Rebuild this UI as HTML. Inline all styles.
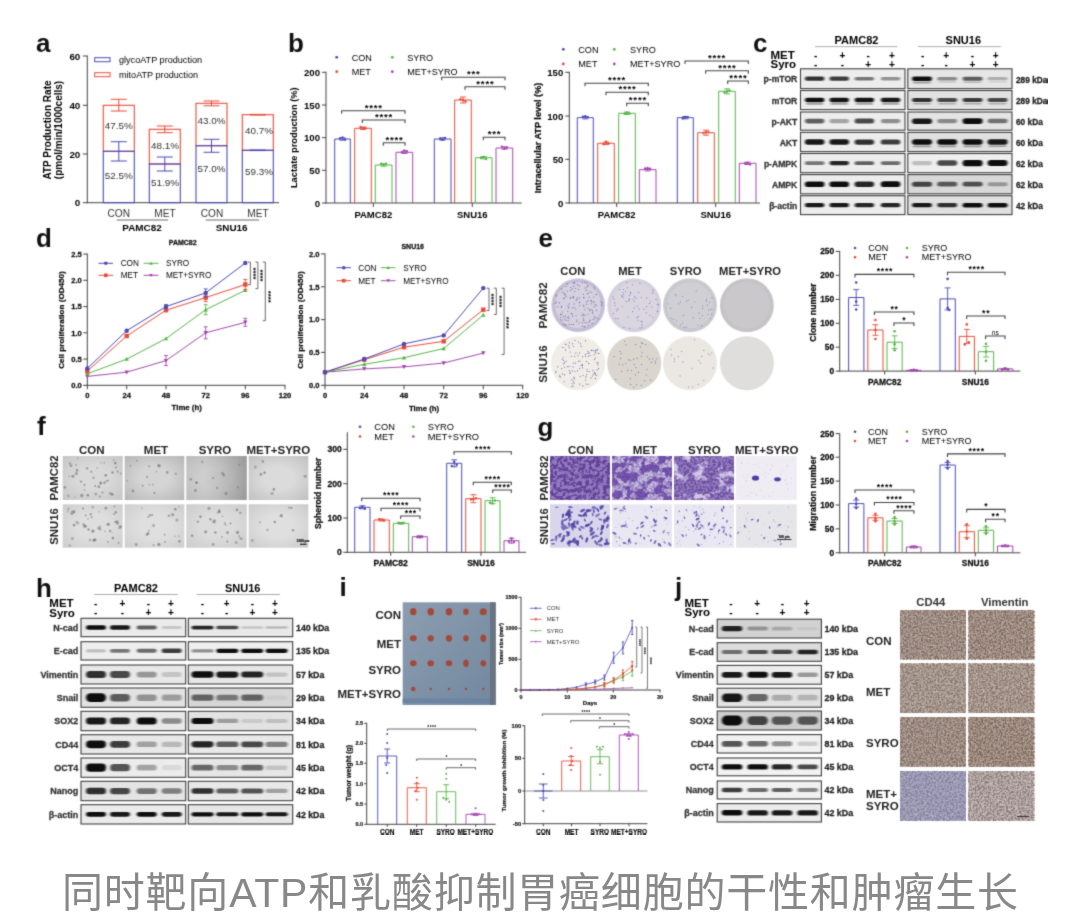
<!DOCTYPE html>
<html lang="zh"><head><meta charset="utf-8"><title>Figure</title>
<style>
html,body{margin:0;padding:0;background:#fff;}
body{width:1080px;height:923px;position:relative;overflow:hidden;font-family:"Liberation Sans","Noto Sans CJK SC",sans-serif;}
svg{position:absolute;left:0;top:0;display:block;font-family:"Liberation Sans","Noto Sans CJK SC",sans-serif;}
.cap{position:absolute;left:0;top:865px;width:1080px;text-align:center;font-size:41px;line-height:56px;color:#888;letter-spacing:0.8px;text-indent:0.8px;white-space:nowrap;}
</style></head><body>
<svg width="1080" height="923" viewBox="0 0 1080 923">
<defs>
<filter id="bl" x="-20%" y="-60%" width="140%" height="220%"><feGaussianBlur stdDeviation="1.1 0.7"/></filter>
<filter id="bl2" x="-20%" y="-60%" width="140%" height="220%"><feGaussianBlur stdDeviation="1.6 1.3"/></filter>
<filter id="soft"><feGaussianBlur stdDeviation="0.6"/></filter>
<filter id="nz" x="0" y="0" width="100%" height="100%" color-interpolation-filters="sRGB"><feTurbulence type="fractalNoise" baseFrequency="0.6" numOctaves="2" seed="4"/><feColorMatrix type="matrix" values="0 0 0 0 0.45  0 0 0 0 0.35  0 0 0 0 0.30  6 0 0 0 -2.6"/></filter>
<filter id="nzl" x="0" y="0" width="100%" height="100%" color-interpolation-filters="sRGB"><feTurbulence type="fractalNoise" baseFrequency="0.45" numOctaves="2" seed="17"/><feColorMatrix type="matrix" values="0 0 0 0 0.86  0 0 0 0 0.83  0 0 0 0 0.82  7 0 0 0 -3.9"/></filter>
<filter id="nzb" x="0" y="0" width="100%" height="100%" color-interpolation-filters="sRGB"><feTurbulence type="fractalNoise" baseFrequency="0.55" numOctaves="2" seed="9"/><feColorMatrix type="matrix" values="0 0 0 0 0.42  0 0 0 0 0.41  0 0 0 0 0.58  6 0 0 0 -2.7"/></filter>
<filter id="nzg" x="0" y="0" width="100%" height="100%"><feTurbulence type="fractalNoise" baseFrequency="0.35" numOctaves="2" seed="2"/><feColorMatrix type="matrix" values="0 0 0 0 0.3  0 0 0 0 0.3  0 0 0 0 0.3  0.9 0 0 0 -0.35"/></filter>
<filter id="gA" x="0" y="0" width="100%" height="100%" color-interpolation-filters="sRGB"><feTurbulence type="fractalNoise" baseFrequency="0.28" numOctaves="3" seed="5"/><feColorMatrix type="matrix" values="0 0 0 0 0.36  0 0 0 0 0.22  0 0 0 0 0.58  7 0 0 0 -3.0"/></filter>
<filter id="gB" x="0" y="0" width="100%" height="100%" color-interpolation-filters="sRGB"><feTurbulence type="fractalNoise" baseFrequency="0.11" numOctaves="4" seed="8"/><feColorMatrix type="matrix" values="0 0 0 0 0.45  0 0 0 0 0.32  0 0 0 0 0.68  8 0 0 0 -3.5"/></filter>
<filter id="gC" x="0" y="0" width="100%" height="100%" color-interpolation-filters="sRGB"><feTurbulence type="fractalNoise" baseFrequency="0.085" numOctaves="4" seed="14"/><feColorMatrix type="matrix" values="0 0 0 0 0.84  0 0 0 0 0.80  0 0 0 0 0.92  10 0 0 0 -5.5"/></filter>
<filter id="gD" x="0" y="0" width="100%" height="100%" color-interpolation-filters="sRGB"><feTurbulence type="fractalNoise" baseFrequency="0.38" numOctaves="2" seed="21"/><feColorMatrix type="matrix" values="0 0 0 0 0.33  0 0 0 0 0.20  0 0 0 0 0.56  7 0 0 0 -3.1"/></filter>
<radialGradient id="vg2" cx="50%" cy="50%" r="72%"><stop offset="0.35" stop-color="#777" stop-opacity="0"/><stop offset="1" stop-color="#666" stop-opacity="1"/></radialGradient>
<linearGradient id="vgr" x1="0" y1="0" x2="1" y2="0"><stop offset="0.3" stop-color="#777" stop-opacity="0"/><stop offset="1" stop-color="#666" stop-opacity="1"/></linearGradient>
<radialGradient id="vg" cx="50%" cy="50%" r="75%"><stop offset="0.4" stop-color="#888" stop-opacity="0"/><stop offset="1" stop-color="#555" stop-opacity="1"/></radialGradient>
<filter id="gsoft" x="0" y="0" width="100%" height="100%" color-interpolation-filters="sRGB"><feConvolveMatrix order="3" kernelMatrix="0.0225 0.105 0.0225 0.105 0.49 0.105 0.0225 0.105 0.0225" divisor="1" edgeMode="duplicate"/></filter>
</defs>

<g id="fig" filter="url(#gsoft)">
<text x="36.0" y="52.0" font-size="26" font-weight="bold" fill="#111">a</text>
<line x1="87.3" y1="55.5" x2="87.3" y2="203.2" stroke="#444" stroke-width="1"/>
<line x1="82.8" y1="56.0" x2="87.3" y2="56.0" stroke="#444" stroke-width="1"/>
<text x="80.3" y="59.5" font-size="9.8" font-weight="bold" text-anchor="end">60</text>
<line x1="82.8" y1="105.3" x2="87.3" y2="105.3" stroke="#444" stroke-width="1"/>
<text x="80.3" y="108.8" font-size="9.8" font-weight="bold" text-anchor="end">40</text>
<line x1="82.8" y1="154.0" x2="87.3" y2="154.0" stroke="#444" stroke-width="1"/>
<text x="80.3" y="157.5" font-size="9.8" font-weight="bold" text-anchor="end">20</text>
<line x1="82.8" y1="202.7" x2="87.3" y2="202.7" stroke="#444" stroke-width="1"/>
<text x="80.3" y="206.2" font-size="9.8" font-weight="bold" text-anchor="end">0</text>
<line x1="86.8" y1="202.7" x2="279.0" y2="202.7" stroke="#444" stroke-width="1"/>
<text x="50.8" y="130.0" font-size="10" font-weight="bold" text-anchor="middle" transform="rotate(-90 50.8 130.0)">ATP Production Rate</text>
<text x="62.0" y="130.0" font-size="10" font-weight="bold" text-anchor="middle" transform="rotate(-90 62.0 130.0)">(pmol/min/1000cells)</text>
<rect x="94.7" y="57.7" width="15.3" height="4.0" fill="none" stroke="#4a4ab8" stroke-width="1"/>
<text x="119.0" y="63.2" font-size="9.1">glycoATP production</text>
<rect x="94.7" y="72.7" width="15.3" height="4.0" fill="none" stroke="#ea4a35" stroke-width="1"/>
<text x="119.0" y="78.2" font-size="9.1">mitoATP production</text>
<rect x="103.3" y="105.3" width="31.0" height="46.0" fill="none" stroke="#ea4a35" stroke-width="1.1"/>
<rect x="103.3" y="151.3" width="31.0" height="51.4" fill="none" stroke="#4a4ab8" stroke-width="1.1"/>
<line x1="118.8" y1="99.3" x2="118.8" y2="111.0" stroke="#ea4a35" stroke-width="1"/>
<line x1="110.8" y1="99.3" x2="126.8" y2="99.3" stroke="#ea4a35" stroke-width="1"/>
<line x1="110.8" y1="111.0" x2="126.8" y2="111.0" stroke="#ea4a35" stroke-width="1"/>
<line x1="118.8" y1="141.7" x2="118.8" y2="161.0" stroke="#4a4ab8" stroke-width="1"/>
<line x1="110.8" y1="141.7" x2="126.8" y2="141.7" stroke="#4a4ab8" stroke-width="1"/>
<line x1="110.8" y1="161.0" x2="126.8" y2="161.0" stroke="#4a4ab8" stroke-width="1"/>
<rect x="149.3" y="129.3" width="31.0" height="34.7" fill="none" stroke="#ea4a35" stroke-width="1.1"/>
<rect x="149.3" y="164.0" width="31.0" height="38.7" fill="none" stroke="#4a4ab8" stroke-width="1.1"/>
<line x1="164.8" y1="126.0" x2="164.8" y2="132.7" stroke="#ea4a35" stroke-width="1"/>
<line x1="156.8" y1="126.0" x2="172.8" y2="126.0" stroke="#ea4a35" stroke-width="1"/>
<line x1="156.8" y1="132.7" x2="172.8" y2="132.7" stroke="#ea4a35" stroke-width="1"/>
<line x1="164.8" y1="157.0" x2="164.8" y2="171.0" stroke="#4a4ab8" stroke-width="1"/>
<line x1="156.8" y1="157.0" x2="172.8" y2="157.0" stroke="#4a4ab8" stroke-width="1"/>
<line x1="156.8" y1="171.0" x2="172.8" y2="171.0" stroke="#4a4ab8" stroke-width="1"/>
<rect x="196.0" y="103.3" width="31.0" height="42.4" fill="none" stroke="#ea4a35" stroke-width="1.1"/>
<rect x="196.0" y="145.7" width="31.0" height="57.0" fill="none" stroke="#4a4ab8" stroke-width="1.1"/>
<line x1="211.5" y1="101.0" x2="211.5" y2="105.8" stroke="#ea4a35" stroke-width="1"/>
<line x1="203.5" y1="101.0" x2="219.5" y2="101.0" stroke="#ea4a35" stroke-width="1"/>
<line x1="203.5" y1="105.8" x2="219.5" y2="105.8" stroke="#ea4a35" stroke-width="1"/>
<line x1="211.5" y1="139.3" x2="211.5" y2="152.3" stroke="#4a4ab8" stroke-width="1"/>
<line x1="203.5" y1="139.3" x2="219.5" y2="139.3" stroke="#4a4ab8" stroke-width="1"/>
<line x1="203.5" y1="152.3" x2="219.5" y2="152.3" stroke="#4a4ab8" stroke-width="1"/>
<rect x="242.3" y="114.7" width="31.0" height="35.6" fill="none" stroke="#ea4a35" stroke-width="1.1"/>
<rect x="242.3" y="150.3" width="31.0" height="52.4" fill="none" stroke="#4a4ab8" stroke-width="1.1"/>
<line x1="257.8" y1="114.4" x2="257.8" y2="115.0" stroke="#ea4a35" stroke-width="1"/>
<line x1="249.8" y1="114.4" x2="265.8" y2="114.4" stroke="#ea4a35" stroke-width="1"/>
<line x1="249.8" y1="115.0" x2="265.8" y2="115.0" stroke="#ea4a35" stroke-width="1"/>
<line x1="257.8" y1="150.0" x2="257.8" y2="150.6" stroke="#4a4ab8" stroke-width="1"/>
<line x1="249.8" y1="150.0" x2="265.8" y2="150.0" stroke="#4a4ab8" stroke-width="1"/>
<line x1="249.8" y1="150.6" x2="265.8" y2="150.6" stroke="#4a4ab8" stroke-width="1"/>
<text x="118.8" y="129.0" font-size="9.9" text-anchor="middle" fill="#333">47.5%</text>
<text x="118.8" y="179.0" font-size="9.9" text-anchor="middle" fill="#333">52.5%</text>
<text x="165.0" y="149.0" font-size="9.9" text-anchor="middle" fill="#333">48.1%</text>
<text x="165.0" y="185.5" font-size="9.9" text-anchor="middle" fill="#333">51.9%</text>
<text x="211.5" y="124.0" font-size="9.9" text-anchor="middle" fill="#333">43.0%</text>
<text x="211.5" y="172.3" font-size="9.9" text-anchor="middle" fill="#333">57.0%</text>
<text x="259.0" y="134.0" font-size="9.9" text-anchor="middle" fill="#333">40.7%</text>
<text x="259.0" y="175.0" font-size="9.9" text-anchor="middle" fill="#333">59.3%</text>
<text x="118.8" y="216.8" font-size="10.1" text-anchor="middle" fill="#333">CON</text>
<text x="165.0" y="216.8" font-size="10.1" text-anchor="middle" fill="#333">MET</text>
<text x="212.0" y="216.8" font-size="10.1" text-anchor="middle" fill="#333">CON</text>
<text x="258.0" y="216.8" font-size="10.1" text-anchor="middle" fill="#333">MET</text>
<line x1="116.7" y1="220.0" x2="168.0" y2="220.0" stroke="#444" stroke-width="0.8"/>
<line x1="205.7" y1="220.0" x2="259.0" y2="220.0" stroke="#444" stroke-width="0.8"/>
<text x="142.0" y="230.8" font-size="9.9" font-weight="bold" text-anchor="middle">PAMC82</text>
<text x="231.7" y="230.8" font-size="9.9" font-weight="bold" text-anchor="middle">SNU16</text>
<text x="288.0" y="52.0" font-size="26" font-weight="bold" fill="#111">b</text>
<circle cx="336.7" cy="57.3" r="1.4" fill="#4a4ab8"/>
<text x="351.7" y="60.6" font-size="9.1">CON</text>
<circle cx="336.7" cy="71.7" r="1.4" fill="#ea4a35"/>
<text x="351.7" y="75.0" font-size="9.1">MET</text>
<circle cx="392.3" cy="57.3" r="1.4" fill="#55b546"/>
<text x="407.3" y="60.6" font-size="9.1">SYRO</text>
<circle cx="392.3" cy="71.7" r="1.4" fill="#a247ad"/>
<text x="407.3" y="75.0" font-size="9.1">MET+SYRO</text>
<line x1="326.0" y1="71.8" x2="326.0" y2="203.5" stroke="#444" stroke-width="1"/>
<line x1="322.0" y1="72.3" x2="326.0" y2="72.3" stroke="#444" stroke-width="1"/>
<text x="320.0" y="75.8" font-size="9.6" font-weight="bold" text-anchor="end">200</text>
<line x1="322.0" y1="105.0" x2="326.0" y2="105.0" stroke="#444" stroke-width="1"/>
<text x="320.0" y="108.5" font-size="9.6" font-weight="bold" text-anchor="end">150</text>
<line x1="322.0" y1="137.7" x2="326.0" y2="137.7" stroke="#444" stroke-width="1"/>
<text x="320.0" y="141.2" font-size="9.6" font-weight="bold" text-anchor="end">100</text>
<line x1="322.0" y1="170.3" x2="326.0" y2="170.3" stroke="#444" stroke-width="1"/>
<text x="320.0" y="173.8" font-size="9.6" font-weight="bold" text-anchor="end">50</text>
<line x1="322.0" y1="203.0" x2="326.0" y2="203.0" stroke="#444" stroke-width="1"/>
<text x="320.0" y="206.5" font-size="9.6" font-weight="bold" text-anchor="end">0</text>
<line x1="325.5" y1="203.0" x2="521.7" y2="203.0" stroke="#444" stroke-width="1"/>
<line x1="373.3" y1="203.0" x2="373.3" y2="207.0" stroke="#444" stroke-width="1"/>
<line x1="472.3" y1="203.0" x2="472.3" y2="207.0" stroke="#444" stroke-width="1"/>
<text x="297.5" y="137.7" font-size="9.3" font-weight="bold" text-anchor="middle" transform="rotate(-90 297.5 137.7)">Lactate production (%)</text>
<path d="M334.7 203.0V139.0H350.3V203.0" stroke="#4a4ab8" stroke-width="1.0" fill="none"/>
<line x1="342.5" y1="137.8" x2="342.5" y2="140.2" stroke="#4a4ab8" stroke-width="0.9"/>
<line x1="339.5" y1="137.8" x2="345.5" y2="137.8" stroke="#4a4ab8" stroke-width="0.9"/>
<line x1="339.5" y1="140.2" x2="345.5" y2="140.2" stroke="#4a4ab8" stroke-width="0.9"/>
<circle cx="340.0" cy="138.5" r="1.2" fill="#4a4ab8"/>
<circle cx="342.5" cy="137.5" r="1.2" fill="#4a4ab8"/>
<circle cx="345.0" cy="139.5" r="1.2" fill="#4a4ab8"/>
<path d="M354.7 203.0V128.3H371.3V203.0" stroke="#ea4a35" stroke-width="1.0" fill="none"/>
<line x1="363.0" y1="127.1" x2="363.0" y2="129.5" stroke="#ea4a35" stroke-width="0.9"/>
<line x1="360.0" y1="127.1" x2="366.0" y2="127.1" stroke="#ea4a35" stroke-width="0.9"/>
<line x1="360.0" y1="129.5" x2="366.0" y2="129.5" stroke="#ea4a35" stroke-width="0.9"/>
<circle cx="360.5" cy="127.0" r="1.2" fill="#ea4a35"/>
<circle cx="363.0" cy="127.9" r="1.2" fill="#ea4a35"/>
<circle cx="365.5" cy="127.9" r="1.2" fill="#ea4a35"/>
<path d="M375.3 203.0V165.0H392.0V203.0" stroke="#55b546" stroke-width="1.0" fill="none"/>
<line x1="383.6" y1="163.8" x2="383.6" y2="166.2" stroke="#55b546" stroke-width="0.9"/>
<line x1="380.6" y1="163.8" x2="386.6" y2="163.8" stroke="#55b546" stroke-width="0.9"/>
<line x1="380.6" y1="166.2" x2="386.6" y2="166.2" stroke="#55b546" stroke-width="0.9"/>
<circle cx="381.1" cy="163.7" r="1.2" fill="#55b546"/>
<circle cx="383.6" cy="164.5" r="1.2" fill="#55b546"/>
<circle cx="386.1" cy="163.6" r="1.2" fill="#55b546"/>
<path d="M396.0 203.0V152.3H412.7V203.0" stroke="#a247ad" stroke-width="1.0" fill="none"/>
<line x1="404.4" y1="151.1" x2="404.4" y2="153.5" stroke="#a247ad" stroke-width="0.9"/>
<line x1="401.4" y1="151.1" x2="407.4" y2="151.1" stroke="#a247ad" stroke-width="0.9"/>
<line x1="401.4" y1="153.5" x2="407.4" y2="153.5" stroke="#a247ad" stroke-width="0.9"/>
<circle cx="401.9" cy="152.1" r="1.2" fill="#a247ad"/>
<circle cx="404.4" cy="150.5" r="1.2" fill="#a247ad"/>
<circle cx="406.9" cy="151.1" r="1.2" fill="#a247ad"/>
<path d="M434.3 203.0V139.0H451.0V203.0" stroke="#4a4ab8" stroke-width="1.0" fill="none"/>
<line x1="442.6" y1="137.8" x2="442.6" y2="140.2" stroke="#4a4ab8" stroke-width="0.9"/>
<line x1="439.6" y1="137.8" x2="445.6" y2="137.8" stroke="#4a4ab8" stroke-width="0.9"/>
<line x1="439.6" y1="140.2" x2="445.6" y2="140.2" stroke="#4a4ab8" stroke-width="0.9"/>
<circle cx="440.1" cy="138.8" r="1.2" fill="#4a4ab8"/>
<circle cx="442.6" cy="139.5" r="1.2" fill="#4a4ab8"/>
<circle cx="445.1" cy="137.9" r="1.2" fill="#4a4ab8"/>
<path d="M454.7 203.0V100.0H471.3V203.0" stroke="#ea4a35" stroke-width="1.0" fill="none"/>
<line x1="463.0" y1="97.0" x2="463.0" y2="103.0" stroke="#ea4a35" stroke-width="0.9"/>
<line x1="460.0" y1="97.0" x2="466.0" y2="97.0" stroke="#ea4a35" stroke-width="0.9"/>
<line x1="460.0" y1="103.0" x2="466.0" y2="103.0" stroke="#ea4a35" stroke-width="0.9"/>
<circle cx="460.5" cy="99.2" r="1.2" fill="#ea4a35"/>
<circle cx="463.0" cy="99.9" r="1.2" fill="#ea4a35"/>
<circle cx="465.5" cy="101.3" r="1.2" fill="#ea4a35"/>
<path d="M475.3 203.0V157.7H492.0V203.0" stroke="#55b546" stroke-width="1.0" fill="none"/>
<line x1="483.6" y1="156.5" x2="483.6" y2="158.9" stroke="#55b546" stroke-width="0.9"/>
<line x1="480.6" y1="156.5" x2="486.6" y2="156.5" stroke="#55b546" stroke-width="0.9"/>
<line x1="480.6" y1="158.9" x2="486.6" y2="158.9" stroke="#55b546" stroke-width="0.9"/>
<circle cx="481.1" cy="157.9" r="1.2" fill="#55b546"/>
<circle cx="483.6" cy="156.9" r="1.2" fill="#55b546"/>
<circle cx="486.1" cy="159.1" r="1.2" fill="#55b546"/>
<path d="M496.0 203.0V148.0H512.7V203.0" stroke="#a247ad" stroke-width="1.0" fill="none"/>
<line x1="504.4" y1="146.8" x2="504.4" y2="149.2" stroke="#a247ad" stroke-width="0.9"/>
<line x1="501.4" y1="146.8" x2="507.4" y2="146.8" stroke="#a247ad" stroke-width="0.9"/>
<line x1="501.4" y1="149.2" x2="507.4" y2="149.2" stroke="#a247ad" stroke-width="0.9"/>
<circle cx="501.9" cy="146.6" r="1.2" fill="#a247ad"/>
<circle cx="504.4" cy="148.6" r="1.2" fill="#a247ad"/>
<circle cx="506.9" cy="147.4" r="1.2" fill="#a247ad"/>
<path d="M341.7 113.7V110.7H405.0V113.7" stroke="#444" stroke-width="1.1" fill="none"/>
<text x="373.8" y="110.5" font-size="9.6" font-weight="bold" text-anchor="middle" letter-spacing="0.80">****</text>
<path d="M362.3 123.0V120.0H405.0V123.0" stroke="#444" stroke-width="1.1" fill="none"/>
<text x="384.0" y="119.8" font-size="9.6" font-weight="bold" text-anchor="middle" letter-spacing="0.80">****</text>
<path d="M383.3 145.7V142.7H405.0V145.7" stroke="#444" stroke-width="1.1" fill="none"/>
<text x="394.5" y="142.5" font-size="9.6" font-weight="bold" text-anchor="middle" letter-spacing="0.80">****</text>
<path d="M441.7 80.3V77.3H505.0V80.3" stroke="#444" stroke-width="1.1" fill="none"/>
<text x="473.8" y="77.1" font-size="9.6" font-weight="bold" text-anchor="middle" letter-spacing="0.80">***</text>
<path d="M465.0 89.7V86.7H505.0V89.7" stroke="#444" stroke-width="1.1" fill="none"/>
<text x="485.4" y="86.5" font-size="9.6" font-weight="bold" text-anchor="middle" letter-spacing="0.80">****</text>
<path d="M483.3 140.3V137.3H505.0V140.3" stroke="#444" stroke-width="1.1" fill="none"/>
<text x="494.5" y="137.1" font-size="9.6" font-weight="bold" text-anchor="middle" letter-spacing="0.80">***</text>
<text x="373.3" y="217.5" font-size="9.5" font-weight="bold" text-anchor="middle">PAMC82</text>
<text x="472.3" y="217.5" font-size="9.5" font-weight="bold" text-anchor="middle">SNU16</text>
<circle cx="563.3" cy="49.3" r="1.4" fill="#4a4ab8"/>
<text x="578.3" y="52.6" font-size="9.1">CON</text>
<circle cx="563.3" cy="64.0" r="1.4" fill="#ea4a35"/>
<text x="578.3" y="67.3" font-size="9.1">MET</text>
<circle cx="614.3" cy="49.3" r="1.4" fill="#55b546"/>
<text x="630.0" y="52.6" font-size="9.1">SYRO</text>
<circle cx="614.3" cy="64.0" r="1.4" fill="#a247ad"/>
<text x="630.0" y="67.3" font-size="9.1">MET+SYRO</text>
<line x1="569.3" y1="71.8" x2="569.3" y2="203.5" stroke="#444" stroke-width="1"/>
<line x1="565.3" y1="72.3" x2="569.3" y2="72.3" stroke="#444" stroke-width="1"/>
<text x="563.3" y="75.8" font-size="9.6" font-weight="bold" text-anchor="end">150</text>
<line x1="565.3" y1="116.0" x2="569.3" y2="116.0" stroke="#444" stroke-width="1"/>
<text x="563.3" y="119.5" font-size="9.6" font-weight="bold" text-anchor="end">100</text>
<line x1="565.3" y1="159.3" x2="569.3" y2="159.3" stroke="#444" stroke-width="1"/>
<text x="563.3" y="162.8" font-size="9.6" font-weight="bold" text-anchor="end">50</text>
<line x1="565.3" y1="203.0" x2="569.3" y2="203.0" stroke="#444" stroke-width="1"/>
<text x="563.3" y="206.5" font-size="9.6" font-weight="bold" text-anchor="end">0</text>
<line x1="568.8" y1="203.0" x2="760.0" y2="203.0" stroke="#444" stroke-width="1"/>
<line x1="616.7" y1="203.0" x2="616.7" y2="207.0" stroke="#444" stroke-width="1"/>
<line x1="715.7" y1="203.0" x2="715.7" y2="207.0" stroke="#444" stroke-width="1"/>
<text x="541.0" y="138.0" font-size="9.1" font-weight="bold" text-anchor="middle" stroke="#2a2a2a" stroke-width="0.28" transform="rotate(-90 541.0 138.0)">Intracellular ATP level (%)</text>
<path d="M577.3 203.0V117.7H593.3V203.0" stroke="#4a4ab8" stroke-width="1.0" fill="none"/>
<line x1="585.3" y1="116.5" x2="585.3" y2="118.9" stroke="#4a4ab8" stroke-width="0.9"/>
<line x1="582.3" y1="116.5" x2="588.3" y2="116.5" stroke="#4a4ab8" stroke-width="0.9"/>
<line x1="582.3" y1="118.9" x2="588.3" y2="118.9" stroke="#4a4ab8" stroke-width="0.9"/>
<circle cx="582.8" cy="116.6" r="1.2" fill="#4a4ab8"/>
<circle cx="585.3" cy="116.1" r="1.2" fill="#4a4ab8"/>
<circle cx="587.8" cy="117.1" r="1.2" fill="#4a4ab8"/>
<path d="M597.7 203.0V143.3H614.3V203.0" stroke="#ea4a35" stroke-width="1.0" fill="none"/>
<line x1="606.0" y1="142.1" x2="606.0" y2="144.5" stroke="#ea4a35" stroke-width="0.9"/>
<line x1="603.0" y1="142.1" x2="609.0" y2="142.1" stroke="#ea4a35" stroke-width="0.9"/>
<line x1="603.0" y1="144.5" x2="609.0" y2="144.5" stroke="#ea4a35" stroke-width="0.9"/>
<circle cx="603.5" cy="144.2" r="1.2" fill="#ea4a35"/>
<circle cx="606.0" cy="141.8" r="1.2" fill="#ea4a35"/>
<circle cx="608.5" cy="143.5" r="1.2" fill="#ea4a35"/>
<path d="M618.7 203.0V113.3H635.3V203.0" stroke="#55b546" stroke-width="1.0" fill="none"/>
<line x1="627.0" y1="112.1" x2="627.0" y2="114.5" stroke="#55b546" stroke-width="0.9"/>
<line x1="624.0" y1="112.1" x2="630.0" y2="112.1" stroke="#55b546" stroke-width="0.9"/>
<line x1="624.0" y1="114.5" x2="630.0" y2="114.5" stroke="#55b546" stroke-width="0.9"/>
<circle cx="624.5" cy="113.7" r="1.2" fill="#55b546"/>
<circle cx="627.0" cy="112.4" r="1.2" fill="#55b546"/>
<circle cx="629.5" cy="113.4" r="1.2" fill="#55b546"/>
<path d="M639.3 203.0V169.7H656.0V203.0" stroke="#a247ad" stroke-width="1.0" fill="none"/>
<line x1="647.6" y1="168.5" x2="647.6" y2="170.9" stroke="#a247ad" stroke-width="0.9"/>
<line x1="644.6" y1="168.5" x2="650.6" y2="168.5" stroke="#a247ad" stroke-width="0.9"/>
<line x1="644.6" y1="170.9" x2="650.6" y2="170.9" stroke="#a247ad" stroke-width="0.9"/>
<circle cx="645.1" cy="168.4" r="1.2" fill="#a247ad"/>
<circle cx="647.6" cy="167.9" r="1.2" fill="#a247ad"/>
<circle cx="650.1" cy="168.8" r="1.2" fill="#a247ad"/>
<path d="M677.3 203.0V117.7H693.3V203.0" stroke="#4a4ab8" stroke-width="1.0" fill="none"/>
<line x1="685.3" y1="116.5" x2="685.3" y2="118.9" stroke="#4a4ab8" stroke-width="0.9"/>
<line x1="682.3" y1="116.5" x2="688.3" y2="116.5" stroke="#4a4ab8" stroke-width="0.9"/>
<line x1="682.3" y1="118.9" x2="688.3" y2="118.9" stroke="#4a4ab8" stroke-width="0.9"/>
<circle cx="682.8" cy="118.2" r="1.2" fill="#4a4ab8"/>
<circle cx="685.3" cy="117.0" r="1.2" fill="#4a4ab8"/>
<circle cx="687.8" cy="117.1" r="1.2" fill="#4a4ab8"/>
<path d="M697.7 203.0V132.7H714.3V203.0" stroke="#ea4a35" stroke-width="1.0" fill="none"/>
<line x1="706.0" y1="130.2" x2="706.0" y2="135.2" stroke="#ea4a35" stroke-width="0.9"/>
<line x1="703.0" y1="130.2" x2="709.0" y2="130.2" stroke="#ea4a35" stroke-width="0.9"/>
<line x1="703.0" y1="135.2" x2="709.0" y2="135.2" stroke="#ea4a35" stroke-width="0.9"/>
<circle cx="703.5" cy="133.0" r="1.2" fill="#ea4a35"/>
<circle cx="706.0" cy="132.1" r="1.2" fill="#ea4a35"/>
<circle cx="708.5" cy="132.1" r="1.2" fill="#ea4a35"/>
<path d="M718.7 203.0V91.3H735.3V203.0" stroke="#55b546" stroke-width="1.0" fill="none"/>
<line x1="727.0" y1="88.8" x2="727.0" y2="93.8" stroke="#55b546" stroke-width="0.9"/>
<line x1="724.0" y1="88.8" x2="730.0" y2="88.8" stroke="#55b546" stroke-width="0.9"/>
<line x1="724.0" y1="93.8" x2="730.0" y2="93.8" stroke="#55b546" stroke-width="0.9"/>
<circle cx="724.5" cy="92.2" r="1.2" fill="#55b546"/>
<circle cx="727.0" cy="91.4" r="1.2" fill="#55b546"/>
<circle cx="729.5" cy="90.5" r="1.2" fill="#55b546"/>
<path d="M739.3 203.0V163.3H756.0V203.0" stroke="#a247ad" stroke-width="1.0" fill="none"/>
<line x1="747.6" y1="162.1" x2="747.6" y2="164.5" stroke="#a247ad" stroke-width="0.9"/>
<line x1="744.6" y1="162.1" x2="750.6" y2="162.1" stroke="#a247ad" stroke-width="0.9"/>
<line x1="744.6" y1="164.5" x2="750.6" y2="164.5" stroke="#a247ad" stroke-width="0.9"/>
<circle cx="745.1" cy="163.5" r="1.2" fill="#a247ad"/>
<circle cx="747.6" cy="162.9" r="1.2" fill="#a247ad"/>
<circle cx="750.1" cy="164.4" r="1.2" fill="#a247ad"/>
<path d="M585.0 86.3V83.3H648.3V86.3" stroke="#444" stroke-width="1.1" fill="none"/>
<text x="617.0" y="83.1" font-size="9.6" font-weight="bold" text-anchor="middle" letter-spacing="0.80">****</text>
<path d="M606.0 95.3V92.3H648.3V95.3" stroke="#444" stroke-width="1.1" fill="none"/>
<text x="627.5" y="92.1" font-size="9.6" font-weight="bold" text-anchor="middle" letter-spacing="0.80">****</text>
<path d="M626.7 106.3V103.3H648.3V106.3" stroke="#444" stroke-width="1.1" fill="none"/>
<text x="637.9" y="103.1" font-size="9.6" font-weight="bold" text-anchor="middle" letter-spacing="0.80">****</text>
<path d="M685.0 64.0V61.0H748.3V64.0" stroke="#444" stroke-width="1.1" fill="none"/>
<text x="717.0" y="60.8" font-size="9.6" font-weight="bold" text-anchor="middle" letter-spacing="0.80">****</text>
<path d="M705.7 73.7V70.7H748.3V73.7" stroke="#444" stroke-width="1.1" fill="none"/>
<text x="727.4" y="70.5" font-size="9.6" font-weight="bold" text-anchor="middle" letter-spacing="0.80">****</text>
<path d="M727.7 84.0V81.0H748.3V84.0" stroke="#444" stroke-width="1.1" fill="none"/>
<text x="738.4" y="80.8" font-size="9.6" font-weight="bold" text-anchor="middle" letter-spacing="0.80">****</text>
<text x="616.7" y="217.5" font-size="9.5" font-weight="bold" text-anchor="middle">PAMC82</text>
<text x="715.7" y="217.5" font-size="9.5" font-weight="bold" text-anchor="middle">SNU16</text>
<text x="753.0" y="51.5" font-size="26" font-weight="bold" fill="#111">c</text>
<text x="856.5" y="44.3" font-size="11" font-weight="bold" text-anchor="middle">PAMC82</text>
<line x1="815.0" y1="46.6" x2="897.4" y2="46.6" stroke="#888" stroke-width="0.7"/>
<text x="963.3" y="44.3" font-size="11" font-weight="bold" text-anchor="middle">SNU16</text>
<line x1="918.0" y1="46.6" x2="1000.7" y2="46.6" stroke="#888" stroke-width="0.7"/>
<text x="770.5" y="58.6" font-size="11.5" font-weight="bold">MET</text>
<text x="770.5" y="68.2" font-size="11.5" font-weight="bold">Syro</text>
<text x="815.6" y="58.6" font-size="10" font-weight="bold" text-anchor="middle">-</text>
<text x="842.3" y="58.6" font-size="10" font-weight="bold" text-anchor="middle">+</text>
<text x="868.2" y="58.6" font-size="10" font-weight="bold" text-anchor="middle">-</text>
<text x="891.8" y="58.6" font-size="10" font-weight="bold" text-anchor="middle">+</text>
<text x="922.6" y="58.6" font-size="10" font-weight="bold" text-anchor="middle">-</text>
<text x="946.2" y="58.6" font-size="10" font-weight="bold" text-anchor="middle">+</text>
<text x="972.4" y="58.6" font-size="10" font-weight="bold" text-anchor="middle">-</text>
<text x="995.7" y="58.6" font-size="10" font-weight="bold" text-anchor="middle">+</text>
<text x="815.6" y="67.7" font-size="10" font-weight="bold" text-anchor="middle">-</text>
<text x="842.3" y="67.7" font-size="10" font-weight="bold" text-anchor="middle">-</text>
<text x="868.2" y="67.7" font-size="10" font-weight="bold" text-anchor="middle">+</text>
<text x="891.8" y="67.7" font-size="10" font-weight="bold" text-anchor="middle">+</text>
<text x="922.6" y="67.7" font-size="10" font-weight="bold" text-anchor="middle">-</text>
<text x="946.2" y="67.7" font-size="10" font-weight="bold" text-anchor="middle">-</text>
<text x="972.4" y="67.7" font-size="10" font-weight="bold" text-anchor="middle">+</text>
<text x="995.7" y="67.7" font-size="10" font-weight="bold" text-anchor="middle">+</text>
<rect x="800.5" y="68.8" width="104.5" height="19.8" fill="#ededed" stroke="#404040" stroke-width="1.1"/>
<rect x="804.9" y="76.6" width="19.5" height="4.2" rx="2.1" fill="#111" opacity="0.84" filter="url(#bl)"/>
<rect x="829.5" y="76.6" width="19.5" height="4.1" rx="2.1" fill="#111" opacity="0.79" filter="url(#bl)"/>
<rect x="854.6" y="76.9" width="19.5" height="3.7" rx="1.8" fill="#111" opacity="0.53" filter="url(#bl)"/>
<rect x="880.8" y="77.0" width="19.5" height="3.4" rx="1.7" fill="#111" opacity="0.40" filter="url(#bl)"/>
<rect x="907.8" y="68.8" width="104.2" height="19.8" fill="#e6e6e6" stroke="#404040" stroke-width="1.1"/>
<rect x="912.0" y="76.4" width="20.0" height="4.5" rx="2.3" fill="#111" opacity="1.00" filter="url(#bl)"/>
<rect x="913.0" y="81.8" width="18.0" height="1.6" rx="0.8" fill="#111" opacity="0.35" filter="url(#bl)"/>
<rect x="937.2" y="77.0" width="20.0" height="3.5" rx="1.7" fill="#111" opacity="0.42" filter="url(#bl)"/>
<rect x="938.2" y="81.2" width="18.0" height="1.6" rx="0.8" fill="#111" opacity="0.15" filter="url(#bl)"/>
<rect x="962.6" y="76.8" width="20.0" height="3.9" rx="1.9" fill="#111" opacity="0.63" filter="url(#bl)"/>
<rect x="963.6" y="81.4" width="18.0" height="1.6" rx="0.8" fill="#111" opacity="0.22" filter="url(#bl)"/>
<rect x="987.6" y="77.1" width="20.0" height="3.2" rx="1.6" fill="#111" opacity="0.26" filter="url(#bl)"/>
<rect x="988.6" y="81.1" width="18.0" height="1.6" rx="0.8" fill="#111" opacity="0.09" filter="url(#bl)"/>
<text x="797.3" y="82.3" font-size="8.6" font-weight="bold" text-anchor="end" fill="#333" stroke="#333" stroke-width="0.28">p-mTOR</text>
<text x="1016.0" y="82.7" font-size="8.3" font-weight="bold" fill="#222" stroke="#222" stroke-width="0.28">289 kDa</text>
<rect x="800.5" y="90.5" width="104.5" height="19.1" fill="#ededed" stroke="#404040" stroke-width="1.1"/>
<rect x="804.9" y="97.8" width="19.5" height="4.5" rx="2.3" fill="#111" opacity="1.00" filter="url(#bl)"/>
<rect x="805.9" y="103.1" width="17.5" height="1.6" rx="0.8" fill="#111" opacity="0.35" filter="url(#bl)"/>
<rect x="829.5" y="97.8" width="19.5" height="4.5" rx="2.2" fill="#111" opacity="0.97" filter="url(#bl)"/>
<rect x="830.5" y="103.1" width="17.5" height="1.6" rx="0.8" fill="#111" opacity="0.34" filter="url(#bl)"/>
<rect x="854.6" y="97.8" width="19.5" height="4.5" rx="2.2" fill="#111" opacity="0.97" filter="url(#bl)"/>
<rect x="855.6" y="103.1" width="17.5" height="1.6" rx="0.8" fill="#111" opacity="0.34" filter="url(#bl)"/>
<rect x="880.8" y="97.8" width="19.5" height="4.4" rx="2.2" fill="#111" opacity="0.95" filter="url(#bl)"/>
<rect x="881.8" y="103.1" width="17.5" height="1.6" rx="0.8" fill="#111" opacity="0.33" filter="url(#bl)"/>
<rect x="907.8" y="90.5" width="104.2" height="19.1" fill="#e2e2e2" stroke="#404040" stroke-width="1.1"/>
<rect x="912.0" y="97.9" width="20.0" height="4.2" rx="2.1" fill="#111" opacity="0.84" filter="url(#bl)"/>
<rect x="913.0" y="103.0" width="18.0" height="1.6" rx="0.8" fill="#111" opacity="0.29" filter="url(#bl)"/>
<rect x="937.2" y="98.0" width="20.0" height="4.1" rx="2.0" fill="#111" opacity="0.73" filter="url(#bl)"/>
<rect x="938.2" y="102.9" width="18.0" height="1.6" rx="0.8" fill="#111" opacity="0.26" filter="url(#bl)"/>
<rect x="962.6" y="98.0" width="20.0" height="4.1" rx="2.1" fill="#111" opacity="0.79" filter="url(#bl)"/>
<rect x="963.6" y="102.9" width="18.0" height="1.6" rx="0.8" fill="#111" opacity="0.28" filter="url(#bl)"/>
<rect x="987.6" y="98.0" width="20.0" height="4.1" rx="2.0" fill="#111" opacity="0.73" filter="url(#bl)"/>
<rect x="988.6" y="102.9" width="18.0" height="1.6" rx="0.8" fill="#111" opacity="0.26" filter="url(#bl)"/>
<text x="797.3" y="103.6" font-size="8.6" font-weight="bold" text-anchor="end" fill="#333" stroke="#333" stroke-width="0.28">mTOR</text>
<text x="1016.0" y="104.0" font-size="8.3" font-weight="bold" fill="#222" stroke="#222" stroke-width="0.28">289 kDa</text>
<rect x="800.5" y="112.0" width="104.5" height="18.2" fill="#ededed" stroke="#404040" stroke-width="1.1"/>
<rect x="804.9" y="118.7" width="19.5" height="4.8" rx="2.4" fill="#111" opacity="0.63" filter="url(#bl)"/>
<rect x="829.5" y="119.1" width="19.5" height="4.1" rx="2.0" fill="#111" opacity="0.32" filter="url(#bl)"/>
<rect x="854.6" y="118.6" width="19.5" height="5.0" rx="2.5" fill="#111" opacity="0.73" filter="url(#bl)"/>
<rect x="880.8" y="118.9" width="19.5" height="4.3" rx="2.2" fill="#111" opacity="0.42" filter="url(#bl)"/>
<rect x="907.8" y="112.0" width="104.2" height="18.2" fill="#e4e4e4" stroke="#404040" stroke-width="1.1"/>
<rect x="912.0" y="118.4" width="20.0" height="5.5" rx="2.7" fill="#111" opacity="0.95" filter="url(#bl)"/>
<rect x="937.2" y="118.9" width="20.0" height="4.3" rx="2.2" fill="#111" opacity="0.42" filter="url(#bl)"/>
<rect x="962.6" y="118.2" width="20.0" height="5.7" rx="2.9" fill="#111" opacity="1.00" filter="url(#bl)"/>
<rect x="987.6" y="118.8" width="20.0" height="4.5" rx="2.3" fill="#111" opacity="0.53" filter="url(#bl)"/>
<text x="797.3" y="124.7" font-size="8.6" font-weight="bold" text-anchor="end" fill="#333" stroke="#333" stroke-width="0.28">p-AKT</text>
<text x="1016.0" y="125.1" font-size="8.3" font-weight="bold" fill="#222" stroke="#222" stroke-width="0.28">60 kDa</text>
<rect x="800.5" y="132.4" width="104.5" height="19.2" fill="#ededed" stroke="#404040" stroke-width="1.1"/>
<rect x="804.9" y="139.3" width="19.5" height="5.5" rx="2.7" fill="#111" opacity="0.95" filter="url(#bl)"/>
<rect x="829.5" y="139.3" width="19.5" height="5.5" rx="2.7" fill="#111" opacity="0.95" filter="url(#bl)"/>
<rect x="854.6" y="139.4" width="19.5" height="5.3" rx="2.6" fill="#111" opacity="0.84" filter="url(#bl)"/>
<rect x="880.8" y="139.4" width="19.5" height="5.1" rx="2.6" fill="#111" opacity="0.79" filter="url(#bl)"/>
<rect x="907.8" y="132.4" width="104.2" height="19.2" fill="#e0e0e0" stroke="#404040" stroke-width="1.1"/>
<rect x="912.0" y="139.2" width="20.0" height="5.6" rx="2.8" fill="#111" opacity="1.00" filter="url(#bl)"/>
<rect x="913.0" y="145.6" width="18.0" height="1.6" rx="0.8" fill="#111" opacity="0.35" filter="url(#bl)"/>
<rect x="937.2" y="139.2" width="20.0" height="5.6" rx="2.8" fill="#111" opacity="1.00" filter="url(#bl)"/>
<rect x="938.2" y="145.6" width="18.0" height="1.6" rx="0.8" fill="#111" opacity="0.35" filter="url(#bl)"/>
<rect x="962.6" y="139.2" width="20.0" height="5.6" rx="2.8" fill="#111" opacity="1.00" filter="url(#bl)"/>
<rect x="963.6" y="145.6" width="18.0" height="1.6" rx="0.8" fill="#111" opacity="0.35" filter="url(#bl)"/>
<rect x="987.6" y="139.3" width="20.0" height="5.5" rx="2.7" fill="#111" opacity="0.95" filter="url(#bl)"/>
<rect x="988.6" y="145.5" width="18.0" height="1.6" rx="0.8" fill="#111" opacity="0.33" filter="url(#bl)"/>
<text x="797.3" y="145.6" font-size="8.6" font-weight="bold" text-anchor="end" fill="#333" stroke="#333" stroke-width="0.28">AKT</text>
<text x="1016.0" y="146.0" font-size="8.3" font-weight="bold" fill="#222" stroke="#222" stroke-width="0.28">60 kDa</text>
<rect x="800.5" y="153.5" width="104.5" height="19.2" fill="#ededed" stroke="#404040" stroke-width="1.1"/>
<rect x="804.9" y="161.3" width="19.5" height="3.7" rx="1.8" fill="#111" opacity="0.53" filter="url(#bl)"/>
<rect x="829.5" y="160.9" width="19.5" height="4.3" rx="2.2" fill="#111" opacity="0.89" filter="url(#bl)"/>
<rect x="854.6" y="161.2" width="19.5" height="3.9" rx="1.9" fill="#111" opacity="0.63" filter="url(#bl)"/>
<rect x="880.8" y="161.2" width="19.5" height="3.8" rx="1.9" fill="#111" opacity="0.58" filter="url(#bl)"/>
<rect x="907.8" y="153.5" width="104.2" height="19.2" fill="#efefef" stroke="#404040" stroke-width="1.1"/>
<rect x="912.0" y="161.0" width="20.0" height="4.2" rx="2.1" fill="#111" opacity="0.21" filter="url(#bl)"/>
<rect x="937.2" y="160.3" width="20.0" height="5.5" rx="2.8" fill="#111" opacity="0.73" filter="url(#bl)"/>
<rect x="962.6" y="160.0" width="20.0" height="6.3" rx="3.1" fill="#111" opacity="1.00" filter="url(#bl)"/>
<rect x="987.6" y="160.0" width="20.0" height="6.1" rx="3.1" fill="#111" opacity="1.00" filter="url(#bl)"/>
<text x="797.3" y="166.7" font-size="8.6" font-weight="bold" text-anchor="end" fill="#333" stroke="#333" stroke-width="0.28">p-AMPK</text>
<text x="1016.0" y="167.1" font-size="8.3" font-weight="bold" fill="#222" stroke="#222" stroke-width="0.28">62 kDa</text>
<rect x="800.5" y="174.6" width="104.5" height="19.2" fill="#ededed" stroke="#404040" stroke-width="1.1"/>
<rect x="804.9" y="181.4" width="19.5" height="5.6" rx="2.8" fill="#111" opacity="1.00" filter="url(#bl)"/>
<rect x="829.5" y="181.4" width="19.5" height="5.6" rx="2.8" fill="#111" opacity="1.00" filter="url(#bl)"/>
<rect x="854.6" y="181.5" width="19.5" height="5.4" rx="2.7" fill="#111" opacity="0.89" filter="url(#bl)"/>
<rect x="880.8" y="181.3" width="19.5" height="5.7" rx="2.9" fill="#111" opacity="1.00" filter="url(#bl)"/>
<rect x="907.8" y="174.6" width="104.2" height="19.2" fill="#d8d8d8" stroke="#404040" stroke-width="1.1"/>
<rect x="912.0" y="181.7" width="20.0" height="5.0" rx="2.5" fill="#111" opacity="0.73" filter="url(#bl)"/>
<rect x="937.2" y="181.8" width="20.0" height="4.8" rx="2.4" fill="#111" opacity="0.63" filter="url(#bl)"/>
<rect x="962.6" y="181.7" width="20.0" height="4.9" rx="2.5" fill="#111" opacity="0.68" filter="url(#bl)"/>
<rect x="987.6" y="182.2" width="20.0" height="4.1" rx="2.0" fill="#111" opacity="0.32" filter="url(#bl)"/>
<text x="797.3" y="187.8" font-size="8.6" font-weight="bold" text-anchor="end" fill="#333" stroke="#333" stroke-width="0.28">AMPK</text>
<text x="1016.0" y="188.2" font-size="8.3" font-weight="bold" fill="#222" stroke="#222" stroke-width="0.28">62 kDa</text>
<rect x="800.5" y="195.7" width="104.5" height="18.9" fill="#ededed" stroke="#404040" stroke-width="1.1"/>
<rect x="804.9" y="202.9" width="19.5" height="4.4" rx="2.2" fill="#111" opacity="0.95" filter="url(#bl)"/>
<rect x="829.5" y="202.9" width="19.5" height="4.4" rx="2.2" fill="#111" opacity="0.95" filter="url(#bl)"/>
<rect x="854.6" y="203.0" width="19.5" height="4.3" rx="2.2" fill="#111" opacity="0.89" filter="url(#bl)"/>
<rect x="880.8" y="203.0" width="19.5" height="4.3" rx="2.2" fill="#111" opacity="0.89" filter="url(#bl)"/>
<rect x="907.8" y="195.7" width="104.2" height="18.9" fill="#e0e0e0" stroke="#404040" stroke-width="1.1"/>
<rect x="912.0" y="202.9" width="20.0" height="4.4" rx="2.2" fill="#111" opacity="0.95" filter="url(#bl)"/>
<rect x="937.2" y="203.0" width="20.0" height="4.2" rx="2.1" fill="#111" opacity="0.84" filter="url(#bl)"/>
<rect x="962.6" y="202.9" width="20.0" height="4.5" rx="2.3" fill="#111" opacity="1.00" filter="url(#bl)"/>
<rect x="987.6" y="202.9" width="20.0" height="4.5" rx="2.3" fill="#111" opacity="1.00" filter="url(#bl)"/>
<text x="797.3" y="208.7" font-size="8.6" font-weight="bold" text-anchor="end" fill="#333" stroke="#333" stroke-width="0.28">β-actin</text>
<text x="1016.0" y="209.1" font-size="8.3" font-weight="bold" fill="#222" stroke="#222" stroke-width="0.28">42 kDa</text>
<text x="36.0" y="247.0" font-size="26" font-weight="bold" fill="#111">d</text>
<text x="182.7" y="245.0" font-size="7" font-weight="bold" text-anchor="middle" stroke="#2a2a2a" stroke-width="0.28">PAMC82</text>
<line x1="87.3" y1="253.5" x2="87.3" y2="385.8" stroke="#444" stroke-width="1"/>
<line x1="83.3" y1="254.1" x2="87.3" y2="254.1" stroke="#444" stroke-width="1"/>
<text x="81.8" y="256.8" font-size="7.6" font-weight="bold" text-anchor="end" stroke="#2a2a2a" stroke-width="0.28">2.5</text>
<line x1="83.3" y1="280.3" x2="87.3" y2="280.3" stroke="#444" stroke-width="1"/>
<text x="81.8" y="283.0" font-size="7.6" font-weight="bold" text-anchor="end" stroke="#2a2a2a" stroke-width="0.28">2.0</text>
<line x1="83.3" y1="306.6" x2="87.3" y2="306.6" stroke="#444" stroke-width="1"/>
<text x="81.8" y="309.3" font-size="7.6" font-weight="bold" text-anchor="end" stroke="#2a2a2a" stroke-width="0.28">1.5</text>
<line x1="83.3" y1="332.8" x2="87.3" y2="332.8" stroke="#444" stroke-width="1"/>
<text x="81.8" y="335.5" font-size="7.6" font-weight="bold" text-anchor="end" stroke="#2a2a2a" stroke-width="0.28">1.0</text>
<line x1="83.3" y1="359.1" x2="87.3" y2="359.1" stroke="#444" stroke-width="1"/>
<text x="81.8" y="361.8" font-size="7.6" font-weight="bold" text-anchor="end" stroke="#2a2a2a" stroke-width="0.28">0.5</text>
<line x1="83.3" y1="385.3" x2="87.3" y2="385.3" stroke="#444" stroke-width="1"/>
<text x="81.8" y="388.0" font-size="7.6" font-weight="bold" text-anchor="end" stroke="#2a2a2a" stroke-width="0.28">0.0</text>
<line x1="86.8" y1="385.3" x2="285.5" y2="385.3" stroke="#444" stroke-width="1"/>
<line x1="87.3" y1="385.3" x2="87.3" y2="389.3" stroke="#444" stroke-width="1"/>
<text x="87.3" y="397.8" font-size="7.6" font-weight="bold" text-anchor="middle" stroke="#2a2a2a" stroke-width="0.28">0</text>
<line x1="126.7" y1="385.3" x2="126.7" y2="389.3" stroke="#444" stroke-width="1"/>
<text x="126.7" y="397.8" font-size="7.6" font-weight="bold" text-anchor="middle" stroke="#2a2a2a" stroke-width="0.28">24</text>
<line x1="166.0" y1="385.3" x2="166.0" y2="389.3" stroke="#444" stroke-width="1"/>
<text x="166.0" y="397.8" font-size="7.6" font-weight="bold" text-anchor="middle" stroke="#2a2a2a" stroke-width="0.28">48</text>
<line x1="205.7" y1="385.3" x2="205.7" y2="389.3" stroke="#444" stroke-width="1"/>
<text x="205.7" y="397.8" font-size="7.6" font-weight="bold" text-anchor="middle" stroke="#2a2a2a" stroke-width="0.28">72</text>
<line x1="245.3" y1="385.3" x2="245.3" y2="389.3" stroke="#444" stroke-width="1"/>
<text x="245.3" y="397.8" font-size="7.6" font-weight="bold" text-anchor="middle" stroke="#2a2a2a" stroke-width="0.28">96</text>
<line x1="285.0" y1="385.3" x2="285.0" y2="389.3" stroke="#444" stroke-width="1"/>
<text x="285.0" y="397.8" font-size="7.6" font-weight="bold" text-anchor="middle" stroke="#2a2a2a" stroke-width="0.28">120</text>
<text x="186.7" y="410.3" font-size="7.8" font-weight="bold" text-anchor="middle" stroke="#2a2a2a" stroke-width="0.28">Time (h)</text>
<text x="64.0" y="320.0" font-size="8.1" font-weight="bold" text-anchor="middle" stroke="#2a2a2a" stroke-width="0.28" transform="rotate(-90 64.0 320.0)">Cell proliferation (OD450)</text>
<path d="M87.3 376.4L126.7 372.2L166.0 360.6L205.7 332.8L245.3 322.3" stroke="#a247ad" stroke-width="1.0" fill="none"/>
<path d="M87.3 378.6L89.5 374.6H85.1Z" fill="#a247ad"/>
<path d="M126.7 374.4L128.9 370.4H124.5Z" fill="#a247ad"/>
<line x1="166.0" y1="355.6" x2="166.0" y2="365.6" stroke="#a247ad" stroke-width="0.9"/>
<line x1="164.0" y1="355.6" x2="168.0" y2="355.6" stroke="#a247ad" stroke-width="0.9"/>
<line x1="164.0" y1="365.6" x2="168.0" y2="365.6" stroke="#a247ad" stroke-width="0.9"/>
<path d="M166.0 362.8L168.2 358.9H163.8Z" fill="#a247ad"/>
<line x1="205.7" y1="326.8" x2="205.7" y2="338.8" stroke="#a247ad" stroke-width="0.9"/>
<line x1="203.7" y1="326.8" x2="207.7" y2="326.8" stroke="#a247ad" stroke-width="0.9"/>
<line x1="203.7" y1="338.8" x2="207.7" y2="338.8" stroke="#a247ad" stroke-width="0.9"/>
<path d="M205.7 335.0L207.9 331.0H203.5Z" fill="#a247ad"/>
<line x1="245.3" y1="318.3" x2="245.3" y2="326.3" stroke="#a247ad" stroke-width="0.9"/>
<line x1="243.3" y1="318.3" x2="247.3" y2="318.3" stroke="#a247ad" stroke-width="0.9"/>
<line x1="243.3" y1="326.3" x2="247.3" y2="326.3" stroke="#a247ad" stroke-width="0.9"/>
<path d="M245.3 324.5L247.5 320.5H243.1Z" fill="#a247ad"/>
<path d="M87.3 373.8L126.7 359.1L166.0 338.6L205.7 309.7L245.3 290.3" stroke="#55b546" stroke-width="1.0" fill="none"/>
<path d="M87.3 371.6L89.5 375.5H85.1Z" fill="#55b546"/>
<path d="M126.7 356.9L128.9 360.8H124.5Z" fill="#55b546"/>
<path d="M166.0 336.4L168.2 340.3H163.8Z" fill="#55b546"/>
<line x1="205.7" y1="304.7" x2="205.7" y2="314.7" stroke="#55b546" stroke-width="0.9"/>
<line x1="203.7" y1="304.7" x2="207.7" y2="304.7" stroke="#55b546" stroke-width="0.9"/>
<line x1="203.7" y1="314.7" x2="207.7" y2="314.7" stroke="#55b546" stroke-width="0.9"/>
<path d="M205.7 307.5L207.9 311.5H203.5Z" fill="#55b546"/>
<path d="M245.3 288.1L247.5 292.0H243.1Z" fill="#55b546"/>
<path d="M87.3 371.1L126.7 336.0L166.0 310.2L205.7 297.6L245.3 284.5" stroke="#ea4a35" stroke-width="1.0" fill="none"/>
<rect x="85.1" y="368.9" width="4.4" height="4.4" fill="#ea4a35"/>
<rect x="124.5" y="333.8" width="4.4" height="4.4" fill="#ea4a35"/>
<rect x="163.8" y="308.0" width="4.4" height="4.4" fill="#ea4a35"/>
<line x1="205.7" y1="293.6" x2="205.7" y2="301.6" stroke="#ea4a35" stroke-width="0.9"/>
<line x1="203.7" y1="293.6" x2="207.7" y2="293.6" stroke="#ea4a35" stroke-width="0.9"/>
<line x1="203.7" y1="301.6" x2="207.7" y2="301.6" stroke="#ea4a35" stroke-width="0.9"/>
<rect x="203.5" y="295.4" width="4.4" height="4.4" fill="#ea4a35"/>
<line x1="245.3" y1="279.5" x2="245.3" y2="289.5" stroke="#ea4a35" stroke-width="0.9"/>
<line x1="243.3" y1="279.5" x2="247.3" y2="279.5" stroke="#ea4a35" stroke-width="0.9"/>
<line x1="243.3" y1="289.5" x2="247.3" y2="289.5" stroke="#ea4a35" stroke-width="0.9"/>
<rect x="243.1" y="282.3" width="4.4" height="4.4" fill="#ea4a35"/>
<path d="M87.3 368.5L126.7 330.7L166.0 306.6L205.7 292.9L245.3 263.0" stroke="#4a4ab8" stroke-width="1.0" fill="none"/>
<circle cx="87.3" cy="368.5" r="2.2" fill="#4a4ab8"/>
<circle cx="126.7" cy="330.7" r="2.2" fill="#4a4ab8"/>
<line x1="166.0" y1="304.6" x2="166.0" y2="308.6" stroke="#4a4ab8" stroke-width="0.9"/>
<line x1="164.0" y1="304.6" x2="168.0" y2="304.6" stroke="#4a4ab8" stroke-width="0.9"/>
<line x1="164.0" y1="308.6" x2="168.0" y2="308.6" stroke="#4a4ab8" stroke-width="0.9"/>
<circle cx="166.0" cy="306.6" r="2.2" fill="#4a4ab8"/>
<line x1="205.7" y1="288.9" x2="205.7" y2="296.9" stroke="#4a4ab8" stroke-width="0.9"/>
<line x1="203.7" y1="288.9" x2="207.7" y2="288.9" stroke="#4a4ab8" stroke-width="0.9"/>
<line x1="203.7" y1="296.9" x2="207.7" y2="296.9" stroke="#4a4ab8" stroke-width="0.9"/>
<circle cx="205.7" cy="292.9" r="2.2" fill="#4a4ab8"/>
<circle cx="245.3" cy="263.0" r="2.2" fill="#4a4ab8"/>
<line x1="98.5" y1="263.3" x2="113.0" y2="263.3" stroke="#4a4ab8" stroke-width="1"/>
<circle cx="105.8" cy="263.3" r="1.8" fill="#4a4ab8"/>
<text x="120.7" y="266.3" font-size="8.2">CON</text>
<line x1="143.6" y1="263.3" x2="158.4" y2="263.3" stroke="#55b546" stroke-width="1"/>
<path d="M151.0 261.5L152.8 264.7H149.2Z" fill="#55b546"/>
<text x="166.0" y="266.3" font-size="8.2">SYRO</text>
<line x1="98.5" y1="275.3" x2="113.0" y2="275.3" stroke="#ea4a35" stroke-width="1"/>
<rect x="104.0" y="273.5" width="3.6" height="3.6" fill="#ea4a35"/>
<text x="120.7" y="278.3" font-size="8.2">MET</text>
<line x1="143.6" y1="275.3" x2="158.4" y2="275.3" stroke="#a247ad" stroke-width="1"/>
<path d="M151.0 277.1L152.8 273.9H149.2Z" fill="#a247ad"/>
<text x="166.0" y="278.3" font-size="8.2">MET+SYRO</text>
<path d="M247.9 262.1H250.4V284.7H247.9" stroke="#444" stroke-width="0.8" fill="none"/>
<text x="250.6" y="273.4" font-size="7.7" font-weight="bold" text-anchor="middle" transform="rotate(90 250.6 273.4)">****</text>
<path d="M255.4 262.1H257.9V288.6H255.4" stroke="#444" stroke-width="0.8" fill="none"/>
<text x="258.1" y="275.4" font-size="7.7" font-weight="bold" text-anchor="middle" transform="rotate(90 258.1 275.4)">****</text>
<path d="M262.8 262.1H265.3V320.7H262.8" stroke="#444" stroke-width="0.8" fill="none"/>
<text x="265.5" y="296.8" font-size="7.7" font-weight="bold" text-anchor="middle" transform="rotate(90 265.5 296.8)">****</text>
<text x="412.7" y="249.0" font-size="7" font-weight="bold" text-anchor="middle" stroke="#2a2a2a" stroke-width="0.28">SNU16</text>
<line x1="325.0" y1="253.5" x2="325.0" y2="385.8" stroke="#444" stroke-width="1"/>
<line x1="321.0" y1="253.9" x2="325.0" y2="253.9" stroke="#444" stroke-width="1"/>
<text x="319.5" y="256.6" font-size="7.6" font-weight="bold" text-anchor="end" stroke="#2a2a2a" stroke-width="0.28">2.0</text>
<line x1="321.0" y1="286.8" x2="325.0" y2="286.8" stroke="#444" stroke-width="1"/>
<text x="319.5" y="289.5" font-size="7.6" font-weight="bold" text-anchor="end" stroke="#2a2a2a" stroke-width="0.28">1.5</text>
<line x1="321.0" y1="319.6" x2="325.0" y2="319.6" stroke="#444" stroke-width="1"/>
<text x="319.5" y="322.3" font-size="7.6" font-weight="bold" text-anchor="end" stroke="#2a2a2a" stroke-width="0.28">1.0</text>
<line x1="321.0" y1="352.4" x2="325.0" y2="352.4" stroke="#444" stroke-width="1"/>
<text x="319.5" y="355.2" font-size="7.6" font-weight="bold" text-anchor="end" stroke="#2a2a2a" stroke-width="0.28">0.5</text>
<line x1="321.0" y1="385.3" x2="325.0" y2="385.3" stroke="#444" stroke-width="1"/>
<text x="319.5" y="388.0" font-size="7.6" font-weight="bold" text-anchor="end" stroke="#2a2a2a" stroke-width="0.28">0.0</text>
<line x1="324.5" y1="385.3" x2="523.2" y2="385.3" stroke="#444" stroke-width="1"/>
<line x1="325.0" y1="385.3" x2="325.0" y2="389.3" stroke="#444" stroke-width="1"/>
<text x="325.0" y="397.8" font-size="7.6" font-weight="bold" text-anchor="middle" stroke="#2a2a2a" stroke-width="0.28">0</text>
<line x1="364.3" y1="385.3" x2="364.3" y2="389.3" stroke="#444" stroke-width="1"/>
<text x="364.3" y="397.8" font-size="7.6" font-weight="bold" text-anchor="middle" stroke="#2a2a2a" stroke-width="0.28">24</text>
<line x1="404.0" y1="385.3" x2="404.0" y2="389.3" stroke="#444" stroke-width="1"/>
<text x="404.0" y="397.8" font-size="7.6" font-weight="bold" text-anchor="middle" stroke="#2a2a2a" stroke-width="0.28">48</text>
<line x1="443.7" y1="385.3" x2="443.7" y2="389.3" stroke="#444" stroke-width="1"/>
<text x="443.7" y="397.8" font-size="7.6" font-weight="bold" text-anchor="middle" stroke="#2a2a2a" stroke-width="0.28">72</text>
<line x1="483.3" y1="385.3" x2="483.3" y2="389.3" stroke="#444" stroke-width="1"/>
<text x="483.3" y="397.8" font-size="7.6" font-weight="bold" text-anchor="middle" stroke="#2a2a2a" stroke-width="0.28">96</text>
<line x1="522.7" y1="385.3" x2="522.7" y2="389.3" stroke="#444" stroke-width="1"/>
<text x="522.7" y="397.8" font-size="7.6" font-weight="bold" text-anchor="middle" stroke="#2a2a2a" stroke-width="0.28">120</text>
<text x="424.0" y="411.0" font-size="7.8" font-weight="bold" text-anchor="middle" stroke="#2a2a2a" stroke-width="0.28">Time (h)</text>
<text x="303.0" y="320.0" font-size="8.1" font-weight="bold" text-anchor="middle" stroke="#2a2a2a" stroke-width="0.28" transform="rotate(-90 303.0 320.0)">Cell proliferation (OD450)</text>
<path d="M325.0 372.2L364.3 368.9L404.0 366.9L443.7 363.0L483.3 353.1" stroke="#a247ad" stroke-width="1.0" fill="none"/>
<path d="M325.0 374.4L327.2 370.4H322.8Z" fill="#a247ad"/>
<path d="M364.3 371.1L366.5 367.1H362.1Z" fill="#a247ad"/>
<path d="M404.0 369.1L406.2 365.1H401.8Z" fill="#a247ad"/>
<path d="M443.7 365.2L445.9 361.2H441.5Z" fill="#a247ad"/>
<path d="M483.3 355.3L485.5 351.3H481.1Z" fill="#a247ad"/>
<path d="M325.0 372.2L364.3 364.3L404.0 357.7L443.7 348.5L483.3 315.0" stroke="#55b546" stroke-width="1.0" fill="none"/>
<path d="M325.0 370.0L327.2 373.9H322.8Z" fill="#55b546"/>
<path d="M364.3 362.1L366.5 366.0H362.1Z" fill="#55b546"/>
<path d="M404.0 355.5L406.2 359.5H401.8Z" fill="#55b546"/>
<path d="M443.7 346.3L445.9 350.3H441.5Z" fill="#55b546"/>
<path d="M483.3 312.8L485.5 316.8H481.1Z" fill="#55b546"/>
<path d="M325.0 372.2L364.3 359.7L404.0 347.2L443.7 341.3L483.3 309.7" stroke="#ea4a35" stroke-width="1.0" fill="none"/>
<rect x="322.8" y="370.0" width="4.4" height="4.4" fill="#ea4a35"/>
<rect x="362.1" y="357.5" width="4.4" height="4.4" fill="#ea4a35"/>
<rect x="401.8" y="345.0" width="4.4" height="4.4" fill="#ea4a35"/>
<rect x="441.5" y="339.1" width="4.4" height="4.4" fill="#ea4a35"/>
<rect x="481.1" y="307.5" width="4.4" height="4.4" fill="#ea4a35"/>
<path d="M325.0 372.2L364.3 359.0L404.0 343.9L443.7 335.4L483.3 288.1" stroke="#4a4ab8" stroke-width="1.0" fill="none"/>
<circle cx="325.0" cy="372.2" r="2.2" fill="#4a4ab8"/>
<circle cx="364.3" cy="359.0" r="2.2" fill="#4a4ab8"/>
<circle cx="404.0" cy="343.9" r="2.2" fill="#4a4ab8"/>
<circle cx="443.7" cy="335.4" r="2.2" fill="#4a4ab8"/>
<circle cx="483.3" cy="288.1" r="2.2" fill="#4a4ab8"/>
<line x1="336.5" y1="267.7" x2="351.0" y2="267.7" stroke="#4a4ab8" stroke-width="1"/>
<circle cx="343.8" cy="267.7" r="1.8" fill="#4a4ab8"/>
<text x="358.3" y="270.7" font-size="8.2">CON</text>
<line x1="381.0" y1="267.7" x2="395.5" y2="267.7" stroke="#55b546" stroke-width="1"/>
<path d="M388.2 265.9L390.1 269.1H386.4Z" fill="#55b546"/>
<text x="403.3" y="270.7" font-size="8.2">SYRO</text>
<line x1="336.5" y1="280.7" x2="351.0" y2="280.7" stroke="#ea4a35" stroke-width="1"/>
<rect x="341.9" y="278.9" width="3.6" height="3.6" fill="#ea4a35"/>
<text x="358.3" y="283.7" font-size="8.2">MET</text>
<line x1="381.0" y1="280.7" x2="395.5" y2="280.7" stroke="#a247ad" stroke-width="1"/>
<path d="M388.2 282.5L390.1 279.3H386.4Z" fill="#a247ad"/>
<text x="403.3" y="283.7" font-size="8.2">MET+SYRO</text>
<path d="M486.5 288.2H489.0V310.6H486.5" stroke="#444" stroke-width="0.8" fill="none"/>
<text x="489.2" y="299.4" font-size="7.7" font-weight="bold" text-anchor="middle" transform="rotate(90 489.2 299.4)">****</text>
<path d="M493.8 288.2H496.3V314.5H493.8" stroke="#444" stroke-width="0.8" fill="none"/>
<text x="496.5" y="301.4" font-size="7.7" font-weight="bold" text-anchor="middle" transform="rotate(90 496.5 301.4)">****</text>
<path d="M501.6 288.2H504.1V354.5H501.6" stroke="#444" stroke-width="0.8" fill="none"/>
<text x="504.3" y="322.8" font-size="7.7" font-weight="bold" text-anchor="middle" transform="rotate(90 504.3 322.8)">****</text>
<text x="538.5" y="246.5" font-size="26" font-weight="bold" fill="#111">e</text>
<text x="572.8" y="274.5" font-size="11.2" font-weight="bold" text-anchor="middle" fill="#222">CON</text>
<text x="630.0" y="274.5" font-size="11.2" font-weight="bold" text-anchor="middle" fill="#222">MET</text>
<text x="685.7" y="274.5" font-size="11.2" font-weight="bold" text-anchor="middle" fill="#222">SYRO</text>
<text x="750.0" y="274.5" font-size="11.2" font-weight="bold" text-anchor="middle" fill="#222">MET+SYRO</text>
<text x="546.5" y="305.5" font-size="11.6" font-weight="bold" text-anchor="middle" fill="#222" transform="rotate(-90 546.5 305.5)">PAMC82</text>
<text x="546.5" y="364.0" font-size="11.6" font-weight="bold" text-anchor="middle" fill="#222" transform="rotate(-90 546.5 364.0)">SNU16</text>
<g filter="url(#soft)">
<circle cx="578.2" cy="305.3" r="27.0" fill="#d5d1dd"/>
<circle cx="578.2" cy="305.3" r="24.5" fill="none" stroke="#b3a9cd" stroke-width="3" opacity="0.5" filter="url(#soft)"/>
<path d="M563.7 298.3h0M584.2 326.6h0M572.6 297.2h0M572.4 316.1h0M583.4 305.2h0M566.1 296.2h0M570.7 290.5h0M573.5 297.7h0M602.2 302.6h0M579.7 305.7h0M590.8 300.4h0M589.2 297.1h0M572.5 307.7h0M583.6 297.3h0M574.2 307.8h0M586.4 287.2h0M584.0 297.8h0M564.8 318.8h0M579.4 297.8h0M586.6 283.0h0M567.8 311.5h0M570.5 298.3h0M568.6 308.0h0M587.5 285.8h0M568.9 318.5h0M574.9 291.6h0M592.6 313.2h0M560.5 319.8h0M579.2 323.0h0M559.3 302.9h0M561.6 306.4h0M561.8 314.3h0M568.2 305.9h0M593.7 302.2h0M596.1 305.6h0M584.9 309.7h0M595.2 304.5h0M562.2 312.0h0M574.7 282.3h0M560.7 314.5h0M585.0 315.1h0M570.6 287.2h0M586.3 290.4h0M593.9 301.5h0M573.6 282.7h0M596.5 294.2h0M591.2 303.8h0M590.1 320.0h0M583.4 318.8h0M582.0 315.8h0M601.3 305.3h0M577.4 284.9h0M560.5 314.5h0M576.7 320.0h0M570.4 297.3h0M594.4 289.1h0M592.6 312.1h0M589.8 309.5h0M579.3 285.9h0M572.3 288.9h0M576.8 321.5h0M575.7 288.5h0M561.4 307.7h0M574.1 283.8h0M584.7 282.1h0M577.1 299.1h0M579.8 302.6h0M569.0 324.3h0M576.1 315.7h0M596.2 317.6h0M582.2 326.1h0M584.8 322.6h0M600.8 301.7h0M585.0 326.8h0M556.4 302.1h0M591.6 301.4h0M576.3 300.2h0M588.0 293.4h0M582.8 313.9h0M594.3 286.9h0M593.6 297.0h0M563.3 316.5h0M592.1 323.4h0M562.1 292.0h0M588.3 325.1h0M568.1 320.6h0M583.7 320.4h0M587.9 300.9h0M556.3 295.0h0M568.6 316.9h0M591.1 309.7h0M588.0 308.5h0M571.4 313.4h0M596.5 310.3h0M572.1 314.2h0M560.6 317.2h0M582.1 282.7h0M591.8 292.5h0M555.2 303.4h0M598.1 318.7h0M594.5 318.2h0M573.3 324.4h0M565.0 324.6h0M564.3 294.1h0M589.2 322.2h0M594.2 316.5h0M564.5 298.1h0M563.4 324.3h0M589.8 291.7h0M579.4 302.3h0M565.8 325.2h0M566.0 320.3h0M583.5 315.1h0M583.4 294.3h0M564.1 292.9h0M574.1 303.9h0M583.9 306.3h0M586.8 304.2h0M594.3 306.8h0M561.7 288.9h0M592.4 310.2h0M575.9 309.2h0M557.6 306.7h0M589.6 310.7h0M568.9 307.6h0M569.1 303.9h0M593.2 319.4h0M585.0 288.0h0M578.6 289.3h0M573.7 286.3h0M567.3 291.0h0M571.2 324.4h0M587.6 293.7h0M588.2 314.2h0M586.9 322.6h0M565.5 294.9h0M588.0 286.1h0M573.5 296.9h0M565.3 316.1h0M582.4 322.5h0M556.1 296.1h0M589.8 321.1h0M586.4 302.0h0M567.1 283.9h0M562.5 320.1h0M596.0 294.6h0M601.8 304.0h0M566.1 286.5h0M577.0 298.0h0M567.2 317.6h0" stroke="#5a46a6" stroke-width="1.15" stroke-linecap="round" fill="none" opacity="0.75"/>
<circle cx="578.2" cy="363.2" r="27.0" fill="#f0ede6"/>
<path d="M595.0 351.9h0M588.5 356.2h0M597.1 350.3h0M585.8 376.9h0M589.2 371.6h0M567.6 366.7h0M590.1 355.5h0M562.9 347.4h0M594.4 372.3h0M587.1 369.2h0M574.0 383.1h0M581.0 365.7h0M585.5 354.3h0M597.8 364.8h0M591.1 378.1h0M569.1 366.3h0M563.1 357.7h0M598.7 353.4h0M596.9 362.7h0M592.4 376.0h0M555.7 372.7h0M595.5 378.4h0M570.2 352.0h0M595.3 358.0h0M597.1 369.9h0M564.6 367.1h0M578.1 355.7h0M595.3 373.4h0M582.1 364.3h0M575.5 363.1h0M569.3 347.8h0M574.9 371.2h0M569.5 370.6h0M580.2 376.5h0M593.1 350.3h0M588.8 363.4h0M559.5 375.9h0M573.9 377.4h0M574.8 356.3h0M589.0 352.9h0M560.4 376.8h0M593.3 374.1h0M596.0 353.1h0M594.2 354.7h0M575.9 353.1h0M582.6 356.8h0M598.7 368.6h0M562.4 373.8h0M569.9 373.3h0M565.3 344.2h0M587.9 351.2h0M585.6 340.8h0M587.8 353.2h0M571.7 386.7h0M579.7 368.6h0M596.8 375.2h0M587.0 371.3h0M578.5 361.2h0M572.7 370.8h0M566.2 361.2h0M564.5 374.8h0M573.4 381.7h0M572.0 383.7h0M563.7 363.8h0M566.0 344.2h0M564.1 381.7h0M565.5 349.9h0M572.3 343.8h0M578.5 342.0h0M563.5 360.5h0M564.6 362.5h0M588.2 384.3h0M591.6 350.5h0M585.7 356.3h0M598.1 362.8h0M577.5 370.8h0M582.5 365.4h0M557.8 366.8h0M568.7 345.8h0M573.3 346.5h0M594.3 359.2h0M581.1 346.4h0M583.1 375.5h0M573.0 366.9h0M580.5 343.8h0M582.9 385.9h0M575.0 340.6h0M574.3 378.9h0M570.2 372.3h0M585.7 380.1h0M586.5 374.7h0M573.1 386.1h0M582.6 367.8h0M573.5 363.1h0M591.3 350.3h0M586.2 384.1h0M555.9 371.3h0M569.2 342.8h0M595.2 374.8h0M571.4 356.2h0M586.4 361.5h0M562.3 359.5h0M579.8 384.1h0M561.6 368.5h0M595.4 350.4h0M571.9 379.9h0M597.3 349.4h0M580.1 361.0h0M579.6 353.0h0M592.9 370.3h0" stroke="#5240a6" stroke-width="1.15" stroke-linecap="round" fill="none" opacity="0.85"/>
<circle cx="634.2" cy="305.3" r="27.0" fill="#dad6e0"/>
<circle cx="634.2" cy="305.3" r="24.5" fill="none" stroke="#cfc8dc" stroke-width="3" opacity="0.5" filter="url(#soft)"/>
<path d="M616.7 310.7h0M617.1 309.0h0M641.2 321.4h0M636.2 298.1h0M652.8 317.2h0M657.6 311.6h0M623.3 289.5h0M651.9 307.0h0M638.6 316.5h0M618.4 309.0h0M614.7 302.9h0M625.5 291.2h0M658.6 304.9h0M630.6 292.0h0M632.6 311.6h0M615.9 318.5h0M656.0 299.4h0M640.1 327.9h0M649.5 303.4h0M619.3 289.6h0M646.3 312.7h0M634.6 296.9h0M639.0 308.9h0M642.2 321.8h0M641.8 324.8h0M629.0 298.7h0M637.1 317.7h0M638.6 292.5h0M638.0 320.2h0M629.3 299.3h0M637.1 317.4h0M627.9 317.0h0M650.0 315.3h0M622.2 296.4h0M650.7 301.0h0M641.2 297.5h0M652.8 293.2h0M642.0 324.9h0M642.1 327.8h0M621.5 295.7h0M657.5 311.1h0M630.7 293.4h0M623.3 297.7h0M633.0 299.0h0M613.1 297.1h0M629.8 328.3h0M646.8 306.6h0M643.8 309.1h0M626.2 301.4h0M653.0 289.9h0M627.4 287.8h0M637.4 306.0h0M626.9 282.4h0M623.0 292.5h0M623.9 327.5h0M614.0 299.3h0M632.5 284.8h0M646.7 297.9h0M652.8 292.0h0M639.9 283.3h0M623.5 294.6h0M628.8 300.9h0M657.2 304.3h0M618.1 318.8h0M613.3 313.5h0M634.2 301.1h0M622.5 306.7h0M615.0 305.6h0M634.1 307.9h0M629.4 295.4h0" stroke="#5a46a6" stroke-width="1.15" stroke-linecap="round" fill="none" opacity="0.65"/>
<circle cx="634.2" cy="363.2" r="27.0" fill="#dad6cd"/>
<path d="M644.6 380.7h0M622.9 364.7h0M640.4 346.8h0M634.3 364.6h0M628.7 359.9h0M635.5 374.9h0M655.3 362.9h0M630.8 360.2h0M625.9 363.3h0M627.7 370.3h0M650.9 379.9h0M620.6 358.6h0M636.0 367.6h0M636.3 384.7h0M656.9 358.7h0M635.7 344.6h0M646.3 375.0h0M641.3 385.6h0M621.7 371.2h0M615.8 379.3h0M641.6 364.5h0M651.4 362.4h0M614.1 356.6h0M620.0 351.6h0M638.5 372.4h0M647.1 356.8h0M631.5 370.6h0M642.6 343.3h0M626.0 344.8h0M649.3 359.1h0M652.5 358.7h0M619.2 364.1h0M641.2 356.3h0M641.5 342.9h0M637.1 358.4h0M630.3 378.6h0M647.1 369.2h0M655.2 361.0h0M633.9 387.2h0M633.6 359.1h0M645.7 344.6h0M621.3 353.7h0M642.1 352.2h0M630.7 384.4h0M624.7 341.2h0" stroke="#5240a6" stroke-width="1.15" stroke-linecap="round" fill="none" opacity="0.7"/>
<circle cx="690.0" cy="305.3" r="27.0" fill="#d0d0d4"/>
<circle cx="690.0" cy="305.3" r="24.5" fill="none" stroke="#c0c0ca" stroke-width="3" opacity="0.5" filter="url(#soft)"/>
<path d="M670.4 308.5h0M691.6 307.3h0M686.7 327.1h0M675.3 294.4h0M699.9 318.2h0M694.9 302.0h0M708.1 314.5h0M671.4 318.0h0M711.7 314.0h0M710.5 318.5h0M702.1 315.7h0M682.6 323.1h0M688.2 300.1h0M696.2 291.1h0M676.1 295.7h0M710.5 309.3h0M709.7 302.3h0M676.7 320.7h0M699.0 313.1h0M668.0 303.7h0M711.9 309.2h0M678.5 303.9h0M673.6 319.2h0M680.2 302.1h0M702.5 308.3h0M686.4 301.1h0M693.3 317.9h0M706.4 300.9h0M701.7 325.8h0M697.9 325.0h0M702.7 305.8h0M683.4 315.4h0M708.7 310.1h0M707.4 305.1h0M680.4 324.8h0M682.5 296.3h0M670.8 308.0h0M711.9 297.7h0M684.1 327.4h0M706.5 299.2h0" stroke="#5a46a6" stroke-width="1.15" stroke-linecap="round" fill="none" opacity="0.6"/>
<circle cx="690.0" cy="363.2" r="27.0" fill="#ebe7e2"/>
<path d="M698.9 360.8h0M700.5 363.1h0M681.6 351.5h0M692.7 387.0h0M671.0 349.2h0M708.3 353.7h0M703.8 350.4h0M698.3 384.2h0M709.9 355.0h0M671.3 354.9h0M688.7 387.1h0M694.6 339.7h0M703.9 380.5h0M692.2 368.2h0M713.1 367.9h0M674.4 361.5h0M701.8 356.4h0M678.4 356.6h0M674.5 358.9h0M682.8 361.9h0M680.1 375.9h0M711.6 353.0h0" stroke="#5240a6" stroke-width="1.15" stroke-linecap="round" fill="none" opacity="0.6"/>
<circle cx="746.9" cy="305.3" r="27.0" fill="#cac8cb"/>
<circle cx="746.9" cy="305.3" r="24.5" fill="none" stroke="#c2c0c5" stroke-width="3" opacity="0.5" filter="url(#soft)"/>
<circle cx="746.9" cy="363.2" r="27.0" fill="#e0dedc"/>
</g>
<line x1="839.7" y1="250.9" x2="839.7" y2="371.6" stroke="#444" stroke-width="1"/>
<line x1="835.7" y1="251.4" x2="839.7" y2="251.4" stroke="#444" stroke-width="1"/>
<text x="834.2" y="254.4" font-size="8.4" font-weight="bold" text-anchor="end" stroke="#2a2a2a" stroke-width="0.28">250</text>
<line x1="835.7" y1="275.3" x2="839.7" y2="275.3" stroke="#444" stroke-width="1"/>
<text x="834.2" y="278.3" font-size="8.4" font-weight="bold" text-anchor="end" stroke="#2a2a2a" stroke-width="0.28">200</text>
<line x1="835.7" y1="299.4" x2="839.7" y2="299.4" stroke="#444" stroke-width="1"/>
<text x="834.2" y="302.4" font-size="8.4" font-weight="bold" text-anchor="end" stroke="#2a2a2a" stroke-width="0.28">150</text>
<line x1="835.7" y1="323.3" x2="839.7" y2="323.3" stroke="#444" stroke-width="1"/>
<text x="834.2" y="326.3" font-size="8.4" font-weight="bold" text-anchor="end" stroke="#2a2a2a" stroke-width="0.28">100</text>
<line x1="835.7" y1="347.2" x2="839.7" y2="347.2" stroke="#444" stroke-width="1"/>
<text x="834.2" y="350.2" font-size="8.4" font-weight="bold" text-anchor="end" stroke="#2a2a2a" stroke-width="0.28">50</text>
<line x1="835.7" y1="371.1" x2="839.7" y2="371.1" stroke="#444" stroke-width="1"/>
<text x="834.2" y="374.1" font-size="8.4" font-weight="bold" text-anchor="end" stroke="#2a2a2a" stroke-width="0.28">0</text>
<line x1="839.2" y1="371.1" x2="1020.3" y2="371.1" stroke="#444" stroke-width="1"/>
<line x1="884.7" y1="371.1" x2="884.7" y2="374.6" stroke="#444" stroke-width="1"/>
<line x1="975.3" y1="371.1" x2="975.3" y2="374.6" stroke="#444" stroke-width="1"/>
<text x="816.3" y="312.5" font-size="8.7" font-weight="bold" text-anchor="middle" stroke="#2a2a2a" stroke-width="0.28" transform="rotate(-90 816.3 312.5)">Clone number</text>
<circle cx="855.0" cy="248.0" r="1.3" fill="#4a4ab8"/>
<text x="868.3" y="251.1" font-size="9.0">CON</text>
<circle cx="855.0" cy="257.2" r="1.3" fill="#ea4a35"/>
<text x="868.3" y="260.3" font-size="9.0">MET</text>
<circle cx="907.0" cy="248.0" r="1.3" fill="#55b546"/>
<text x="921.7" y="251.1" font-size="9.0">SYRO</text>
<circle cx="907.0" cy="257.2" r="1.3" fill="#a247ad"/>
<text x="921.7" y="260.3" font-size="9.0">MET+SYRO</text>
<path d="M848.6 371.1V297.5H863.9V371.1" stroke="#4a4ab8" stroke-width="1.0" fill="none"/>
<line x1="856.2" y1="289.6" x2="856.2" y2="305.4" stroke="#4a4ab8" stroke-width="0.9"/>
<line x1="853.2" y1="289.6" x2="859.2" y2="289.6" stroke="#4a4ab8" stroke-width="0.9"/>
<line x1="853.2" y1="305.4" x2="859.2" y2="305.4" stroke="#4a4ab8" stroke-width="0.9"/>
<circle cx="856.2" cy="282.5" r="1.3" fill="#4a4ab8"/>
<circle cx="856.2" cy="301.5" r="1.3" fill="#4a4ab8"/>
<circle cx="856.2" cy="309.5" r="1.3" fill="#4a4ab8"/>
<path d="M867.8 371.1V330.0H883.0V371.1" stroke="#ea4a35" stroke-width="1.0" fill="none"/>
<line x1="875.4" y1="324.7" x2="875.4" y2="335.3" stroke="#ea4a35" stroke-width="0.9"/>
<line x1="872.4" y1="324.7" x2="878.4" y2="324.7" stroke="#ea4a35" stroke-width="0.9"/>
<line x1="872.4" y1="335.3" x2="878.4" y2="335.3" stroke="#ea4a35" stroke-width="0.9"/>
<circle cx="875.4" cy="320.0" r="1.3" fill="#ea4a35"/>
<circle cx="875.4" cy="330.0" r="1.3" fill="#ea4a35"/>
<circle cx="875.4" cy="339.0" r="1.3" fill="#ea4a35"/>
<path d="M887.0 371.1V342.2H902.2V371.1" stroke="#55b546" stroke-width="1.0" fill="none"/>
<line x1="894.6" y1="335.8" x2="894.6" y2="348.6" stroke="#55b546" stroke-width="0.9"/>
<line x1="891.6" y1="335.8" x2="897.6" y2="335.8" stroke="#55b546" stroke-width="0.9"/>
<line x1="891.6" y1="348.6" x2="897.6" y2="348.6" stroke="#55b546" stroke-width="0.9"/>
<circle cx="894.6" cy="331.2" r="1.3" fill="#55b546"/>
<circle cx="894.6" cy="344.2" r="1.3" fill="#55b546"/>
<circle cx="894.6" cy="350.2" r="1.3" fill="#55b546"/>
<path d="M906.4 371.1V370.3H921.0V371.1" stroke="#a247ad" stroke-width="1.0" fill="none"/>
<line x1="913.7" y1="369.7" x2="913.7" y2="370.9" stroke="#a247ad" stroke-width="0.9"/>
<line x1="910.7" y1="369.7" x2="916.7" y2="369.7" stroke="#a247ad" stroke-width="0.9"/>
<line x1="910.7" y1="370.9" x2="916.7" y2="370.9" stroke="#a247ad" stroke-width="0.9"/>
<circle cx="910.7" cy="370.3" r="1.3" fill="#a247ad"/>
<circle cx="913.7" cy="369.8" r="1.3" fill="#a247ad"/>
<circle cx="916.7" cy="370.3" r="1.3" fill="#a247ad"/>
<path d="M940.0 371.1V298.9H955.3V371.1" stroke="#4a4ab8" stroke-width="1.0" fill="none"/>
<line x1="947.6" y1="287.9" x2="947.6" y2="309.9" stroke="#4a4ab8" stroke-width="0.9"/>
<line x1="944.6" y1="287.9" x2="950.6" y2="287.9" stroke="#4a4ab8" stroke-width="0.9"/>
<line x1="944.6" y1="309.9" x2="950.6" y2="309.9" stroke="#4a4ab8" stroke-width="0.9"/>
<circle cx="947.6" cy="278.9" r="1.3" fill="#4a4ab8"/>
<circle cx="947.6" cy="307.9" r="1.3" fill="#4a4ab8"/>
<circle cx="949.1" cy="309.9" r="1.3" fill="#4a4ab8"/>
<path d="M959.2 371.1V336.4H974.4V371.1" stroke="#ea4a35" stroke-width="1.0" fill="none"/>
<line x1="966.8" y1="329.4" x2="966.8" y2="343.4" stroke="#ea4a35" stroke-width="0.9"/>
<line x1="963.8" y1="329.4" x2="969.8" y2="329.4" stroke="#ea4a35" stroke-width="0.9"/>
<line x1="963.8" y1="343.4" x2="969.8" y2="343.4" stroke="#ea4a35" stroke-width="0.9"/>
<circle cx="966.8" cy="324.4" r="1.3" fill="#ea4a35"/>
<circle cx="964.8" cy="344.4" r="1.3" fill="#ea4a35"/>
<circle cx="968.8" cy="342.4" r="1.3" fill="#ea4a35"/>
<path d="M978.3 371.1V351.7H993.6V371.1" stroke="#55b546" stroke-width="1.0" fill="none"/>
<line x1="986.0" y1="346.4" x2="986.0" y2="357.0" stroke="#55b546" stroke-width="0.9"/>
<line x1="983.0" y1="346.4" x2="989.0" y2="346.4" stroke="#55b546" stroke-width="0.9"/>
<line x1="983.0" y1="357.0" x2="989.0" y2="357.0" stroke="#55b546" stroke-width="0.9"/>
<circle cx="986.0" cy="343.7" r="1.3" fill="#55b546"/>
<circle cx="986.0" cy="351.7" r="1.3" fill="#55b546"/>
<circle cx="986.0" cy="360.7" r="1.3" fill="#55b546"/>
<path d="M997.5 371.1V368.9H1012.8V371.1" stroke="#a247ad" stroke-width="1.0" fill="none"/>
<line x1="1005.1" y1="368.3" x2="1005.1" y2="369.5" stroke="#a247ad" stroke-width="0.9"/>
<line x1="1002.1" y1="368.3" x2="1008.1" y2="368.3" stroke="#a247ad" stroke-width="0.9"/>
<line x1="1002.1" y1="369.5" x2="1008.1" y2="369.5" stroke="#a247ad" stroke-width="0.9"/>
<circle cx="1002.1" cy="369.4" r="1.3" fill="#a247ad"/>
<circle cx="1005.1" cy="368.4" r="1.3" fill="#a247ad"/>
<circle cx="1008.1" cy="369.4" r="1.3" fill="#a247ad"/>
<path d="M855.0 277.4V274.4H913.9V277.4" stroke="#444" stroke-width="1.1" fill="none"/>
<text x="884.9" y="274.2" font-size="8.64" font-weight="bold" text-anchor="middle" letter-spacing="0.72">****</text>
<path d="M874.4 315.0V312.0H913.9V315.0" stroke="#444" stroke-width="1.1" fill="none"/>
<text x="894.5" y="311.8" font-size="8.64" font-weight="bold" text-anchor="middle" letter-spacing="0.72">**</text>
<path d="M893.9 326.0V323.0H913.9V326.0" stroke="#444" stroke-width="1.1" fill="none"/>
<text x="904.3" y="322.8" font-size="8.64" font-weight="bold" text-anchor="middle" letter-spacing="0.72">*</text>
<path d="M947.5 275.2V272.2H1005.0V275.2" stroke="#444" stroke-width="1.1" fill="none"/>
<text x="976.6" y="272.0" font-size="8.64" font-weight="bold" text-anchor="middle" letter-spacing="0.72">****</text>
<path d="M966.7 319.0V316.0H1005.0V319.0" stroke="#444" stroke-width="1.1" fill="none"/>
<text x="986.2" y="315.8" font-size="8.64" font-weight="bold" text-anchor="middle" letter-spacing="0.72">**</text>
<path d="M985.6 339.0V336.0H1005.0V339.0" stroke="#444" stroke-width="1.1" fill="none"/>
<text x="995.3" y="334.5" font-size="6.5" text-anchor="middle">ns</text>
<text x="884.7" y="385.2" font-size="8.4" font-weight="bold" text-anchor="middle" stroke="#2a2a2a" stroke-width="0.28">PAMC82</text>
<text x="975.3" y="385.2" font-size="8.4" font-weight="bold" text-anchor="middle" stroke="#2a2a2a" stroke-width="0.28">SNU16</text>
<text x="37.0" y="435.0" font-size="26" font-weight="bold" fill="#111">f</text>
<text x="91.7" y="454.3" font-size="11.5" font-weight="bold" text-anchor="middle" fill="#222">CON</text>
<text x="156.0" y="454.3" font-size="11.5" font-weight="bold" text-anchor="middle" fill="#222">MET</text>
<text x="215.0" y="454.3" font-size="11.5" font-weight="bold" text-anchor="middle" fill="#222">SYRO</text>
<text x="278.3" y="454.3" font-size="11.5" font-weight="bold" text-anchor="middle" fill="#222">MET+SYRO</text>
<text x="57.5" y="478.0" font-size="11.3" font-weight="bold" text-anchor="middle" fill="#222" transform="rotate(-90 57.5 478.0)">PAMC82</text>
<text x="57.5" y="526.5" font-size="11.3" font-weight="bold" text-anchor="middle" fill="#222" transform="rotate(-90 57.5 526.5)">SNU16</text>
<g filter="url(#soft)">
<rect x="62.7" y="456.0" width="60.0" height="44.0" fill="#d9d9d9"/>
<circle cx="72.9" cy="476.2" r="1.5" fill="#555" opacity="0.49"/>
<circle cx="105.7" cy="475.3" r="1.5" fill="#555" opacity="0.45"/>
<circle cx="69.2" cy="476.2" r="0.7" fill="#555" opacity="0.54"/>
<circle cx="117.7" cy="471.4" r="1.0" fill="#555" opacity="0.50"/>
<circle cx="76.1" cy="465.1" r="0.9" fill="#555" opacity="0.41"/>
<circle cx="99.8" cy="496.5" r="0.9" fill="#555" opacity="0.54"/>
<circle cx="95.8" cy="494.0" r="1.5" fill="#555" opacity="0.37"/>
<circle cx="101.0" cy="463.0" r="0.7" fill="#555" opacity="0.42"/>
<circle cx="108.0" cy="480.6" r="0.9" fill="#555" opacity="0.52"/>
<circle cx="115.9" cy="467.5" r="1.1" fill="#555" opacity="0.47"/>
<circle cx="115.2" cy="463.1" r="1.3" fill="#555" opacity="0.54"/>
<circle cx="98.8" cy="486.7" r="1.5" fill="#555" opacity="0.44"/>
<circle cx="80.9" cy="481.6" r="1.2" fill="#555" opacity="0.41"/>
<circle cx="112.5" cy="472.5" r="1.2" fill="#555" opacity="0.50"/>
<circle cx="110.3" cy="493.6" r="1.4" fill="#555" opacity="0.39"/>
<circle cx="112.2" cy="494.4" r="1.4" fill="#555" opacity="0.50"/>
<circle cx="93.5" cy="477.7" r="1.3" fill="#555" opacity="0.36"/>
<circle cx="102.6" cy="492.5" r="0.9" fill="#555" opacity="0.50"/>
<circle cx="104.2" cy="462.8" r="0.8" fill="#555" opacity="0.46"/>
<circle cx="77.0" cy="470.4" r="1.3" fill="#555" opacity="0.47"/>
<circle cx="106.6" cy="480.7" r="1.0" fill="#555" opacity="0.33"/>
<circle cx="71.1" cy="465.7" r="1.2" fill="#555" opacity="0.49"/>
<circle cx="76.4" cy="473.6" r="1.6" fill="#555" opacity="0.42"/>
<circle cx="104.6" cy="482.7" r="1.4" fill="#555" opacity="0.43"/>
<circle cx="95.2" cy="486.0" r="0.9" fill="#555" opacity="0.51"/>
<circle cx="113.6" cy="459.9" r="0.9" fill="#555" opacity="0.38"/>
<circle cx="70.0" cy="463.6" r="1.3" fill="#555" opacity="0.36"/>
<circle cx="68.4" cy="495.8" r="1.1" fill="#555" opacity="0.45"/>
<circle cx="91.3" cy="471.7" r="1.2" fill="#555" opacity="0.37"/>
<circle cx="97.2" cy="468.0" r="0.8" fill="#555" opacity="0.38"/>
<circle cx="87.8" cy="495.2" r="1.3" fill="#555" opacity="0.55"/>
<circle cx="87.1" cy="468.4" r="1.4" fill="#555" opacity="0.37"/>
<circle cx="120.6" cy="473.6" r="1.0" fill="#555" opacity="0.39"/>
<circle cx="81.8" cy="495.5" r="1.7" fill="#555" opacity="0.45"/>
<circle cx="77.7" cy="458.4" r="0.8" fill="#555" opacity="0.40"/>
<circle cx="100.7" cy="483.1" r="1.6" fill="#555" opacity="0.51"/>
<circle cx="84.4" cy="485.0" r="1.1" fill="#555" opacity="0.49"/>
<circle cx="75.0" cy="497.1" r="0.7" fill="#555" opacity="0.47"/>
<circle cx="84.4" cy="490.0" r="0.8" fill="#555" opacity="0.53"/>
<circle cx="64.9" cy="487.4" r="1.4" fill="#555" opacity="0.44"/>
<rect x="124.7" y="456.0" width="59.6" height="44.0" fill="#d4d4d4"/>
<circle cx="159.0" cy="465.8" r="1.7" fill="#555" opacity="0.53"/>
<circle cx="152.7" cy="484.5" r="0.9" fill="#555" opacity="0.38"/>
<circle cx="142.7" cy="485.7" r="0.9" fill="#555" opacity="0.54"/>
<circle cx="130.6" cy="465.7" r="0.8" fill="#555" opacity="0.50"/>
<circle cx="147.1" cy="476.9" r="1.0" fill="#555" opacity="0.47"/>
<circle cx="149.2" cy="466.3" r="1.1" fill="#555" opacity="0.40"/>
<circle cx="132.9" cy="490.9" r="1.4" fill="#555" opacity="0.48"/>
<circle cx="175.8" cy="473.8" r="1.1" fill="#555" opacity="0.42"/>
<circle cx="149.2" cy="484.8" r="0.7" fill="#555" opacity="0.43"/>
<circle cx="156.5" cy="471.8" r="0.7" fill="#555" opacity="0.49"/>
<circle cx="127.2" cy="480.6" r="0.9" fill="#555" opacity="0.34"/>
<circle cx="136.8" cy="460.6" r="0.9" fill="#555" opacity="0.48"/>
<circle cx="167.2" cy="472.5" r="1.4" fill="#555" opacity="0.43"/>
<circle cx="154.4" cy="493.0" r="1.0" fill="#555" opacity="0.52"/>
<rect x="186.3" y="456.0" width="60.4" height="44.0" fill="#cecece"/>
<circle cx="196.7" cy="482.6" r="0.9" fill="#555" opacity="0.49"/>
<circle cx="222.6" cy="473.4" r="1.3" fill="#555" opacity="0.45"/>
<circle cx="190.7" cy="479.2" r="1.3" fill="#555" opacity="0.44"/>
<circle cx="237.9" cy="487.4" r="1.1" fill="#555" opacity="0.38"/>
<circle cx="195.5" cy="490.4" r="1.4" fill="#555" opacity="0.46"/>
<circle cx="213.2" cy="478.0" r="0.9" fill="#555" opacity="0.45"/>
<circle cx="196.5" cy="482.8" r="1.3" fill="#555" opacity="0.48"/>
<circle cx="202.2" cy="461.7" r="1.0" fill="#555" opacity="0.48"/>
<circle cx="217.1" cy="487.9" r="1.1" fill="#555" opacity="0.42"/>
<circle cx="239.5" cy="464.7" r="0.9" fill="#555" opacity="0.46"/>
<circle cx="223.9" cy="475.3" r="1.3" fill="#555" opacity="0.43"/>
<circle cx="226.0" cy="493.6" r="1.5" fill="#555" opacity="0.47"/>
<rect x="248.7" y="456.0" width="59.6" height="44.0" fill="#dbdbdb"/>
<circle cx="305.1" cy="476.3" r="1.4" fill="#555" opacity="0.49"/>
<circle cx="262.6" cy="461.1" r="1.3" fill="#555" opacity="0.36"/>
<circle cx="272.0" cy="493.6" r="1.6" fill="#555" opacity="0.36"/>
<circle cx="255.3" cy="466.9" r="1.5" fill="#555" opacity="0.34"/>
<circle cx="263.2" cy="462.3" r="0.8" fill="#555" opacity="0.45"/>
<circle cx="260.9" cy="474.4" r="1.4" fill="#555" opacity="0.49"/>
<circle cx="273.8" cy="489.4" r="1.3" fill="#555" opacity="0.51"/>
<circle cx="264.5" cy="472.8" r="1.3" fill="#555" opacity="0.54"/>
<rect x="62.7" y="504.3" width="60.0" height="43.4" fill="#dedede"/>
<circle cx="117.0" cy="521.6" r="1.5" fill="#555" opacity="0.38"/>
<circle cx="91.7" cy="517.1" r="1.2" fill="#555" opacity="0.35"/>
<circle cx="88.0" cy="518.8" r="0.7" fill="#555" opacity="0.51"/>
<circle cx="115.8" cy="512.2" r="1.3" fill="#555" opacity="0.45"/>
<circle cx="88.5" cy="529.5" r="1.4" fill="#555" opacity="0.39"/>
<circle cx="85.0" cy="526.3" r="1.7" fill="#555" opacity="0.53"/>
<circle cx="108.2" cy="524.3" r="1.6" fill="#555" opacity="0.55"/>
<circle cx="114.2" cy="514.0" r="1.1" fill="#555" opacity="0.38"/>
<circle cx="90.0" cy="540.0" r="1.2" fill="#555" opacity="0.40"/>
<circle cx="73.9" cy="511.8" r="1.5" fill="#555" opacity="0.54"/>
<circle cx="114.5" cy="506.5" r="1.0" fill="#555" opacity="0.36"/>
<circle cx="90.7" cy="514.2" r="1.2" fill="#555" opacity="0.43"/>
<circle cx="100.1" cy="526.6" r="1.2" fill="#555" opacity="0.34"/>
<circle cx="117.5" cy="523.1" r="1.6" fill="#555" opacity="0.40"/>
<circle cx="69.8" cy="545.4" r="1.2" fill="#555" opacity="0.37"/>
<circle cx="118.6" cy="542.9" r="0.8" fill="#555" opacity="0.54"/>
<circle cx="72.0" cy="511.4" r="0.8" fill="#555" opacity="0.52"/>
<circle cx="98.6" cy="528.2" r="1.4" fill="#555" opacity="0.39"/>
<circle cx="68.1" cy="509.4" r="0.9" fill="#555" opacity="0.46"/>
<circle cx="68.8" cy="508.1" r="0.9" fill="#555" opacity="0.33"/>
<circle cx="67.9" cy="511.7" r="0.8" fill="#555" opacity="0.40"/>
<circle cx="112.3" cy="532.6" r="0.7" fill="#555" opacity="0.35"/>
<circle cx="83.6" cy="524.4" r="1.2" fill="#555" opacity="0.45"/>
<circle cx="105.1" cy="531.3" r="0.9" fill="#555" opacity="0.39"/>
<circle cx="120.3" cy="526.9" r="1.6" fill="#555" opacity="0.53"/>
<circle cx="110.1" cy="531.0" r="1.4" fill="#555" opacity="0.39"/>
<circle cx="76.2" cy="521.7" r="0.9" fill="#555" opacity="0.37"/>
<circle cx="70.9" cy="513.2" r="0.7" fill="#555" opacity="0.36"/>
<circle cx="105.9" cy="508.2" r="1.4" fill="#555" opacity="0.49"/>
<circle cx="74.1" cy="525.1" r="1.3" fill="#555" opacity="0.54"/>
<circle cx="98.9" cy="511.7" r="0.8" fill="#555" opacity="0.37"/>
<circle cx="72.4" cy="538.4" r="1.5" fill="#555" opacity="0.35"/>
<circle cx="107.9" cy="541.9" r="0.9" fill="#555" opacity="0.44"/>
<circle cx="77.8" cy="523.0" r="1.5" fill="#555" opacity="0.37"/>
<circle cx="92.9" cy="531.1" r="1.6" fill="#555" opacity="0.54"/>
<circle cx="115.3" cy="522.1" r="1.0" fill="#555" opacity="0.53"/>
<circle cx="112.9" cy="538.1" r="1.3" fill="#555" opacity="0.54"/>
<circle cx="72.1" cy="513.6" r="1.5" fill="#555" opacity="0.39"/>
<circle cx="100.1" cy="529.2" r="1.3" fill="#555" opacity="0.39"/>
<circle cx="118.7" cy="528.5" r="0.7" fill="#555" opacity="0.40"/>
<circle cx="93.8" cy="540.4" r="1.3" fill="#555" opacity="0.54"/>
<circle cx="83.1" cy="508.5" r="1.1" fill="#555" opacity="0.53"/>
<circle cx="95.0" cy="539.8" r="1.5" fill="#555" opacity="0.53"/>
<circle cx="92.7" cy="507.2" r="1.3" fill="#555" opacity="0.35"/>
<circle cx="85.8" cy="515.5" r="1.1" fill="#555" opacity="0.43"/>
<rect x="124.7" y="504.3" width="59.6" height="43.4" fill="#dfdfdf"/>
<circle cx="172.7" cy="514.7" r="1.6" fill="#555" opacity="0.44"/>
<circle cx="148.8" cy="530.6" r="0.9" fill="#555" opacity="0.37"/>
<circle cx="150.1" cy="515.4" r="1.4" fill="#555" opacity="0.42"/>
<circle cx="148.0" cy="517.2" r="0.9" fill="#555" opacity="0.49"/>
<circle cx="176.9" cy="520.1" r="1.5" fill="#555" opacity="0.40"/>
<circle cx="169.0" cy="515.7" r="1.3" fill="#555" opacity="0.42"/>
<circle cx="175.1" cy="536.3" r="0.8" fill="#555" opacity="0.35"/>
<circle cx="152.3" cy="514.8" r="0.9" fill="#555" opacity="0.54"/>
<circle cx="179.0" cy="507.0" r="0.7" fill="#555" opacity="0.47"/>
<circle cx="179.4" cy="541.3" r="1.4" fill="#555" opacity="0.49"/>
<circle cx="153.5" cy="525.6" r="1.6" fill="#555" opacity="0.35"/>
<circle cx="164.6" cy="534.6" r="0.9" fill="#555" opacity="0.50"/>
<circle cx="136.1" cy="544.4" r="1.5" fill="#555" opacity="0.43"/>
<circle cx="159.2" cy="544.7" r="1.1" fill="#555" opacity="0.37"/>
<circle cx="165.0" cy="541.9" r="0.9" fill="#555" opacity="0.50"/>
<circle cx="148.3" cy="533.4" r="1.2" fill="#555" opacity="0.54"/>
<circle cx="158.7" cy="544.4" r="1.7" fill="#555" opacity="0.36"/>
<circle cx="178.9" cy="536.2" r="0.8" fill="#555" opacity="0.46"/>
<circle cx="141.8" cy="508.2" r="0.8" fill="#555" opacity="0.41"/>
<circle cx="175.3" cy="509.2" r="1.3" fill="#555" opacity="0.52"/>
<circle cx="146.9" cy="534.6" r="1.3" fill="#555" opacity="0.50"/>
<circle cx="153.5" cy="545.0" r="1.1" fill="#555" opacity="0.38"/>
<rect x="186.3" y="504.3" width="60.4" height="43.4" fill="#dcdcdc"/>
<circle cx="215.4" cy="532.5" r="1.3" fill="#555" opacity="0.48"/>
<circle cx="239.2" cy="535.9" r="0.9" fill="#555" opacity="0.38"/>
<circle cx="214.0" cy="521.7" r="1.7" fill="#555" opacity="0.49"/>
<circle cx="214.7" cy="520.2" r="0.9" fill="#555" opacity="0.46"/>
<circle cx="240.4" cy="512.9" r="1.2" fill="#555" opacity="0.41"/>
<circle cx="222.7" cy="516.3" r="0.8" fill="#555" opacity="0.48"/>
<circle cx="205.6" cy="531.8" r="1.6" fill="#555" opacity="0.46"/>
<circle cx="239.8" cy="537.9" r="0.8" fill="#555" opacity="0.38"/>
<circle cx="225.7" cy="525.1" r="0.7" fill="#555" opacity="0.51"/>
<circle cx="225.0" cy="523.4" r="1.2" fill="#555" opacity="0.37"/>
<circle cx="219.3" cy="511.9" r="1.4" fill="#555" opacity="0.54"/>
<circle cx="200.5" cy="516.8" r="1.3" fill="#555" opacity="0.52"/>
<circle cx="197.8" cy="521.7" r="1.3" fill="#555" opacity="0.37"/>
<circle cx="192.2" cy="535.8" r="1.3" fill="#555" opacity="0.46"/>
<circle cx="219.1" cy="510.4" r="1.2" fill="#555" opacity="0.44"/>
<circle cx="217.3" cy="512.7" r="0.8" fill="#555" opacity="0.44"/>
<circle cx="227.5" cy="532.6" r="1.6" fill="#555" opacity="0.41"/>
<circle cx="210.4" cy="519.3" r="1.2" fill="#555" opacity="0.48"/>
<circle cx="237.0" cy="509.9" r="1.3" fill="#555" opacity="0.50"/>
<circle cx="230.6" cy="523.3" r="0.8" fill="#555" opacity="0.40"/>
<circle cx="221.9" cy="537.0" r="0.9" fill="#555" opacity="0.40"/>
<circle cx="209.0" cy="508.4" r="1.7" fill="#555" opacity="0.41"/>
<circle cx="213.2" cy="544.5" r="1.5" fill="#555" opacity="0.39"/>
<circle cx="241.4" cy="538.8" r="1.3" fill="#555" opacity="0.43"/>
<circle cx="236.2" cy="542.6" r="1.4" fill="#555" opacity="0.40"/>
<circle cx="237.5" cy="532.3" r="1.6" fill="#555" opacity="0.51"/>
<circle cx="227.3" cy="541.6" r="1.1" fill="#555" opacity="0.46"/>
<circle cx="230.5" cy="523.6" r="0.8" fill="#555" opacity="0.51"/>
<rect x="248.7" y="504.3" width="59.6" height="43.4" fill="#dfdfdf"/>
<circle cx="252.4" cy="540.5" r="1.4" fill="#555" opacity="0.33"/>
<circle cx="281.3" cy="515.7" r="1.6" fill="#555" opacity="0.52"/>
<circle cx="267.5" cy="529.9" r="1.2" fill="#555" opacity="0.39"/>
<circle cx="274.8" cy="521.9" r="1.2" fill="#555" opacity="0.54"/>
<circle cx="291.3" cy="507.8" r="1.1" fill="#555" opacity="0.54"/>
<circle cx="293.0" cy="530.2" r="1.3" fill="#555" opacity="0.48"/>
<circle cx="259.8" cy="522.3" r="1.0" fill="#555" opacity="0.37"/>
<circle cx="289.0" cy="507.7" r="0.9" fill="#555" opacity="0.49"/>
</g>
<rect x="62.7" y="456.0" width="60.0" height="44.0" fill="url(#vg2)" opacity="0.18"/>
<rect x="124.7" y="456.0" width="59.6" height="44.0" fill="url(#vg2)" opacity="0.3"/>
<rect x="186.3" y="456.0" width="60.4" height="44.0" fill="url(#vg2)" opacity="0.2"/>
<rect x="248.7" y="456.0" width="59.6" height="44.0" fill="url(#vg2)" opacity="0.25"/>
<rect x="62.7" y="504.3" width="60.0" height="43.4" fill="url(#vg2)" opacity="0.15"/>
<rect x="124.7" y="504.3" width="59.6" height="43.4" fill="url(#vg2)" opacity="0.15"/>
<rect x="186.3" y="504.3" width="60.4" height="43.4" fill="url(#vg2)" opacity="0.15"/>
<rect x="248.7" y="504.3" width="59.6" height="43.4" fill="url(#vg2)" opacity="0.18"/>
<rect x="186.3" y="456" width="60.4" height="44" fill="url(#vgr)" opacity="0.4"/>
<line x1="300.0" y1="544.3" x2="306.5" y2="544.3" stroke="#222" stroke-width="1.2"/>
<text x="303.0" y="542.0" font-size="3.2" font-weight="bold" text-anchor="middle" stroke="#2a2a2a" stroke-width="0.2">1000 μm</text>
<line x1="347.3" y1="432.2" x2="347.3" y2="552.8" stroke="#444" stroke-width="1"/>
<line x1="343.3" y1="449.3" x2="347.3" y2="449.3" stroke="#444" stroke-width="1"/>
<text x="341.8" y="452.4" font-size="8.6" font-weight="bold" text-anchor="end" stroke="#2a2a2a" stroke-width="0.28">300</text>
<line x1="343.3" y1="483.7" x2="347.3" y2="483.7" stroke="#444" stroke-width="1"/>
<text x="341.8" y="486.8" font-size="8.6" font-weight="bold" text-anchor="end" stroke="#2a2a2a" stroke-width="0.28">200</text>
<line x1="343.3" y1="518.0" x2="347.3" y2="518.0" stroke="#444" stroke-width="1"/>
<text x="341.8" y="521.1" font-size="8.6" font-weight="bold" text-anchor="end" stroke="#2a2a2a" stroke-width="0.28">100</text>
<line x1="343.3" y1="552.3" x2="347.3" y2="552.3" stroke="#444" stroke-width="1"/>
<text x="341.8" y="555.4" font-size="8.6" font-weight="bold" text-anchor="end" stroke="#2a2a2a" stroke-width="0.28">0</text>
<line x1="346.8" y1="552.3" x2="526.0" y2="552.3" stroke="#444" stroke-width="1"/>
<line x1="390.7" y1="552.3" x2="390.7" y2="555.8" stroke="#444" stroke-width="1"/>
<line x1="481.0" y1="552.3" x2="481.0" y2="555.8" stroke="#444" stroke-width="1"/>
<text x="321.5" y="493.3" font-size="8.6" font-weight="bold" text-anchor="middle" stroke="#2a2a2a" stroke-width="0.28" transform="rotate(-90 321.5 493.3)">Spheroid number</text>
<circle cx="360.0" cy="426.7" r="1.3" fill="#4a4ab8"/>
<text x="374.3" y="430.0" font-size="9.3">CON</text>
<circle cx="360.0" cy="436.5" r="1.3" fill="#ea4a35"/>
<text x="374.3" y="439.8" font-size="9.3">MET</text>
<circle cx="413.3" cy="426.7" r="1.3" fill="#55b546"/>
<text x="427.7" y="430.0" font-size="9.3">SYRO</text>
<circle cx="413.3" cy="436.5" r="1.3" fill="#a247ad"/>
<text x="427.7" y="439.8" font-size="9.3">MET+SYRO</text>
<path d="M354.7 552.3V507.3H370.0V552.3" stroke="#4a4ab8" stroke-width="1.0" fill="none"/>
<line x1="362.4" y1="505.8" x2="362.4" y2="508.8" stroke="#4a4ab8" stroke-width="0.9"/>
<line x1="359.4" y1="505.8" x2="365.4" y2="505.8" stroke="#4a4ab8" stroke-width="0.9"/>
<line x1="359.4" y1="508.8" x2="365.4" y2="508.8" stroke="#4a4ab8" stroke-width="0.9"/>
<circle cx="359.9" cy="508.0" r="1.2" fill="#4a4ab8"/>
<circle cx="362.4" cy="506.7" r="1.2" fill="#4a4ab8"/>
<circle cx="364.9" cy="508.7" r="1.2" fill="#4a4ab8"/>
<path d="M374.0 552.3V520.0H389.3V552.3" stroke="#ea4a35" stroke-width="1.0" fill="none"/>
<line x1="381.6" y1="519.0" x2="381.6" y2="521.0" stroke="#ea4a35" stroke-width="0.9"/>
<line x1="378.6" y1="519.0" x2="384.6" y2="519.0" stroke="#ea4a35" stroke-width="0.9"/>
<line x1="378.6" y1="521.0" x2="384.6" y2="521.0" stroke="#ea4a35" stroke-width="0.9"/>
<circle cx="379.1" cy="519.2" r="1.2" fill="#ea4a35"/>
<circle cx="381.6" cy="519.8" r="1.2" fill="#ea4a35"/>
<circle cx="384.1" cy="520.5" r="1.2" fill="#ea4a35"/>
<path d="M393.3 552.3V523.3H408.7V552.3" stroke="#55b546" stroke-width="1.0" fill="none"/>
<line x1="401.0" y1="522.5" x2="401.0" y2="524.1" stroke="#55b546" stroke-width="0.9"/>
<line x1="398.0" y1="522.5" x2="404.0" y2="522.5" stroke="#55b546" stroke-width="0.9"/>
<line x1="398.0" y1="524.1" x2="404.0" y2="524.1" stroke="#55b546" stroke-width="0.9"/>
<circle cx="398.5" cy="522.7" r="1.2" fill="#55b546"/>
<circle cx="401.0" cy="523.3" r="1.2" fill="#55b546"/>
<circle cx="403.5" cy="522.6" r="1.2" fill="#55b546"/>
<path d="M412.3 552.3V536.7H427.3V552.3" stroke="#a247ad" stroke-width="1.0" fill="none"/>
<line x1="419.8" y1="535.7" x2="419.8" y2="537.7" stroke="#a247ad" stroke-width="0.9"/>
<line x1="416.8" y1="535.7" x2="422.8" y2="535.7" stroke="#a247ad" stroke-width="0.9"/>
<line x1="416.8" y1="537.7" x2="422.8" y2="537.7" stroke="#a247ad" stroke-width="0.9"/>
<circle cx="417.3" cy="537.0" r="1.2" fill="#a247ad"/>
<circle cx="419.8" cy="537.2" r="1.2" fill="#a247ad"/>
<circle cx="422.3" cy="536.8" r="1.2" fill="#a247ad"/>
<path d="M446.7 552.3V463.3H461.7V552.3" stroke="#4a4ab8" stroke-width="1.0" fill="none"/>
<line x1="454.2" y1="459.8" x2="454.2" y2="466.8" stroke="#4a4ab8" stroke-width="0.9"/>
<line x1="451.2" y1="459.8" x2="457.2" y2="459.8" stroke="#4a4ab8" stroke-width="0.9"/>
<line x1="451.2" y1="466.8" x2="457.2" y2="466.8" stroke="#4a4ab8" stroke-width="0.9"/>
<circle cx="451.7" cy="465.9" r="1.2" fill="#4a4ab8"/>
<circle cx="454.2" cy="462.0" r="1.2" fill="#4a4ab8"/>
<circle cx="456.7" cy="464.7" r="1.2" fill="#4a4ab8"/>
<path d="M465.7 552.3V498.7H481.0V552.3" stroke="#ea4a35" stroke-width="1.0" fill="none"/>
<line x1="473.4" y1="494.7" x2="473.4" y2="502.7" stroke="#ea4a35" stroke-width="0.9"/>
<line x1="470.4" y1="494.7" x2="476.4" y2="494.7" stroke="#ea4a35" stroke-width="0.9"/>
<line x1="470.4" y1="502.7" x2="476.4" y2="502.7" stroke="#ea4a35" stroke-width="0.9"/>
<circle cx="470.9" cy="499.5" r="1.2" fill="#ea4a35"/>
<circle cx="473.4" cy="499.3" r="1.2" fill="#ea4a35"/>
<circle cx="475.9" cy="498.3" r="1.2" fill="#ea4a35"/>
<path d="M485.0 552.3V500.7H500.0V552.3" stroke="#55b546" stroke-width="1.0" fill="none"/>
<line x1="492.5" y1="497.7" x2="492.5" y2="503.7" stroke="#55b546" stroke-width="0.9"/>
<line x1="489.5" y1="497.7" x2="495.5" y2="497.7" stroke="#55b546" stroke-width="0.9"/>
<line x1="489.5" y1="503.7" x2="495.5" y2="503.7" stroke="#55b546" stroke-width="0.9"/>
<circle cx="490.0" cy="502.7" r="1.2" fill="#55b546"/>
<circle cx="492.5" cy="503.4" r="1.2" fill="#55b546"/>
<circle cx="495.0" cy="500.5" r="1.2" fill="#55b546"/>
<path d="M504.0 552.3V540.7H519.0V552.3" stroke="#a247ad" stroke-width="1.0" fill="none"/>
<line x1="511.5" y1="538.2" x2="511.5" y2="543.2" stroke="#a247ad" stroke-width="0.9"/>
<line x1="508.5" y1="538.2" x2="514.5" y2="538.2" stroke="#a247ad" stroke-width="0.9"/>
<line x1="508.5" y1="543.2" x2="514.5" y2="543.2" stroke="#a247ad" stroke-width="0.9"/>
<circle cx="509.0" cy="541.5" r="1.2" fill="#a247ad"/>
<circle cx="511.5" cy="538.5" r="1.2" fill="#a247ad"/>
<circle cx="514.0" cy="541.7" r="1.2" fill="#a247ad"/>
<path d="M361.7 501.3V498.3H420.0V501.3" stroke="#444" stroke-width="1.1" fill="none"/>
<text x="391.2" y="498.1" font-size="8.64" font-weight="bold" text-anchor="middle" letter-spacing="0.72">****</text>
<path d="M381.0 511.3V508.3H420.0V511.3" stroke="#444" stroke-width="1.1" fill="none"/>
<text x="400.9" y="508.1" font-size="8.64" font-weight="bold" text-anchor="middle" letter-spacing="0.72">****</text>
<path d="M400.7 519.0V516.0H420.0V519.0" stroke="#444" stroke-width="1.1" fill="none"/>
<text x="410.8" y="515.8" font-size="8.64" font-weight="bold" text-anchor="middle" letter-spacing="0.72">***</text>
<path d="M454.0 454.7V451.7H511.3V454.7" stroke="#444" stroke-width="1.1" fill="none"/>
<text x="483.0" y="451.5" font-size="8.64" font-weight="bold" text-anchor="middle" letter-spacing="0.72">****</text>
<path d="M473.3 485.3V482.3H511.3V485.3" stroke="#444" stroke-width="1.1" fill="none"/>
<text x="492.7" y="482.1" font-size="8.64" font-weight="bold" text-anchor="middle" letter-spacing="0.72">****</text>
<path d="M492.7 493.0V490.0H511.3V493.0" stroke="#444" stroke-width="1.1" fill="none"/>
<text x="502.4" y="489.8" font-size="8.64" font-weight="bold" text-anchor="middle" letter-spacing="0.72">****</text>
<text x="390.7" y="565.8" font-size="8.6" font-weight="bold" text-anchor="middle" stroke="#2a2a2a" stroke-width="0.28">PAMC82</text>
<text x="481.0" y="565.8" font-size="8.6" font-weight="bold" text-anchor="middle" stroke="#2a2a2a" stroke-width="0.28">SNU16</text>
<text x="537.5" y="436.2" font-size="26" font-weight="bold" fill="#111">g</text>
<text x="580.7" y="454.3" font-size="11.5" font-weight="bold" text-anchor="middle" fill="#222">CON</text>
<text x="645.0" y="454.3" font-size="11.5" font-weight="bold" text-anchor="middle" fill="#222">MET</text>
<text x="704.3" y="454.3" font-size="11.5" font-weight="bold" text-anchor="middle" fill="#222">SYRO</text>
<text x="766.7" y="454.3" font-size="11.5" font-weight="bold" text-anchor="middle" fill="#222">MET+SYRO</text>
<text x="547.5" y="478.0" font-size="11.3" font-weight="bold" text-anchor="middle" fill="#222" transform="rotate(-90 547.5 478.0)">PAMC82</text>
<text x="547.5" y="526.5" font-size="11.3" font-weight="bold" text-anchor="middle" fill="#222" transform="rotate(-90 547.5 526.5)">SNU16</text>
<rect x="550.0" y="456.0" width="60.0" height="44.0" fill="#927bbe"/>
<rect x="550.0" y="456" width="60.0" height="44" filter="url(#gA)" opacity="0.85"/>
<rect x="612.0" y="456.0" width="60.0" height="44.0" fill="#c6bbde"/>
<rect x="612.0" y="456" width="60.0" height="44" filter="url(#gB)" opacity="0.95"/>
<rect x="612.0" y="456" width="60.0" height="44" filter="url(#gD)" opacity="0.35"/>
<rect x="674.0" y="456.0" width="60.0" height="44.0" fill="#917abd"/>
<rect x="674.0" y="456" width="60.0" height="44" filter="url(#gD)" opacity="0.6"/>
<rect x="674.0" y="456" width="60.0" height="44" filter="url(#gC)" opacity="0.95"/>
<rect x="736.0" y="456.0" width="60.7" height="44.0" fill="#efedf3"/>
<circle cx="760.6" cy="490.0" r="0.4" fill="#6a6aa0" opacity="0.47"/>
<circle cx="751.4" cy="484.7" r="0.3" fill="#6a6aa0" opacity="0.59"/>
<circle cx="751.8" cy="496.5" r="0.3" fill="#6a6aa0" opacity="0.47"/>
<circle cx="769.3" cy="496.0" r="0.5" fill="#6a6aa0" opacity="0.43"/>
<circle cx="773.9" cy="492.3" r="0.3" fill="#6a6aa0" opacity="0.56"/>
<circle cx="784.1" cy="496.6" r="0.3" fill="#6a6aa0" opacity="0.54"/>
<circle cx="763.9" cy="496.2" r="0.4" fill="#6a6aa0" opacity="0.36"/>
<circle cx="791.4" cy="491.0" r="0.3" fill="#6a6aa0" opacity="0.59"/>
<circle cx="747.2" cy="495.6" r="0.4" fill="#6a6aa0" opacity="0.37"/>
<circle cx="784.0" cy="470.7" r="0.3" fill="#6a6aa0" opacity="0.40"/>
<circle cx="742.9" cy="476.1" r="0.3" fill="#6a6aa0" opacity="0.58"/>
<circle cx="759.8" cy="462.3" r="0.3" fill="#6a6aa0" opacity="0.53"/>
<circle cx="744.1" cy="496.3" r="0.4" fill="#6a6aa0" opacity="0.50"/>
<circle cx="770.5" cy="469.2" r="0.5" fill="#6a6aa0" opacity="0.43"/>
<circle cx="746.2" cy="481.1" r="0.5" fill="#6a6aa0" opacity="0.59"/>
<circle cx="759.5" cy="467.6" r="0.4" fill="#6a6aa0" opacity="0.39"/>
<circle cx="772.0" cy="466.8" r="0.3" fill="#6a6aa0" opacity="0.55"/>
<circle cx="791.5" cy="482.8" r="0.3" fill="#6a6aa0" opacity="0.59"/>
<circle cx="771.8" cy="480.1" r="0.4" fill="#6a6aa0" opacity="0.56"/>
<circle cx="756.3" cy="464.4" r="0.3" fill="#6a6aa0" opacity="0.44"/>
<circle cx="747.3" cy="463.1" r="0.4" fill="#6a6aa0" opacity="0.42"/>
<circle cx="787.0" cy="484.0" r="0.5" fill="#6a6aa0" opacity="0.52"/>
<circle cx="741.3" cy="490.2" r="0.3" fill="#6a6aa0" opacity="0.46"/>
<circle cx="785.5" cy="480.0" r="0.5" fill="#6a6aa0" opacity="0.48"/>
<circle cx="781.8" cy="473.9" r="0.3" fill="#6a6aa0" opacity="0.51"/>
<circle cx="765.2" cy="472.1" r="0.4" fill="#6a6aa0" opacity="0.45"/>
<circle cx="791.4" cy="478.6" r="0.4" fill="#6a6aa0" opacity="0.59"/>
<circle cx="768.3" cy="473.5" r="0.4" fill="#6a6aa0" opacity="0.48"/>
<circle cx="740.1" cy="467.4" r="0.3" fill="#6a6aa0" opacity="0.51"/>
<circle cx="764.0" cy="474.6" r="0.3" fill="#6a6aa0" opacity="0.55"/>
<circle cx="758.2" cy="465.5" r="0.3" fill="#6a6aa0" opacity="0.55"/>
<circle cx="755.9" cy="471.4" r="0.3" fill="#6a6aa0" opacity="0.37"/>
<circle cx="792.3" cy="459.1" r="0.3" fill="#6a6aa0" opacity="0.42"/>
<circle cx="753.2" cy="492.4" r="0.3" fill="#6a6aa0" opacity="0.59"/>
<circle cx="765.2" cy="477.1" r="0.4" fill="#6a6aa0" opacity="0.57"/>
<circle cx="747.3" cy="477.1" r="0.3" fill="#6a6aa0" opacity="0.53"/>
<circle cx="750.8" cy="492.8" r="0.4" fill="#6a6aa0" opacity="0.60"/>
<circle cx="790.1" cy="484.3" r="0.3" fill="#6a6aa0" opacity="0.45"/>
<circle cx="776.2" cy="479.5" r="0.4" fill="#6a6aa0" opacity="0.39"/>
<circle cx="744.3" cy="477.4" r="0.4" fill="#6a6aa0" opacity="0.37"/>
<circle cx="782.7" cy="470.2" r="0.3" fill="#6a6aa0" opacity="0.50"/>
<circle cx="772.2" cy="465.2" r="0.4" fill="#6a6aa0" opacity="0.56"/>
<circle cx="756.4" cy="495.1" r="0.5" fill="#6a6aa0" opacity="0.56"/>
<circle cx="769.4" cy="481.6" r="0.3" fill="#6a6aa0" opacity="0.48"/>
<circle cx="794.7" cy="496.9" r="0.3" fill="#6a6aa0" opacity="0.59"/>
<circle cx="747.9" cy="475.0" r="0.3" fill="#6a6aa0" opacity="0.41"/>
<circle cx="773.1" cy="491.5" r="0.3" fill="#6a6aa0" opacity="0.54"/>
<circle cx="767.1" cy="465.1" r="0.3" fill="#6a6aa0" opacity="0.55"/>
<circle cx="763.8" cy="496.5" r="0.3" fill="#6a6aa0" opacity="0.38"/>
<circle cx="788.0" cy="489.2" r="0.5" fill="#6a6aa0" opacity="0.44"/>
<circle cx="787.4" cy="465.8" r="0.5" fill="#6a6aa0" opacity="0.52"/>
<circle cx="753.8" cy="464.3" r="0.4" fill="#6a6aa0" opacity="0.52"/>
<circle cx="766.3" cy="494.5" r="0.3" fill="#6a6aa0" opacity="0.45"/>
<circle cx="741.5" cy="462.9" r="0.5" fill="#6a6aa0" opacity="0.55"/>
<circle cx="780.0" cy="474.1" r="0.4" fill="#6a6aa0" opacity="0.40"/>
<circle cx="741.2" cy="487.4" r="0.3" fill="#6a6aa0" opacity="0.54"/>
<circle cx="789.1" cy="460.0" r="0.3" fill="#6a6aa0" opacity="0.39"/>
<circle cx="748.4" cy="495.8" r="0.4" fill="#6a6aa0" opacity="0.51"/>
<circle cx="759.5" cy="483.0" r="0.4" fill="#6a6aa0" opacity="0.41"/>
<circle cx="751.4" cy="467.0" r="0.3" fill="#6a6aa0" opacity="0.48"/>
<ellipse cx="755.5" cy="478" rx="3.6" ry="2.6" fill="#4a3fa8" filter="url(#soft)"/><ellipse cx="777.5" cy="479.3" rx="3.3" ry="2" fill="#4a3fa8" filter="url(#soft)"/>
<g filter="url(#soft)">
<rect x="550.0" y="504.3" width="60.0" height="43.4" fill="#d9d5ea"/>
<ellipse cx="569.2" cy="516.2" rx="2.8" ry="1.3" transform="rotate(102 569.2 516.2)" fill="#4b3fa6" opacity="0.87"/>
<ellipse cx="577.7" cy="542.8" rx="2.9" ry="1.3" transform="rotate(98 577.7 542.8)" fill="#4b3fa6" opacity="0.93"/>
<ellipse cx="568.0" cy="514.6" rx="3.0" ry="1.4" transform="rotate(171 568.0 514.6)" fill="#4b3fa6" opacity="0.87"/>
<ellipse cx="592.6" cy="508.0" rx="1.8" ry="0.8" transform="rotate(139 592.6 508.0)" fill="#4b3fa6" opacity="0.57"/>
<ellipse cx="569.2" cy="515.2" rx="3.0" ry="1.4" transform="rotate(39 569.2 515.2)" fill="#4b3fa6" opacity="0.61"/>
<ellipse cx="570.3" cy="542.3" rx="2.4" ry="1.1" transform="rotate(156 570.3 542.3)" fill="#4b3fa6" opacity="0.86"/>
<ellipse cx="600.5" cy="545.1" rx="2.5" ry="1.2" transform="rotate(11 600.5 545.1)" fill="#4b3fa6" opacity="0.61"/>
<ellipse cx="602.4" cy="527.7" rx="3.1" ry="1.5" transform="rotate(112 602.4 527.7)" fill="#4b3fa6" opacity="0.95"/>
<ellipse cx="574.6" cy="541.1" rx="2.9" ry="1.4" transform="rotate(162 574.6 541.1)" fill="#4b3fa6" opacity="0.73"/>
<ellipse cx="567.9" cy="533.3" rx="2.6" ry="1.2" transform="rotate(50 567.9 533.3)" fill="#4b3fa6" opacity="0.85"/>
<ellipse cx="601.1" cy="539.1" rx="1.7" ry="0.8" transform="rotate(96 601.1 539.1)" fill="#4b3fa6" opacity="0.84"/>
<ellipse cx="586.3" cy="515.5" rx="1.6" ry="0.8" transform="rotate(110 586.3 515.5)" fill="#4b3fa6" opacity="0.92"/>
<ellipse cx="556.3" cy="537.3" rx="1.9" ry="0.9" transform="rotate(71 556.3 537.3)" fill="#4b3fa6" opacity="0.93"/>
<ellipse cx="593.8" cy="511.1" rx="2.1" ry="1.0" transform="rotate(79 593.8 511.1)" fill="#4b3fa6" opacity="0.82"/>
<ellipse cx="592.7" cy="537.5" rx="1.9" ry="0.9" transform="rotate(123 592.7 537.5)" fill="#4b3fa6" opacity="0.78"/>
<ellipse cx="572.2" cy="524.2" rx="2.3" ry="1.1" transform="rotate(153 572.2 524.2)" fill="#4b3fa6" opacity="0.90"/>
<ellipse cx="569.2" cy="524.9" rx="2.7" ry="1.2" transform="rotate(72 569.2 524.9)" fill="#4b3fa6" opacity="0.58"/>
<ellipse cx="594.6" cy="507.7" rx="2.7" ry="1.3" transform="rotate(22 594.6 507.7)" fill="#4b3fa6" opacity="0.59"/>
<ellipse cx="570.1" cy="519.7" rx="1.8" ry="0.8" transform="rotate(136 570.1 519.7)" fill="#4b3fa6" opacity="0.87"/>
<ellipse cx="563.6" cy="537.2" rx="2.6" ry="1.2" transform="rotate(104 563.6 537.2)" fill="#4b3fa6" opacity="0.85"/>
<ellipse cx="597.8" cy="528.7" rx="1.4" ry="0.7" transform="rotate(106 597.8 528.7)" fill="#4b3fa6" opacity="0.60"/>
<ellipse cx="607.5" cy="526.1" rx="2.4" ry="1.1" transform="rotate(113 607.5 526.1)" fill="#4b3fa6" opacity="0.75"/>
<ellipse cx="584.9" cy="520.1" rx="1.7" ry="0.8" transform="rotate(63 584.9 520.1)" fill="#4b3fa6" opacity="0.83"/>
<ellipse cx="572.4" cy="527.7" rx="3.0" ry="1.4" transform="rotate(78 572.4 527.7)" fill="#4b3fa6" opacity="0.63"/>
<ellipse cx="566.0" cy="527.9" rx="2.9" ry="1.4" transform="rotate(175 566.0 527.9)" fill="#4b3fa6" opacity="0.59"/>
<ellipse cx="594.9" cy="536.3" rx="2.5" ry="1.2" transform="rotate(159 594.9 536.3)" fill="#4b3fa6" opacity="0.61"/>
<ellipse cx="590.8" cy="528.4" rx="1.5" ry="0.7" transform="rotate(153 590.8 528.4)" fill="#4b3fa6" opacity="0.63"/>
<ellipse cx="582.8" cy="515.6" rx="2.2" ry="1.0" transform="rotate(173 582.8 515.6)" fill="#4b3fa6" opacity="0.67"/>
<ellipse cx="596.2" cy="542.7" rx="2.8" ry="1.3" transform="rotate(53 596.2 542.7)" fill="#4b3fa6" opacity="0.75"/>
<ellipse cx="568.3" cy="511.7" rx="3.1" ry="1.4" transform="rotate(122 568.3 511.7)" fill="#4b3fa6" opacity="0.87"/>
<ellipse cx="568.5" cy="533.3" rx="2.1" ry="1.0" transform="rotate(115 568.5 533.3)" fill="#4b3fa6" opacity="0.94"/>
<ellipse cx="601.8" cy="538.4" rx="1.4" ry="0.7" transform="rotate(77 601.8 538.4)" fill="#4b3fa6" opacity="0.68"/>
<ellipse cx="562.6" cy="540.1" rx="2.5" ry="1.2" transform="rotate(135 562.6 540.1)" fill="#4b3fa6" opacity="0.92"/>
<ellipse cx="560.1" cy="536.7" rx="1.4" ry="0.7" transform="rotate(135 560.1 536.7)" fill="#4b3fa6" opacity="0.72"/>
<ellipse cx="556.8" cy="507.3" rx="1.8" ry="0.8" transform="rotate(1 556.8 507.3)" fill="#4b3fa6" opacity="0.63"/>
<ellipse cx="569.0" cy="543.9" rx="2.7" ry="1.3" transform="rotate(81 569.0 543.9)" fill="#4b3fa6" opacity="0.65"/>
<ellipse cx="606.7" cy="541.1" rx="2.8" ry="1.3" transform="rotate(85 606.7 541.1)" fill="#4b3fa6" opacity="0.72"/>
<ellipse cx="562.3" cy="522.2" rx="3.0" ry="1.4" transform="rotate(100 562.3 522.2)" fill="#4b3fa6" opacity="0.73"/>
<ellipse cx="568.9" cy="523.7" rx="1.5" ry="0.7" transform="rotate(131 568.9 523.7)" fill="#4b3fa6" opacity="0.78"/>
<ellipse cx="566.6" cy="513.8" rx="2.2" ry="1.0" transform="rotate(147 566.6 513.8)" fill="#4b3fa6" opacity="0.63"/>
<ellipse cx="606.4" cy="520.9" rx="2.3" ry="1.1" transform="rotate(1 606.4 520.9)" fill="#4b3fa6" opacity="0.70"/>
<ellipse cx="580.1" cy="515.5" rx="2.3" ry="1.1" transform="rotate(5 580.1 515.5)" fill="#4b3fa6" opacity="0.89"/>
<ellipse cx="573.1" cy="525.8" rx="2.4" ry="1.1" transform="rotate(95 573.1 525.8)" fill="#4b3fa6" opacity="0.74"/>
<ellipse cx="604.9" cy="520.2" rx="1.7" ry="0.8" transform="rotate(5 604.9 520.2)" fill="#4b3fa6" opacity="0.65"/>
<ellipse cx="591.0" cy="527.7" rx="1.7" ry="0.8" transform="rotate(23 591.0 527.7)" fill="#4b3fa6" opacity="0.69"/>
<ellipse cx="592.7" cy="514.5" rx="1.8" ry="0.8" transform="rotate(74 592.7 514.5)" fill="#4b3fa6" opacity="0.77"/>
<ellipse cx="601.4" cy="538.4" rx="1.4" ry="0.6" transform="rotate(35 601.4 538.4)" fill="#4b3fa6" opacity="0.88"/>
<ellipse cx="574.1" cy="522.6" rx="2.3" ry="1.1" transform="rotate(125 574.1 522.6)" fill="#4b3fa6" opacity="0.89"/>
<ellipse cx="601.8" cy="507.3" rx="2.8" ry="1.3" transform="rotate(130 601.8 507.3)" fill="#4b3fa6" opacity="0.89"/>
<ellipse cx="605.0" cy="513.1" rx="1.8" ry="0.9" transform="rotate(131 605.0 513.1)" fill="#4b3fa6" opacity="0.85"/>
<ellipse cx="573.8" cy="539.7" rx="2.7" ry="1.3" transform="rotate(130 573.8 539.7)" fill="#4b3fa6" opacity="0.85"/>
<ellipse cx="579.7" cy="529.3" rx="2.0" ry="0.9" transform="rotate(53 579.7 529.3)" fill="#4b3fa6" opacity="0.86"/>
<ellipse cx="584.8" cy="514.1" rx="2.8" ry="1.3" transform="rotate(122 584.8 514.1)" fill="#4b3fa6" opacity="0.91"/>
<ellipse cx="577.8" cy="544.5" rx="1.8" ry="0.9" transform="rotate(60 577.8 544.5)" fill="#4b3fa6" opacity="0.64"/>
<ellipse cx="591.3" cy="522.6" rx="2.1" ry="1.0" transform="rotate(126 591.3 522.6)" fill="#4b3fa6" opacity="0.81"/>
<ellipse cx="567.4" cy="535.6" rx="2.0" ry="0.9" transform="rotate(175 567.4 535.6)" fill="#4b3fa6" opacity="0.77"/>
<ellipse cx="588.6" cy="510.5" rx="3.0" ry="1.4" transform="rotate(2 588.6 510.5)" fill="#4b3fa6" opacity="0.84"/>
<ellipse cx="604.4" cy="521.3" rx="2.7" ry="1.2" transform="rotate(92 604.4 521.3)" fill="#4b3fa6" opacity="0.76"/>
<ellipse cx="591.4" cy="530.1" rx="2.5" ry="1.2" transform="rotate(133 591.4 530.1)" fill="#4b3fa6" opacity="0.90"/>
<ellipse cx="600.4" cy="506.5" rx="1.7" ry="0.8" transform="rotate(138 600.4 506.5)" fill="#4b3fa6" opacity="0.76"/>
<ellipse cx="553.1" cy="543.8" rx="1.8" ry="0.8" transform="rotate(175 553.1 543.8)" fill="#4b3fa6" opacity="0.80"/>
<ellipse cx="559.5" cy="534.9" rx="2.6" ry="1.2" transform="rotate(148 559.5 534.9)" fill="#4b3fa6" opacity="0.79"/>
<ellipse cx="577.6" cy="522.6" rx="2.3" ry="1.1" transform="rotate(90 577.6 522.6)" fill="#4b3fa6" opacity="0.89"/>
<ellipse cx="574.3" cy="525.8" rx="3.0" ry="1.4" transform="rotate(51 574.3 525.8)" fill="#4b3fa6" opacity="0.81"/>
<ellipse cx="576.5" cy="542.4" rx="2.7" ry="1.2" transform="rotate(166 576.5 542.4)" fill="#4b3fa6" opacity="0.71"/>
<ellipse cx="570.4" cy="507.1" rx="2.4" ry="1.1" transform="rotate(4 570.4 507.1)" fill="#4b3fa6" opacity="0.70"/>
<ellipse cx="607.6" cy="518.6" rx="2.3" ry="1.1" transform="rotate(177 607.6 518.6)" fill="#4b3fa6" opacity="0.92"/>
<ellipse cx="555.5" cy="539.7" rx="2.0" ry="0.9" transform="rotate(38 555.5 539.7)" fill="#4b3fa6" opacity="0.57"/>
<ellipse cx="597.4" cy="536.1" rx="1.5" ry="0.7" transform="rotate(8 597.4 536.1)" fill="#4b3fa6" opacity="0.80"/>
<ellipse cx="582.1" cy="538.0" rx="1.8" ry="0.9" transform="rotate(60 582.1 538.0)" fill="#4b3fa6" opacity="0.77"/>
<ellipse cx="607.7" cy="518.0" rx="2.9" ry="1.4" transform="rotate(102 607.7 518.0)" fill="#4b3fa6" opacity="0.70"/>
<ellipse cx="592.4" cy="533.5" rx="3.0" ry="1.4" transform="rotate(145 592.4 533.5)" fill="#4b3fa6" opacity="0.80"/>
<ellipse cx="565.7" cy="519.7" rx="2.2" ry="1.0" transform="rotate(155 565.7 519.7)" fill="#4b3fa6" opacity="0.88"/>
<ellipse cx="598.7" cy="541.3" rx="1.5" ry="0.7" transform="rotate(126 598.7 541.3)" fill="#4b3fa6" opacity="0.58"/>
<ellipse cx="606.7" cy="543.7" rx="3.0" ry="1.4" transform="rotate(169 606.7 543.7)" fill="#4b3fa6" opacity="0.91"/>
<ellipse cx="600.3" cy="519.4" rx="2.2" ry="1.0" transform="rotate(14 600.3 519.4)" fill="#4b3fa6" opacity="0.72"/>
<ellipse cx="597.9" cy="510.0" rx="2.2" ry="1.0" transform="rotate(61 597.9 510.0)" fill="#4b3fa6" opacity="0.92"/>
<ellipse cx="597.6" cy="515.2" rx="2.8" ry="1.3" transform="rotate(147 597.6 515.2)" fill="#4b3fa6" opacity="0.59"/>
<ellipse cx="587.4" cy="511.4" rx="1.8" ry="0.8" transform="rotate(140 587.4 511.4)" fill="#4b3fa6" opacity="0.89"/>
<ellipse cx="601.7" cy="525.9" rx="1.4" ry="0.6" transform="rotate(99 601.7 525.9)" fill="#4b3fa6" opacity="0.63"/>
<ellipse cx="552.0" cy="540.1" rx="1.9" ry="0.9" transform="rotate(167 552.0 540.1)" fill="#4b3fa6" opacity="0.76"/>
<ellipse cx="582.6" cy="510.5" rx="2.8" ry="1.3" transform="rotate(152 582.6 510.5)" fill="#4b3fa6" opacity="0.86"/>
<ellipse cx="570.4" cy="512.4" rx="2.5" ry="1.2" transform="rotate(179 570.4 512.4)" fill="#4b3fa6" opacity="0.81"/>
<ellipse cx="582.2" cy="527.3" rx="2.6" ry="1.2" transform="rotate(21 582.2 527.3)" fill="#4b3fa6" opacity="0.66"/>
<ellipse cx="562.8" cy="528.1" rx="2.8" ry="1.3" transform="rotate(53 562.8 528.1)" fill="#4b3fa6" opacity="0.68"/>
<ellipse cx="587.5" cy="525.2" rx="2.7" ry="1.3" transform="rotate(159 587.5 525.2)" fill="#4b3fa6" opacity="0.90"/>
<ellipse cx="587.0" cy="525.4" rx="2.6" ry="1.2" transform="rotate(154 587.0 525.4)" fill="#4b3fa6" opacity="0.66"/>
<ellipse cx="600.2" cy="540.6" rx="2.7" ry="1.3" transform="rotate(146 600.2 540.6)" fill="#4b3fa6" opacity="0.71"/>
<ellipse cx="586.8" cy="539.9" rx="2.8" ry="1.3" transform="rotate(108 586.8 539.9)" fill="#4b3fa6" opacity="0.88"/>
<ellipse cx="601.3" cy="533.0" rx="2.3" ry="1.1" transform="rotate(122 601.3 533.0)" fill="#4b3fa6" opacity="0.93"/>
<ellipse cx="568.9" cy="542.2" rx="2.7" ry="1.3" transform="rotate(134 568.9 542.2)" fill="#4b3fa6" opacity="0.81"/>
<ellipse cx="576.4" cy="523.1" rx="1.6" ry="0.7" transform="rotate(110 576.4 523.1)" fill="#4b3fa6" opacity="0.61"/>
<ellipse cx="580.3" cy="536.4" rx="1.8" ry="0.8" transform="rotate(141 580.3 536.4)" fill="#4b3fa6" opacity="0.93"/>
<ellipse cx="564.1" cy="525.6" rx="2.8" ry="1.3" transform="rotate(31 564.1 525.6)" fill="#4b3fa6" opacity="0.66"/>
<ellipse cx="563.0" cy="515.8" rx="2.3" ry="1.1" transform="rotate(99 563.0 515.8)" fill="#4b3fa6" opacity="0.94"/>
<rect x="612.0" y="504.3" width="60.0" height="43.4" fill="#e9e7f1"/>
<ellipse cx="641.9" cy="523.0" rx="2.1" ry="1.0" transform="rotate(143 641.9 523.0)" fill="#4b3fa6" opacity="0.83"/>
<ellipse cx="636.0" cy="543.5" rx="1.2" ry="0.6" transform="rotate(142 636.0 543.5)" fill="#4b3fa6" opacity="0.78"/>
<ellipse cx="624.5" cy="543.1" rx="1.9" ry="0.9" transform="rotate(13 624.5 543.1)" fill="#4b3fa6" opacity="0.81"/>
<ellipse cx="651.9" cy="526.8" rx="0.9" ry="0.4" transform="rotate(119 651.9 526.8)" fill="#4b3fa6" opacity="0.89"/>
<ellipse cx="665.3" cy="517.9" rx="1.9" ry="0.9" transform="rotate(28 665.3 517.9)" fill="#4b3fa6" opacity="0.73"/>
<ellipse cx="626.9" cy="526.8" rx="1.1" ry="0.5" transform="rotate(84 626.9 526.8)" fill="#4b3fa6" opacity="0.68"/>
<ellipse cx="629.0" cy="540.5" rx="2.3" ry="1.1" transform="rotate(107 629.0 540.5)" fill="#4b3fa6" opacity="0.82"/>
<ellipse cx="648.6" cy="535.8" rx="1.3" ry="0.6" transform="rotate(49 648.6 535.8)" fill="#4b3fa6" opacity="0.65"/>
<ellipse cx="642.4" cy="526.4" rx="2.3" ry="1.1" transform="rotate(145 642.4 526.4)" fill="#4b3fa6" opacity="0.66"/>
<ellipse cx="635.0" cy="533.7" rx="2.0" ry="0.9" transform="rotate(9 635.0 533.7)" fill="#4b3fa6" opacity="0.69"/>
<ellipse cx="614.4" cy="533.3" rx="2.4" ry="1.1" transform="rotate(32 614.4 533.3)" fill="#4b3fa6" opacity="0.75"/>
<ellipse cx="666.7" cy="518.3" rx="1.0" ry="0.5" transform="rotate(105 666.7 518.3)" fill="#4b3fa6" opacity="0.75"/>
<ellipse cx="650.9" cy="540.4" rx="1.5" ry="0.7" transform="rotate(111 650.9 540.4)" fill="#4b3fa6" opacity="0.87"/>
<ellipse cx="624.1" cy="508.5" rx="1.8" ry="0.8" transform="rotate(29 624.1 508.5)" fill="#4b3fa6" opacity="0.83"/>
<ellipse cx="663.7" cy="531.7" rx="1.9" ry="0.9" transform="rotate(122 663.7 531.7)" fill="#4b3fa6" opacity="0.54"/>
<ellipse cx="615.4" cy="508.8" rx="2.0" ry="0.9" transform="rotate(156 615.4 508.8)" fill="#4b3fa6" opacity="0.64"/>
<ellipse cx="625.3" cy="525.4" rx="2.1" ry="1.0" transform="rotate(122 625.3 525.4)" fill="#4b3fa6" opacity="0.55"/>
<ellipse cx="621.4" cy="510.5" rx="2.4" ry="1.1" transform="rotate(179 621.4 510.5)" fill="#4b3fa6" opacity="0.56"/>
<ellipse cx="659.5" cy="544.8" rx="2.3" ry="1.1" transform="rotate(45 659.5 544.8)" fill="#4b3fa6" opacity="0.87"/>
<ellipse cx="624.2" cy="506.3" rx="1.0" ry="0.5" transform="rotate(8 624.2 506.3)" fill="#4b3fa6" opacity="0.89"/>
<ellipse cx="640.7" cy="535.5" rx="1.4" ry="0.7" transform="rotate(101 640.7 535.5)" fill="#4b3fa6" opacity="0.83"/>
<ellipse cx="628.6" cy="543.9" rx="0.9" ry="0.4" transform="rotate(145 628.6 543.9)" fill="#4b3fa6" opacity="0.58"/>
<ellipse cx="646.5" cy="517.3" rx="2.1" ry="1.0" transform="rotate(33 646.5 517.3)" fill="#4b3fa6" opacity="0.68"/>
<ellipse cx="654.2" cy="530.9" rx="1.4" ry="0.7" transform="rotate(34 654.2 530.9)" fill="#4b3fa6" opacity="0.86"/>
<ellipse cx="651.3" cy="506.9" rx="1.4" ry="0.7" transform="rotate(61 651.3 506.9)" fill="#4b3fa6" opacity="0.89"/>
<ellipse cx="619.3" cy="537.6" rx="1.3" ry="0.6" transform="rotate(66 619.3 537.6)" fill="#4b3fa6" opacity="0.61"/>
<ellipse cx="664.6" cy="542.5" rx="1.5" ry="0.7" transform="rotate(48 664.6 542.5)" fill="#4b3fa6" opacity="0.70"/>
<ellipse cx="666.3" cy="510.4" rx="1.2" ry="0.6" transform="rotate(29 666.3 510.4)" fill="#4b3fa6" opacity="0.85"/>
<ellipse cx="622.8" cy="526.0" rx="2.1" ry="1.0" transform="rotate(167 622.8 526.0)" fill="#4b3fa6" opacity="0.69"/>
<ellipse cx="669.7" cy="544.2" rx="2.3" ry="1.1" transform="rotate(52 669.7 544.2)" fill="#4b3fa6" opacity="0.61"/>
<ellipse cx="654.4" cy="520.5" rx="2.3" ry="1.1" transform="rotate(60 654.4 520.5)" fill="#4b3fa6" opacity="0.82"/>
<ellipse cx="655.0" cy="542.1" rx="2.2" ry="1.0" transform="rotate(122 655.0 542.1)" fill="#4b3fa6" opacity="0.73"/>
<ellipse cx="655.2" cy="525.3" rx="1.9" ry="0.9" transform="rotate(166 655.2 525.3)" fill="#4b3fa6" opacity="0.71"/>
<ellipse cx="655.8" cy="521.7" rx="2.2" ry="1.0" transform="rotate(119 655.8 521.7)" fill="#4b3fa6" opacity="0.59"/>
<ellipse cx="637.4" cy="528.0" rx="1.4" ry="0.7" transform="rotate(131 637.4 528.0)" fill="#4b3fa6" opacity="0.72"/>
<ellipse cx="668.4" cy="532.7" rx="1.1" ry="0.5" transform="rotate(171 668.4 532.7)" fill="#4b3fa6" opacity="0.72"/>
<ellipse cx="644.2" cy="538.2" rx="1.5" ry="0.7" transform="rotate(70 644.2 538.2)" fill="#4b3fa6" opacity="0.89"/>
<ellipse cx="630.5" cy="542.1" rx="1.7" ry="0.8" transform="rotate(81 630.5 542.1)" fill="#4b3fa6" opacity="0.58"/>
<rect x="674.0" y="504.3" width="60.0" height="43.4" fill="#e9e7f1"/>
<ellipse cx="722.0" cy="510.1" rx="1.9" ry="0.9" transform="rotate(73 722.0 510.1)" fill="#4b3fa6" opacity="0.74"/>
<ellipse cx="698.9" cy="522.1" rx="1.9" ry="0.9" transform="rotate(151 698.9 522.1)" fill="#4b3fa6" opacity="0.60"/>
<ellipse cx="719.0" cy="530.6" rx="1.6" ry="0.8" transform="rotate(125 719.0 530.6)" fill="#4b3fa6" opacity="0.81"/>
<ellipse cx="714.7" cy="525.2" rx="2.1" ry="1.0" transform="rotate(139 714.7 525.2)" fill="#4b3fa6" opacity="0.71"/>
<ellipse cx="684.5" cy="517.7" rx="1.3" ry="0.6" transform="rotate(67 684.5 517.7)" fill="#4b3fa6" opacity="0.87"/>
<ellipse cx="682.6" cy="535.5" rx="1.7" ry="0.8" transform="rotate(51 682.6 535.5)" fill="#4b3fa6" opacity="0.79"/>
<ellipse cx="696.5" cy="515.1" rx="1.9" ry="0.9" transform="rotate(120 696.5 515.1)" fill="#4b3fa6" opacity="0.82"/>
<ellipse cx="699.7" cy="528.4" rx="2.1" ry="1.0" transform="rotate(148 699.7 528.4)" fill="#4b3fa6" opacity="0.62"/>
<ellipse cx="701.5" cy="514.2" rx="1.0" ry="0.5" transform="rotate(24 701.5 514.2)" fill="#4b3fa6" opacity="0.80"/>
<ellipse cx="697.6" cy="519.0" rx="2.2" ry="1.0" transform="rotate(152 697.6 519.0)" fill="#4b3fa6" opacity="0.88"/>
<ellipse cx="686.4" cy="510.1" rx="1.0" ry="0.5" transform="rotate(73 686.4 510.1)" fill="#4b3fa6" opacity="0.83"/>
<ellipse cx="723.7" cy="531.2" rx="2.2" ry="1.0" transform="rotate(108 723.7 531.2)" fill="#4b3fa6" opacity="0.59"/>
<ellipse cx="679.2" cy="511.2" rx="1.1" ry="0.5" transform="rotate(117 679.2 511.2)" fill="#4b3fa6" opacity="0.74"/>
<ellipse cx="708.9" cy="524.0" rx="2.0" ry="0.9" transform="rotate(107 708.9 524.0)" fill="#4b3fa6" opacity="0.79"/>
<ellipse cx="697.4" cy="527.2" rx="0.9" ry="0.4" transform="rotate(168 697.4 527.2)" fill="#4b3fa6" opacity="0.69"/>
<ellipse cx="686.1" cy="535.2" rx="1.1" ry="0.5" transform="rotate(44 686.1 535.2)" fill="#4b3fa6" opacity="0.61"/>
<ellipse cx="677.7" cy="521.8" rx="1.5" ry="0.7" transform="rotate(83 677.7 521.8)" fill="#4b3fa6" opacity="0.78"/>
<ellipse cx="723.2" cy="518.3" rx="1.1" ry="0.5" transform="rotate(162 723.2 518.3)" fill="#4b3fa6" opacity="0.73"/>
<ellipse cx="723.2" cy="527.4" rx="2.2" ry="1.0" transform="rotate(10 723.2 527.4)" fill="#4b3fa6" opacity="0.60"/>
<ellipse cx="723.6" cy="507.4" rx="1.7" ry="0.8" transform="rotate(82 723.6 507.4)" fill="#4b3fa6" opacity="0.82"/>
<ellipse cx="711.3" cy="529.3" rx="1.9" ry="0.9" transform="rotate(1 711.3 529.3)" fill="#4b3fa6" opacity="0.72"/>
<ellipse cx="695.7" cy="529.2" rx="1.2" ry="0.5" transform="rotate(41 695.7 529.2)" fill="#4b3fa6" opacity="0.64"/>
<ellipse cx="730.7" cy="527.6" rx="1.2" ry="0.5" transform="rotate(141 730.7 527.6)" fill="#4b3fa6" opacity="0.88"/>
<ellipse cx="698.9" cy="516.0" rx="1.2" ry="0.5" transform="rotate(44 698.9 516.0)" fill="#4b3fa6" opacity="0.79"/>
<ellipse cx="698.2" cy="545.0" rx="1.9" ry="0.9" transform="rotate(41 698.2 545.0)" fill="#4b3fa6" opacity="0.76"/>
<ellipse cx="696.2" cy="512.2" rx="1.5" ry="0.7" transform="rotate(110 696.2 512.2)" fill="#4b3fa6" opacity="0.90"/>
<ellipse cx="704.5" cy="537.2" rx="2.4" ry="1.1" transform="rotate(84 704.5 537.2)" fill="#4b3fa6" opacity="0.66"/>
<ellipse cx="715.0" cy="537.4" rx="1.0" ry="0.5" transform="rotate(113 715.0 537.4)" fill="#4b3fa6" opacity="0.62"/>
<ellipse cx="701.5" cy="534.5" rx="1.4" ry="0.6" transform="rotate(138 701.5 534.5)" fill="#4b3fa6" opacity="0.74"/>
<ellipse cx="701.6" cy="525.6" rx="2.2" ry="1.0" transform="rotate(42 701.6 525.6)" fill="#4b3fa6" opacity="0.58"/>
<ellipse cx="693.1" cy="525.4" rx="1.8" ry="0.9" transform="rotate(56 693.1 525.4)" fill="#4b3fa6" opacity="0.77"/>
<ellipse cx="726.0" cy="534.3" rx="1.6" ry="0.8" transform="rotate(50 726.0 534.3)" fill="#4b3fa6" opacity="0.70"/>
<ellipse cx="727.0" cy="521.3" rx="1.6" ry="0.8" transform="rotate(117 727.0 521.3)" fill="#4b3fa6" opacity="0.64"/>
<ellipse cx="697.0" cy="525.3" rx="2.1" ry="1.0" transform="rotate(111 697.0 525.3)" fill="#4b3fa6" opacity="0.65"/>
<ellipse cx="730.5" cy="536.0" rx="1.7" ry="0.8" transform="rotate(54 730.5 536.0)" fill="#4b3fa6" opacity="0.65"/>
<ellipse cx="694.4" cy="512.8" rx="1.6" ry="0.7" transform="rotate(106 694.4 512.8)" fill="#4b3fa6" opacity="0.74"/>
<rect x="736.0" y="504.3" width="60.7" height="43.4" fill="#e6e6ea"/>
<ellipse cx="752.2" cy="519.6" rx="1.6" ry="0.7" transform="rotate(162 752.2 519.6)" fill="#4b3fa6" opacity="0.80"/>
<ellipse cx="779.5" cy="524.9" rx="1.8" ry="0.8" transform="rotate(158 779.5 524.9)" fill="#4b3fa6" opacity="0.75"/>
<ellipse cx="780.2" cy="541.2" rx="1.2" ry="0.5" transform="rotate(125 780.2 541.2)" fill="#4b3fa6" opacity="0.79"/>
<ellipse cx="775.0" cy="540.6" rx="1.7" ry="0.8" transform="rotate(27 775.0 540.6)" fill="#4b3fa6" opacity="0.53"/>
<ellipse cx="780.9" cy="544.1" rx="1.4" ry="0.6" transform="rotate(143 780.9 544.1)" fill="#4b3fa6" opacity="0.72"/>
<ellipse cx="764.3" cy="538.0" rx="1.5" ry="0.7" transform="rotate(174 764.3 538.0)" fill="#4b3fa6" opacity="0.72"/>
<ellipse cx="738.2" cy="532.7" rx="1.6" ry="0.7" transform="rotate(131 738.2 532.7)" fill="#4b3fa6" opacity="0.57"/>
<ellipse cx="757.9" cy="520.5" rx="1.7" ry="0.8" transform="rotate(119 757.9 520.5)" fill="#4b3fa6" opacity="0.79"/>
<ellipse cx="744.7" cy="526.2" rx="1.6" ry="0.8" transform="rotate(75 744.7 526.2)" fill="#4b3fa6" opacity="0.78"/>
<ellipse cx="769.6" cy="527.5" rx="1.5" ry="0.7" transform="rotate(87 769.6 527.5)" fill="#4b3fa6" opacity="0.72"/>
</g>
<circle cx="649.8" cy="531.1" r="0.4" fill="#5a50a8" opacity="0.65"/>
<circle cx="632.8" cy="520.6" r="0.5" fill="#5a50a8" opacity="0.52"/>
<circle cx="667.0" cy="524.4" r="0.4" fill="#5a50a8" opacity="0.43"/>
<circle cx="656.4" cy="514.7" r="0.4" fill="#5a50a8" opacity="0.61"/>
<circle cx="640.1" cy="543.8" r="0.4" fill="#5a50a8" opacity="0.52"/>
<circle cx="619.8" cy="507.4" r="0.3" fill="#5a50a8" opacity="0.58"/>
<circle cx="620.5" cy="526.0" r="0.3" fill="#5a50a8" opacity="0.64"/>
<circle cx="616.0" cy="536.9" r="0.6" fill="#5a50a8" opacity="0.69"/>
<circle cx="640.1" cy="538.2" r="0.4" fill="#5a50a8" opacity="0.69"/>
<circle cx="668.7" cy="534.6" r="0.6" fill="#5a50a8" opacity="0.59"/>
<circle cx="668.4" cy="521.5" r="0.3" fill="#5a50a8" opacity="0.48"/>
<circle cx="662.5" cy="539.5" r="0.4" fill="#5a50a8" opacity="0.62"/>
<circle cx="664.4" cy="520.1" r="0.4" fill="#5a50a8" opacity="0.70"/>
<circle cx="634.7" cy="542.7" r="0.4" fill="#5a50a8" opacity="0.69"/>
<circle cx="616.1" cy="520.2" r="0.4" fill="#5a50a8" opacity="0.44"/>
<circle cx="659.5" cy="543.3" r="0.4" fill="#5a50a8" opacity="0.61"/>
<circle cx="628.8" cy="518.4" r="0.5" fill="#5a50a8" opacity="0.56"/>
<circle cx="619.7" cy="545.3" r="0.6" fill="#5a50a8" opacity="0.59"/>
<circle cx="665.7" cy="519.5" r="0.4" fill="#5a50a8" opacity="0.60"/>
<circle cx="618.2" cy="508.1" r="0.5" fill="#5a50a8" opacity="0.47"/>
<circle cx="656.1" cy="531.3" r="0.4" fill="#5a50a8" opacity="0.56"/>
<circle cx="652.7" cy="511.4" r="0.5" fill="#5a50a8" opacity="0.65"/>
<circle cx="625.5" cy="511.5" r="0.5" fill="#5a50a8" opacity="0.60"/>
<circle cx="658.6" cy="545.7" r="0.5" fill="#5a50a8" opacity="0.68"/>
<circle cx="625.6" cy="522.1" r="0.6" fill="#5a50a8" opacity="0.62"/>
<circle cx="650.0" cy="521.9" r="0.4" fill="#5a50a8" opacity="0.66"/>
<circle cx="616.7" cy="541.7" r="0.6" fill="#5a50a8" opacity="0.68"/>
<circle cx="616.0" cy="527.6" r="0.5" fill="#5a50a8" opacity="0.53"/>
<circle cx="667.3" cy="532.7" r="0.6" fill="#5a50a8" opacity="0.43"/>
<circle cx="667.2" cy="513.3" r="0.4" fill="#5a50a8" opacity="0.53"/>
<circle cx="656.5" cy="510.0" r="0.4" fill="#5a50a8" opacity="0.66"/>
<circle cx="646.6" cy="519.0" r="0.5" fill="#5a50a8" opacity="0.46"/>
<circle cx="618.7" cy="524.0" r="0.4" fill="#5a50a8" opacity="0.58"/>
<circle cx="620.4" cy="513.1" r="0.5" fill="#5a50a8" opacity="0.64"/>
<circle cx="621.7" cy="539.0" r="0.5" fill="#5a50a8" opacity="0.61"/>
<circle cx="645.0" cy="510.7" r="0.4" fill="#5a50a8" opacity="0.43"/>
<circle cx="662.3" cy="540.0" r="0.3" fill="#5a50a8" opacity="0.66"/>
<circle cx="627.0" cy="544.3" r="0.5" fill="#5a50a8" opacity="0.52"/>
<circle cx="642.0" cy="531.4" r="0.4" fill="#5a50a8" opacity="0.58"/>
<circle cx="659.2" cy="509.1" r="0.4" fill="#5a50a8" opacity="0.68"/>
<circle cx="704.3" cy="512.9" r="0.4" fill="#5a50a8" opacity="0.65"/>
<circle cx="715.1" cy="513.0" r="0.6" fill="#5a50a8" opacity="0.66"/>
<circle cx="678.3" cy="531.7" r="0.4" fill="#5a50a8" opacity="0.44"/>
<circle cx="693.9" cy="531.7" r="0.3" fill="#5a50a8" opacity="0.51"/>
<circle cx="714.5" cy="515.5" r="0.6" fill="#5a50a8" opacity="0.58"/>
<circle cx="711.3" cy="507.8" r="0.3" fill="#5a50a8" opacity="0.59"/>
<circle cx="685.7" cy="527.0" r="0.6" fill="#5a50a8" opacity="0.59"/>
<circle cx="700.8" cy="510.3" r="0.3" fill="#5a50a8" opacity="0.49"/>
<circle cx="729.5" cy="536.0" r="0.4" fill="#5a50a8" opacity="0.43"/>
<circle cx="730.4" cy="544.4" r="0.5" fill="#5a50a8" opacity="0.50"/>
<circle cx="706.0" cy="541.6" r="0.4" fill="#5a50a8" opacity="0.64"/>
<circle cx="703.8" cy="527.9" r="0.6" fill="#5a50a8" opacity="0.42"/>
<circle cx="692.8" cy="510.2" r="0.4" fill="#5a50a8" opacity="0.66"/>
<circle cx="677.8" cy="543.9" r="0.4" fill="#5a50a8" opacity="0.59"/>
<circle cx="703.6" cy="510.6" r="0.4" fill="#5a50a8" opacity="0.48"/>
<circle cx="694.5" cy="506.6" r="0.5" fill="#5a50a8" opacity="0.49"/>
<circle cx="714.2" cy="527.9" r="0.6" fill="#5a50a8" opacity="0.69"/>
<circle cx="693.9" cy="531.3" r="0.5" fill="#5a50a8" opacity="0.50"/>
<circle cx="709.5" cy="535.3" r="0.6" fill="#5a50a8" opacity="0.63"/>
<circle cx="703.9" cy="526.0" r="0.4" fill="#5a50a8" opacity="0.60"/>
<circle cx="730.9" cy="507.1" r="0.5" fill="#5a50a8" opacity="0.62"/>
<circle cx="699.8" cy="507.0" r="0.4" fill="#5a50a8" opacity="0.68"/>
<circle cx="718.5" cy="533.0" r="0.6" fill="#5a50a8" opacity="0.67"/>
<circle cx="676.7" cy="523.8" r="0.5" fill="#5a50a8" opacity="0.64"/>
<circle cx="702.5" cy="508.9" r="0.5" fill="#5a50a8" opacity="0.61"/>
<circle cx="699.0" cy="507.5" r="0.4" fill="#5a50a8" opacity="0.47"/>
<circle cx="702.9" cy="538.8" r="0.3" fill="#5a50a8" opacity="0.52"/>
<circle cx="687.7" cy="511.3" r="0.4" fill="#5a50a8" opacity="0.57"/>
<circle cx="719.5" cy="543.5" r="0.6" fill="#5a50a8" opacity="0.69"/>
<circle cx="705.6" cy="536.9" r="0.4" fill="#5a50a8" opacity="0.60"/>
<circle cx="723.4" cy="517.7" r="0.4" fill="#5a50a8" opacity="0.49"/>
<circle cx="710.3" cy="532.6" r="0.4" fill="#5a50a8" opacity="0.48"/>
<circle cx="703.6" cy="512.3" r="0.5" fill="#5a50a8" opacity="0.66"/>
<circle cx="682.1" cy="521.1" r="0.6" fill="#5a50a8" opacity="0.49"/>
<circle cx="723.4" cy="541.7" r="0.5" fill="#5a50a8" opacity="0.62"/>
<circle cx="698.7" cy="516.2" r="0.4" fill="#5a50a8" opacity="0.44"/>
<circle cx="682.8" cy="531.5" r="0.4" fill="#5a50a8" opacity="0.49"/>
<circle cx="729.3" cy="533.5" r="0.4" fill="#5a50a8" opacity="0.57"/>
<circle cx="677.4" cy="543.0" r="0.4" fill="#5a50a8" opacity="0.50"/>
<circle cx="685.8" cy="536.1" r="0.5" fill="#5a50a8" opacity="0.57"/>
<circle cx="701.7" cy="544.6" r="0.6" fill="#5a50a8" opacity="0.54"/>
<circle cx="680.4" cy="545.1" r="0.4" fill="#5a50a8" opacity="0.65"/>
<circle cx="676.2" cy="537.5" r="0.4" fill="#5a50a8" opacity="0.67"/>
<circle cx="688.8" cy="529.7" r="0.6" fill="#5a50a8" opacity="0.52"/>
<circle cx="679.7" cy="540.8" r="0.5" fill="#5a50a8" opacity="0.42"/>
<circle cx="747.6" cy="520.2" r="0.4" fill="#5a50a8" opacity="0.51"/>
<circle cx="788.1" cy="507.0" r="0.5" fill="#5a50a8" opacity="0.62"/>
<circle cx="739.6" cy="507.7" r="0.5" fill="#5a50a8" opacity="0.67"/>
<circle cx="761.5" cy="535.0" r="0.5" fill="#5a50a8" opacity="0.70"/>
<circle cx="774.0" cy="521.0" r="0.5" fill="#5a50a8" opacity="0.59"/>
<circle cx="764.5" cy="539.2" r="0.4" fill="#5a50a8" opacity="0.60"/>
<circle cx="777.9" cy="540.9" r="0.3" fill="#5a50a8" opacity="0.65"/>
<circle cx="789.1" cy="509.2" r="0.4" fill="#5a50a8" opacity="0.57"/>
<circle cx="762.1" cy="541.4" r="0.3" fill="#5a50a8" opacity="0.42"/>
<circle cx="785.8" cy="533.7" r="0.4" fill="#5a50a8" opacity="0.50"/>
<circle cx="768.0" cy="541.7" r="0.5" fill="#5a50a8" opacity="0.56"/>
<circle cx="746.0" cy="519.7" r="0.4" fill="#5a50a8" opacity="0.63"/>
<circle cx="787.6" cy="535.2" r="0.5" fill="#5a50a8" opacity="0.66"/>
<circle cx="769.2" cy="513.0" r="0.6" fill="#5a50a8" opacity="0.55"/>
<circle cx="787.0" cy="530.5" r="0.5" fill="#5a50a8" opacity="0.56"/>
<circle cx="750.1" cy="536.7" r="0.3" fill="#5a50a8" opacity="0.58"/>
<circle cx="747.6" cy="512.9" r="0.5" fill="#5a50a8" opacity="0.70"/>
<circle cx="775.2" cy="522.8" r="0.4" fill="#5a50a8" opacity="0.64"/>
<circle cx="778.4" cy="534.3" r="0.6" fill="#5a50a8" opacity="0.49"/>
<circle cx="791.7" cy="521.8" r="0.5" fill="#5a50a8" opacity="0.43"/>
<circle cx="772.0" cy="540.5" r="0.4" fill="#5a50a8" opacity="0.44"/>
<circle cx="767.5" cy="536.7" r="0.4" fill="#5a50a8" opacity="0.49"/>
<circle cx="746.0" cy="527.8" r="0.5" fill="#5a50a8" opacity="0.53"/>
<circle cx="788.1" cy="526.9" r="0.6" fill="#5a50a8" opacity="0.61"/>
<circle cx="746.9" cy="537.8" r="0.3" fill="#5a50a8" opacity="0.66"/>
<circle cx="769.8" cy="511.4" r="0.4" fill="#5a50a8" opacity="0.52"/>
<circle cx="760.5" cy="515.8" r="0.3" fill="#5a50a8" opacity="0.50"/>
<circle cx="785.2" cy="525.2" r="0.4" fill="#5a50a8" opacity="0.47"/>
<circle cx="792.8" cy="507.0" r="0.3" fill="#5a50a8" opacity="0.42"/>
<circle cx="776.4" cy="511.2" r="0.3" fill="#5a50a8" opacity="0.68"/>
<circle cx="745.4" cy="522.1" r="0.4" fill="#5a50a8" opacity="0.68"/>
<circle cx="774.4" cy="516.8" r="0.3" fill="#5a50a8" opacity="0.46"/>
<circle cx="773.6" cy="519.7" r="0.5" fill="#5a50a8" opacity="0.55"/>
<circle cx="763.8" cy="524.4" r="0.4" fill="#5a50a8" opacity="0.52"/>
<circle cx="746.1" cy="517.8" r="0.5" fill="#5a50a8" opacity="0.47"/>
<circle cx="749.1" cy="531.6" r="0.5" fill="#5a50a8" opacity="0.44"/>
<circle cx="777.8" cy="526.9" r="0.6" fill="#5a50a8" opacity="0.42"/>
<circle cx="749.3" cy="539.1" r="0.5" fill="#5a50a8" opacity="0.67"/>
<circle cx="756.1" cy="544.7" r="0.4" fill="#5a50a8" opacity="0.67"/>
<circle cx="740.1" cy="527.5" r="0.4" fill="#5a50a8" opacity="0.56"/>
<line x1="777.0" y1="539.5" x2="791.5" y2="539.5" stroke="#333" stroke-width="1"/>
<text x="784.0" y="538.0" font-size="3.2" font-weight="bold" text-anchor="middle" stroke="#2a2a2a" stroke-width="0.2">100 μm</text>
<line x1="839.7" y1="433.1" x2="839.7" y2="553.3" stroke="#444" stroke-width="1"/>
<line x1="835.7" y1="433.6" x2="839.7" y2="433.6" stroke="#444" stroke-width="1"/>
<text x="834.2" y="436.6" font-size="8.4" font-weight="bold" text-anchor="end" stroke="#2a2a2a" stroke-width="0.28">250</text>
<line x1="835.7" y1="457.2" x2="839.7" y2="457.2" stroke="#444" stroke-width="1"/>
<text x="834.2" y="460.2" font-size="8.4" font-weight="bold" text-anchor="end" stroke="#2a2a2a" stroke-width="0.28">200</text>
<line x1="835.7" y1="481.1" x2="839.7" y2="481.1" stroke="#444" stroke-width="1"/>
<text x="834.2" y="484.1" font-size="8.4" font-weight="bold" text-anchor="end" stroke="#2a2a2a" stroke-width="0.28">150</text>
<line x1="835.7" y1="505.0" x2="839.7" y2="505.0" stroke="#444" stroke-width="1"/>
<text x="834.2" y="508.0" font-size="8.4" font-weight="bold" text-anchor="end" stroke="#2a2a2a" stroke-width="0.28">100</text>
<line x1="835.7" y1="528.9" x2="839.7" y2="528.9" stroke="#444" stroke-width="1"/>
<text x="834.2" y="531.9" font-size="8.4" font-weight="bold" text-anchor="end" stroke="#2a2a2a" stroke-width="0.28">50</text>
<line x1="835.7" y1="552.8" x2="839.7" y2="552.8" stroke="#444" stroke-width="1"/>
<text x="834.2" y="555.8" font-size="8.4" font-weight="bold" text-anchor="end" stroke="#2a2a2a" stroke-width="0.28">0</text>
<line x1="839.2" y1="552.8" x2="1020.3" y2="552.8" stroke="#444" stroke-width="1"/>
<line x1="884.7" y1="552.8" x2="884.7" y2="556.3" stroke="#444" stroke-width="1"/>
<line x1="975.3" y1="552.8" x2="975.3" y2="556.3" stroke="#444" stroke-width="1"/>
<text x="815.8" y="493.3" font-size="8.9" font-weight="bold" text-anchor="middle" stroke="#2a2a2a" stroke-width="0.28" transform="rotate(-90 815.8 493.3)">Migration number</text>
<circle cx="855.0" cy="431.7" r="1.3" fill="#4a4ab8"/>
<text x="868.0" y="434.8" font-size="9.0">CON</text>
<circle cx="855.0" cy="441.0" r="1.3" fill="#ea4a35"/>
<text x="868.0" y="444.1" font-size="9.0">MET</text>
<circle cx="907.0" cy="431.7" r="1.3" fill="#55b546"/>
<text x="921.7" y="434.8" font-size="9.0">SYRO</text>
<circle cx="907.0" cy="441.0" r="1.3" fill="#a247ad"/>
<text x="921.7" y="444.1" font-size="9.0">MET+SYRO</text>
<path d="M848.6 552.8V503.6H863.9V552.8" stroke="#4a4ab8" stroke-width="1.0" fill="none"/>
<line x1="856.2" y1="500.1" x2="856.2" y2="507.1" stroke="#4a4ab8" stroke-width="0.9"/>
<line x1="853.2" y1="500.1" x2="859.2" y2="500.1" stroke="#4a4ab8" stroke-width="0.9"/>
<line x1="853.2" y1="507.1" x2="859.2" y2="507.1" stroke="#4a4ab8" stroke-width="0.9"/>
<circle cx="856.2" cy="498.6" r="1.3" fill="#4a4ab8"/>
<circle cx="856.2" cy="503.9" r="1.3" fill="#4a4ab8"/>
<circle cx="856.2" cy="508.1" r="1.3" fill="#4a4ab8"/>
<path d="M867.8 552.8V517.8H883.0V552.8" stroke="#ea4a35" stroke-width="1.0" fill="none"/>
<line x1="875.4" y1="515.3" x2="875.4" y2="520.3" stroke="#ea4a35" stroke-width="0.9"/>
<line x1="872.4" y1="515.3" x2="878.4" y2="515.3" stroke="#ea4a35" stroke-width="0.9"/>
<line x1="872.4" y1="520.3" x2="878.4" y2="520.3" stroke="#ea4a35" stroke-width="0.9"/>
<circle cx="875.4" cy="513.8" r="1.3" fill="#ea4a35"/>
<circle cx="875.4" cy="518.8" r="1.3" fill="#ea4a35"/>
<circle cx="875.4" cy="521.3" r="1.3" fill="#ea4a35"/>
<path d="M887.0 552.8V521.0H902.2V552.8" stroke="#55b546" stroke-width="1.0" fill="none"/>
<line x1="894.6" y1="518.5" x2="894.6" y2="523.5" stroke="#55b546" stroke-width="0.9"/>
<line x1="891.6" y1="518.5" x2="897.6" y2="518.5" stroke="#55b546" stroke-width="0.9"/>
<line x1="891.6" y1="523.5" x2="897.6" y2="523.5" stroke="#55b546" stroke-width="0.9"/>
<circle cx="894.6" cy="517.0" r="1.3" fill="#55b546"/>
<circle cx="894.6" cy="521.6" r="1.3" fill="#55b546"/>
<circle cx="894.6" cy="524.5" r="1.3" fill="#55b546"/>
<path d="M906.4 552.8V547.0H921.0V552.8" stroke="#a247ad" stroke-width="1.0" fill="none"/>
<line x1="913.7" y1="546.0" x2="913.7" y2="548.0" stroke="#a247ad" stroke-width="0.9"/>
<line x1="910.7" y1="546.0" x2="916.7" y2="546.0" stroke="#a247ad" stroke-width="0.9"/>
<line x1="910.7" y1="548.0" x2="916.7" y2="548.0" stroke="#a247ad" stroke-width="0.9"/>
<circle cx="910.7" cy="547.0" r="1.3" fill="#a247ad"/>
<circle cx="913.7" cy="546.5" r="1.3" fill="#a247ad"/>
<circle cx="916.7" cy="547.0" r="1.3" fill="#a247ad"/>
<path d="M940.0 552.8V465.0H955.3V552.8" stroke="#4a4ab8" stroke-width="1.0" fill="none"/>
<line x1="947.6" y1="462.5" x2="947.6" y2="467.5" stroke="#4a4ab8" stroke-width="0.9"/>
<line x1="944.6" y1="462.5" x2="950.6" y2="462.5" stroke="#4a4ab8" stroke-width="0.9"/>
<line x1="944.6" y1="467.5" x2="950.6" y2="467.5" stroke="#4a4ab8" stroke-width="0.9"/>
<circle cx="947.6" cy="461.0" r="1.3" fill="#4a4ab8"/>
<circle cx="947.6" cy="464.6" r="1.3" fill="#4a4ab8"/>
<circle cx="947.6" cy="468.5" r="1.3" fill="#4a4ab8"/>
<path d="M959.2 552.8V531.7H974.4V552.8" stroke="#ea4a35" stroke-width="1.0" fill="none"/>
<line x1="966.8" y1="525.7" x2="966.8" y2="537.7" stroke="#ea4a35" stroke-width="0.9"/>
<line x1="963.8" y1="525.7" x2="969.8" y2="525.7" stroke="#ea4a35" stroke-width="0.9"/>
<line x1="963.8" y1="537.7" x2="969.8" y2="537.7" stroke="#ea4a35" stroke-width="0.9"/>
<circle cx="966.8" cy="524.2" r="1.3" fill="#ea4a35"/>
<circle cx="966.8" cy="531.5" r="1.3" fill="#ea4a35"/>
<circle cx="966.8" cy="538.7" r="1.3" fill="#ea4a35"/>
<path d="M978.3 552.8V530.3H993.6V552.8" stroke="#55b546" stroke-width="1.0" fill="none"/>
<line x1="986.0" y1="527.8" x2="986.0" y2="532.8" stroke="#55b546" stroke-width="0.9"/>
<line x1="983.0" y1="527.8" x2="989.0" y2="527.8" stroke="#55b546" stroke-width="0.9"/>
<line x1="983.0" y1="532.8" x2="989.0" y2="532.8" stroke="#55b546" stroke-width="0.9"/>
<circle cx="986.0" cy="526.3" r="1.3" fill="#55b546"/>
<circle cx="986.0" cy="530.6" r="1.3" fill="#55b546"/>
<circle cx="986.0" cy="533.8" r="1.3" fill="#55b546"/>
<path d="M997.5 552.8V546.0H1012.8V552.8" stroke="#a247ad" stroke-width="1.0" fill="none"/>
<line x1="1005.1" y1="545.2" x2="1005.1" y2="546.8" stroke="#a247ad" stroke-width="0.9"/>
<line x1="1002.1" y1="545.2" x2="1008.1" y2="545.2" stroke="#a247ad" stroke-width="0.9"/>
<line x1="1002.1" y1="546.8" x2="1008.1" y2="546.8" stroke="#a247ad" stroke-width="0.9"/>
<circle cx="1002.1" cy="546.0" r="1.3" fill="#a247ad"/>
<circle cx="1005.1" cy="545.5" r="1.3" fill="#a247ad"/>
<circle cx="1008.1" cy="546.0" r="1.3" fill="#a247ad"/>
<path d="M855.0 493.0V490.0H913.9V493.0" stroke="#444" stroke-width="1.1" fill="none"/>
<text x="884.9" y="489.8" font-size="8.64" font-weight="bold" text-anchor="middle" letter-spacing="0.72">****</text>
<path d="M874.4 505.5V502.5H913.9V505.5" stroke="#444" stroke-width="1.1" fill="none"/>
<text x="894.5" y="502.3" font-size="8.64" font-weight="bold" text-anchor="middle" letter-spacing="0.72">****</text>
<path d="M893.9 513.8V510.8H913.9V513.8" stroke="#444" stroke-width="1.1" fill="none"/>
<text x="904.3" y="510.6" font-size="8.64" font-weight="bold" text-anchor="middle" letter-spacing="0.72">****</text>
<path d="M947.5 456.9V453.9H1005.0V456.9" stroke="#444" stroke-width="1.1" fill="none"/>
<text x="976.6" y="453.7" font-size="8.64" font-weight="bold" text-anchor="middle" letter-spacing="0.72">****</text>
<path d="M966.7 512.4V509.4H1005.0V512.4" stroke="#444" stroke-width="1.1" fill="none"/>
<text x="986.2" y="509.2" font-size="8.64" font-weight="bold" text-anchor="middle" letter-spacing="0.72">*</text>
<path d="M985.6 522.2V519.2H1005.0V522.2" stroke="#444" stroke-width="1.1" fill="none"/>
<text x="995.7" y="519.0" font-size="8.64" font-weight="bold" text-anchor="middle" letter-spacing="0.72">**</text>
<text x="884.7" y="565.8" font-size="8.4" font-weight="bold" text-anchor="middle" stroke="#2a2a2a" stroke-width="0.28">PAMC82</text>
<text x="975.3" y="565.8" font-size="8.4" font-weight="bold" text-anchor="middle" stroke="#2a2a2a" stroke-width="0.28">SNU16</text>
<text x="36.0" y="597.0" font-size="26" font-weight="bold" fill="#111">h</text>
<text x="136.0" y="591.5" font-size="11" font-weight="bold" text-anchor="middle">PAMC82</text>
<line x1="94.3" y1="594.5" x2="177.7" y2="594.5" stroke="#888" stroke-width="0.7"/>
<text x="242.7" y="591.5" font-size="11" font-weight="bold" text-anchor="middle">SNU16</text>
<line x1="196.7" y1="594.5" x2="280.0" y2="594.5" stroke="#888" stroke-width="0.7"/>
<text x="49.3" y="606.8" font-size="11.5" font-weight="bold">MET</text>
<text x="49.3" y="616.6" font-size="11.5" font-weight="bold">Syro</text>
<text x="95.7" y="606.6" font-size="10" font-weight="bold" text-anchor="middle">-</text>
<text x="122.3" y="606.6" font-size="10" font-weight="bold" text-anchor="middle">+</text>
<text x="148.3" y="606.6" font-size="10" font-weight="bold" text-anchor="middle">-</text>
<text x="171.0" y="606.6" font-size="10" font-weight="bold" text-anchor="middle">+</text>
<text x="202.3" y="606.6" font-size="10" font-weight="bold" text-anchor="middle">-</text>
<text x="226.7" y="606.6" font-size="10" font-weight="bold" text-anchor="middle">+</text>
<text x="252.3" y="606.6" font-size="10" font-weight="bold" text-anchor="middle">-</text>
<text x="275.0" y="606.6" font-size="10" font-weight="bold" text-anchor="middle">+</text>
<text x="95.7" y="616.0" font-size="10" font-weight="bold" text-anchor="middle">-</text>
<text x="122.3" y="616.0" font-size="10" font-weight="bold" text-anchor="middle">-</text>
<text x="148.3" y="616.0" font-size="10" font-weight="bold" text-anchor="middle">+</text>
<text x="171.0" y="616.0" font-size="10" font-weight="bold" text-anchor="middle">+</text>
<text x="202.3" y="616.0" font-size="10" font-weight="bold" text-anchor="middle">-</text>
<text x="226.7" y="616.0" font-size="10" font-weight="bold" text-anchor="middle">-</text>
<text x="252.3" y="616.0" font-size="10" font-weight="bold" text-anchor="middle">+</text>
<text x="275.0" y="616.0" font-size="10" font-weight="bold" text-anchor="middle">+</text>
<rect x="81.0" y="618.3" width="104.7" height="18.4" fill="#ebebeb" stroke="#404040" stroke-width="1.1"/>
<rect x="86.0" y="625.2" width="20.0" height="4.5" rx="2.3" fill="#111" opacity="1.00" filter="url(#bl)"/>
<rect x="110.0" y="625.3" width="20.0" height="4.4" rx="2.2" fill="#111" opacity="0.95" filter="url(#bl)"/>
<rect x="136.7" y="625.6" width="20.0" height="3.9" rx="1.9" fill="#111" opacity="0.63" filter="url(#bl)"/>
<rect x="161.7" y="626.0" width="20.0" height="3.0" rx="1.5" fill="#111" opacity="0.16" filter="url(#bl)"/>
<rect x="188.3" y="618.3" width="104.4" height="18.4" fill="#e9e9e9" stroke="#404040" stroke-width="1.1"/>
<rect x="191.5" y="625.7" width="22.0" height="3.7" rx="1.8" fill="#111" opacity="0.89" filter="url(#bl)"/>
<rect x="216.3" y="625.8" width="22.0" height="3.4" rx="1.7" fill="#111" opacity="0.73" filter="url(#bl)"/>
<rect x="241.2" y="626.2" width="22.0" height="2.6" rx="1.3" fill="#111" opacity="0.16" filter="url(#bl)"/>
<rect x="265.6" y="626.2" width="22.0" height="2.6" rx="1.3" fill="#111" opacity="0.21" filter="url(#bl)"/>
<text x="78.3" y="630.7" font-size="9.0" font-weight="bold" text-anchor="end" fill="#333" stroke="#333" stroke-width="0.28">N-cad</text>
<text x="296.0" y="630.8" font-size="8.8" font-weight="bold" fill="#222" stroke="#222" stroke-width="0.28">140 kDa</text>
<rect x="81.0" y="641.7" width="104.7" height="18.3" fill="#eeeeee" stroke="#404040" stroke-width="1.1"/>
<rect x="86.0" y="649.2" width="20.0" height="3.3" rx="1.7" fill="#111" opacity="0.21" filter="url(#bl)"/>
<rect x="110.0" y="648.9" width="20.0" height="3.9" rx="2.0" fill="#111" opacity="0.53" filter="url(#bl)"/>
<rect x="136.7" y="648.8" width="20.0" height="4.0" rx="2.0" fill="#111" opacity="0.58" filter="url(#bl)"/>
<rect x="161.7" y="648.6" width="20.0" height="4.4" rx="2.2" fill="#111" opacity="0.79" filter="url(#bl)"/>
<rect x="188.3" y="641.7" width="104.4" height="18.3" fill="#efefef" stroke="#404040" stroke-width="1.1"/>
<rect x="191.5" y="649.3" width="22.0" height="3.2" rx="1.6" fill="#111" opacity="0.42" filter="url(#bl)"/>
<rect x="216.3" y="648.8" width="22.0" height="4.1" rx="2.1" fill="#111" opacity="1.00" filter="url(#bl)"/>
<rect x="241.2" y="648.8" width="22.0" height="4.1" rx="2.1" fill="#111" opacity="1.00" filter="url(#bl)"/>
<rect x="265.6" y="648.7" width="22.0" height="4.2" rx="2.1" fill="#111" opacity="1.00" filter="url(#bl)"/>
<text x="78.3" y="654.1" font-size="9.0" font-weight="bold" text-anchor="end" fill="#333" stroke="#333" stroke-width="0.28">E-cad</text>
<text x="296.0" y="654.1" font-size="8.8" font-weight="bold" fill="#222" stroke="#222" stroke-width="0.28">135 kDa</text>
<rect x="81.0" y="665.0" width="104.7" height="19.0" fill="#e8e8e8" stroke="#404040" stroke-width="1.1"/>
<rect x="86.0" y="671.0" width="20.0" height="7.1" rx="3.5" fill="#111" opacity="0.84" filter="url(#bl)"/>
<rect x="110.0" y="671.1" width="20.0" height="6.8" rx="3.4" fill="#111" opacity="0.73" filter="url(#bl)"/>
<rect x="136.7" y="671.7" width="20.0" height="5.7" rx="2.8" fill="#111" opacity="0.37" filter="url(#bl)"/>
<rect x="161.7" y="672.0" width="20.0" height="5.0" rx="2.5" fill="#111" opacity="0.16" filter="url(#bl)"/>
<rect x="188.3" y="665.0" width="104.4" height="19.0" fill="#e6e6e6" stroke="#404040" stroke-width="1.1"/>
<rect x="191.5" y="671.2" width="22.0" height="6.5" rx="3.3" fill="#111" opacity="1.00" filter="url(#bl)"/>
<rect x="216.3" y="671.4" width="22.0" height="6.3" rx="3.1" fill="#111" opacity="0.95" filter="url(#bl)"/>
<rect x="241.2" y="671.4" width="22.0" height="6.1" rx="3.1" fill="#111" opacity="0.89" filter="url(#bl)"/>
<rect x="265.6" y="672.4" width="22.0" height="4.3" rx="2.1" fill="#111" opacity="0.16" filter="url(#bl)"/>
<text x="78.3" y="677.7" font-size="9.0" font-weight="bold" text-anchor="end" fill="#333" stroke="#333" stroke-width="0.28">Vimentin</text>
<text x="296.0" y="677.8" font-size="8.8" font-weight="bold" fill="#222" stroke="#222" stroke-width="0.28">57 kDa</text>
<rect x="81.0" y="688.0" width="104.7" height="19.3" fill="#e2e2e2" stroke="#404040" stroke-width="1.1"/>
<rect x="86.0" y="693.2" width="20.0" height="8.8" rx="4.4" fill="#111" opacity="1.00" filter="url(#bl)"/>
<rect x="110.0" y="694.0" width="20.0" height="7.4" rx="3.7" fill="#111" opacity="0.63" filter="url(#bl)"/>
<rect x="136.7" y="694.4" width="20.0" height="6.5" rx="3.2" fill="#111" opacity="0.37" filter="url(#bl)"/>
<rect x="161.7" y="694.5" width="20.0" height="6.3" rx="3.1" fill="#111" opacity="0.32" filter="url(#bl)"/>
<rect x="188.3" y="688.0" width="104.4" height="19.3" fill="#d6d6d6" stroke="#404040" stroke-width="1.1"/>
<rect x="191.5" y="694.6" width="22.0" height="6.1" rx="3.1" fill="#111" opacity="0.58" filter="url(#bl)"/>
<rect x="216.3" y="694.8" width="22.0" height="5.8" rx="2.9" fill="#111" opacity="0.47" filter="url(#bl)"/>
<rect x="241.2" y="694.6" width="22.0" height="6.1" rx="3.1" fill="#111" opacity="0.58" filter="url(#bl)"/>
<rect x="265.6" y="695.4" width="22.0" height="4.6" rx="2.3" fill="#111" opacity="0.05" filter="url(#bl)"/>
<text x="78.3" y="700.9" font-size="9.0" font-weight="bold" text-anchor="end" fill="#333" stroke="#333" stroke-width="0.28">Snail</text>
<text x="296.0" y="700.9" font-size="8.8" font-weight="bold" fill="#222" stroke="#222" stroke-width="0.28">29 kDa</text>
<rect x="81.0" y="711.3" width="104.7" height="19.4" fill="#e8e8e8" stroke="#404040" stroke-width="1.1"/>
<rect x="86.0" y="717.6" width="20.0" height="6.9" rx="3.4" fill="#111" opacity="0.95" filter="url(#bl)"/>
<rect x="110.0" y="717.6" width="20.0" height="6.7" rx="3.4" fill="#111" opacity="0.89" filter="url(#bl)"/>
<rect x="136.7" y="717.5" width="20.0" height="7.0" rx="3.5" fill="#111" opacity="1.00" filter="url(#bl)"/>
<rect x="161.7" y="718.3" width="20.0" height="5.4" rx="2.7" fill="#111" opacity="0.42" filter="url(#bl)"/>
<rect x="188.3" y="711.3" width="104.4" height="19.4" fill="#e2e2e2" stroke="#404040" stroke-width="1.1"/>
<rect x="191.5" y="718.0" width="22.0" height="6.0" rx="3.0" fill="#111" opacity="1.00" filter="url(#bl)"/>
<rect x="216.3" y="718.8" width="22.0" height="4.3" rx="2.2" fill="#111" opacity="0.32" filter="url(#bl)"/>
<rect x="241.2" y="719.1" width="22.0" height="3.8" rx="1.9" fill="#111" opacity="0.11" filter="url(#bl)"/>
<rect x="265.6" y="719.0" width="22.0" height="4.0" rx="2.0" fill="#111" opacity="0.16" filter="url(#bl)"/>
<text x="78.3" y="724.2" font-size="9.0" font-weight="bold" text-anchor="end" fill="#333" stroke="#333" stroke-width="0.28">SOX2</text>
<text x="296.0" y="724.3" font-size="8.8" font-weight="bold" fill="#222" stroke="#222" stroke-width="0.28">34 kDa</text>
<rect x="81.0" y="734.7" width="104.7" height="19.3" fill="#e8e8e8" stroke="#404040" stroke-width="1.1"/>
<rect x="86.0" y="740.5" width="20.0" height="7.7" rx="3.9" fill="#111" opacity="1.00" filter="url(#bl)"/>
<rect x="110.0" y="740.9" width="20.0" height="6.9" rx="3.5" fill="#111" opacity="0.79" filter="url(#bl)"/>
<rect x="136.7" y="741.6" width="20.0" height="5.5" rx="2.7" fill="#111" opacity="0.32" filter="url(#bl)"/>
<rect x="161.7" y="741.8" width="20.0" height="5.2" rx="2.6" fill="#111" opacity="0.21" filter="url(#bl)"/>
<rect x="188.3" y="734.7" width="104.4" height="19.3" fill="#e8e8e8" stroke="#404040" stroke-width="1.1"/>
<rect x="191.5" y="741.3" width="22.0" height="6.1" rx="3.1" fill="#111" opacity="0.89" filter="url(#bl)"/>
<rect x="216.3" y="741.6" width="22.0" height="5.5" rx="2.7" fill="#111" opacity="0.63" filter="url(#bl)"/>
<rect x="241.2" y="741.5" width="22.0" height="5.7" rx="2.9" fill="#111" opacity="0.73" filter="url(#bl)"/>
<rect x="265.6" y="741.8" width="22.0" height="5.1" rx="2.5" fill="#111" opacity="0.47" filter="url(#bl)"/>
<text x="78.3" y="747.6" font-size="9.0" font-weight="bold" text-anchor="end" fill="#333" stroke="#333" stroke-width="0.28">CD44</text>
<text x="296.0" y="747.6" font-size="8.8" font-weight="bold" fill="#222" stroke="#222" stroke-width="0.28">81 kDa</text>
<rect x="81.0" y="758.0" width="104.7" height="19.3" fill="#ececec" stroke="#404040" stroke-width="1.1"/>
<rect x="86.0" y="763.6" width="20.0" height="8.1" rx="4.0" fill="#111" opacity="1.00" filter="url(#bl)"/>
<rect x="110.0" y="764.1" width="20.0" height="7.1" rx="3.5" fill="#111" opacity="0.68" filter="url(#bl)"/>
<rect x="136.7" y="764.7" width="20.0" height="5.9" rx="2.9" fill="#111" opacity="0.32" filter="url(#bl)"/>
<rect x="161.7" y="765.1" width="20.0" height="5.1" rx="2.6" fill="#111" opacity="0.08" filter="url(#bl)"/>
<rect x="188.3" y="758.0" width="104.4" height="19.3" fill="#e6e6e6" stroke="#404040" stroke-width="1.1"/>
<rect x="191.5" y="764.8" width="22.0" height="5.7" rx="2.9" fill="#111" opacity="0.58" filter="url(#bl)"/>
<rect x="216.3" y="765.0" width="22.0" height="5.3" rx="2.6" fill="#111" opacity="0.42" filter="url(#bl)"/>
<rect x="241.2" y="764.8" width="22.0" height="5.7" rx="2.9" fill="#111" opacity="0.58" filter="url(#bl)"/>
<rect x="265.6" y="765.4" width="22.0" height="4.6" rx="2.3" fill="#111" opacity="0.16" filter="url(#bl)"/>
<text x="78.3" y="770.9" font-size="9.0" font-weight="bold" text-anchor="end" fill="#333" stroke="#333" stroke-width="0.28">OCT4</text>
<text x="296.0" y="770.9" font-size="8.8" font-weight="bold" fill="#222" stroke="#222" stroke-width="0.28">45 kDa</text>
<rect x="81.0" y="781.3" width="104.7" height="19.4" fill="#e4e4e4" stroke="#404040" stroke-width="1.1"/>
<rect x="86.0" y="787.7" width="20.0" height="6.6" rx="3.3" fill="#111" opacity="0.84" filter="url(#bl)"/>
<rect x="110.0" y="787.9" width="20.0" height="6.3" rx="3.1" fill="#111" opacity="0.73" filter="url(#bl)"/>
<rect x="136.7" y="788.2" width="20.0" height="5.7" rx="2.8" fill="#111" opacity="0.53" filter="url(#bl)"/>
<rect x="161.7" y="788.2" width="20.0" height="5.5" rx="2.8" fill="#111" opacity="0.47" filter="url(#bl)"/>
<rect x="188.3" y="781.3" width="104.4" height="19.4" fill="#e8e8e8" stroke="#404040" stroke-width="1.1"/>
<rect x="191.5" y="788.2" width="22.0" height="5.6" rx="2.8" fill="#111" opacity="0.84" filter="url(#bl)"/>
<rect x="216.3" y="788.5" width="22.0" height="5.1" rx="2.5" fill="#111" opacity="0.63" filter="url(#bl)"/>
<rect x="241.2" y="788.4" width="22.0" height="5.2" rx="2.6" fill="#111" opacity="0.68" filter="url(#bl)"/>
<rect x="265.6" y="788.8" width="22.0" height="4.3" rx="2.2" fill="#111" opacity="0.32" filter="url(#bl)"/>
<text x="78.3" y="794.2" font-size="9.0" font-weight="bold" text-anchor="end" fill="#333" stroke="#333" stroke-width="0.28">Nanog</text>
<text x="296.0" y="794.3" font-size="8.8" font-weight="bold" fill="#222" stroke="#222" stroke-width="0.28">42 kDa</text>
<rect x="81.0" y="804.7" width="104.7" height="19.3" fill="#ebebeb" stroke="#404040" stroke-width="1.1"/>
<rect x="86.0" y="811.9" width="20.0" height="4.8" rx="2.4" fill="#111" opacity="1.00" filter="url(#bl)"/>
<rect x="110.0" y="812.0" width="20.0" height="4.7" rx="2.4" fill="#111" opacity="0.95" filter="url(#bl)"/>
<rect x="136.7" y="811.9" width="20.0" height="4.8" rx="2.4" fill="#111" opacity="1.00" filter="url(#bl)"/>
<rect x="161.7" y="812.0" width="20.0" height="4.7" rx="2.4" fill="#111" opacity="0.95" filter="url(#bl)"/>
<rect x="188.3" y="804.7" width="104.4" height="19.3" fill="#e6e6e6" stroke="#404040" stroke-width="1.1"/>
<rect x="191.5" y="812.3" width="22.0" height="4.1" rx="2.1" fill="#111" opacity="1.00" filter="url(#bl)"/>
<rect x="216.3" y="812.3" width="22.0" height="4.0" rx="2.0" fill="#111" opacity="0.95" filter="url(#bl)"/>
<rect x="241.2" y="812.3" width="22.0" height="4.1" rx="2.1" fill="#111" opacity="1.00" filter="url(#bl)"/>
<rect x="265.6" y="812.3" width="22.0" height="4.0" rx="2.0" fill="#111" opacity="0.95" filter="url(#bl)"/>
<text x="78.3" y="817.6" font-size="9.0" font-weight="bold" text-anchor="end" fill="#333" stroke="#333" stroke-width="0.28">β-actin</text>
<text x="296.0" y="817.6" font-size="8.8" font-weight="bold" fill="#222" stroke="#222" stroke-width="0.28">42 kDa</text>
<text x="339.5" y="596.0" font-size="26" font-weight="bold" fill="#111">i</text>
<linearGradient id="ph" x1="0" y1="0" x2="1" y2="1"><stop offset="0" stop-color="#8c9db0"/><stop offset="1" stop-color="#72889f"/></linearGradient>
<rect x="402.7" y="602.3" width="93.0" height="102.7" fill="url(#ph)"/>
<rect x="490.0" y="602.3" width="5.7" height="102.7" fill="#68747f"/>
<rect x="402.7" y="698.5" width="87.3" height="4.5" fill="#6a84a2"/>
<text x="401.0" y="618.5" font-size="11.5" font-weight="bold" text-anchor="end" fill="#222">CON</text>
<text x="401.0" y="647.5" font-size="11.5" font-weight="bold" text-anchor="end" fill="#222">MET</text>
<text x="401.0" y="674.2" font-size="11.5" font-weight="bold" text-anchor="end" fill="#222">SYRO</text>
<text x="401.0" y="697.5" font-size="11.5" font-weight="bold" text-anchor="end" fill="#222">MET+SYRO</text>
<g filter="url(#soft)">
<ellipse cx="413.3" cy="611.7" rx="3.2" ry="3.6" fill="#a3483a"/>
<ellipse cx="430.7" cy="611.7" rx="3.3" ry="3.7" fill="#a3483a"/>
<ellipse cx="449.0" cy="611.7" rx="3.3" ry="3.7" fill="#a3483a"/>
<ellipse cx="466.0" cy="611.7" rx="2.7" ry="3.3" fill="#a3483a"/>
<ellipse cx="483.3" cy="611.7" rx="3.5" ry="3.5" fill="#a3483a"/>
<ellipse cx="413.3" cy="638.3" rx="3.4" ry="3.0" fill="#a3483a"/>
<ellipse cx="430.7" cy="638.3" rx="3.1" ry="3.1" fill="#a3483a"/>
<ellipse cx="449.0" cy="638.3" rx="3.1" ry="3.4" fill="#a3483a"/>
<ellipse cx="466.0" cy="638.3" rx="2.7" ry="3.1" fill="#a3483a"/>
<ellipse cx="483.3" cy="638.3" rx="2.9" ry="3.7" fill="#a3483a"/>
<ellipse cx="413.3" cy="663.3" rx="3.3" ry="3.0" fill="#a3483a"/>
<ellipse cx="430.7" cy="663.3" rx="3.3" ry="3.0" fill="#a3483a"/>
<ellipse cx="449.0" cy="663.3" rx="3.2" ry="3.0" fill="#a3483a"/>
<ellipse cx="466.0" cy="663.3" rx="2.7" ry="3.7" fill="#a3483a"/>
<ellipse cx="483.3" cy="663.3" rx="2.9" ry="3.1" fill="#a3483a"/>
<ellipse cx="413.3" cy="689.0" rx="2.3" ry="2.3" fill="#a3483a"/>
<ellipse cx="430.7" cy="689.0" rx="1.2" ry="1.2" fill="#a3483a"/>
<ellipse cx="449.0" cy="689.0" rx="1.2" ry="1.2" fill="#a3483a"/>
<ellipse cx="466.0" cy="689.0" rx="1.2" ry="1.2" fill="#a3483a"/>
<ellipse cx="483.3" cy="689.0" rx="1.2" ry="1.2" fill="#a3483a"/>
</g>
<line x1="521.0" y1="596.8" x2="521.0" y2="690.5" stroke="#444" stroke-width="1"/>
<line x1="518.5" y1="597.3" x2="521.0" y2="597.3" stroke="#444" stroke-width="1"/>
<text x="517.5" y="599.2" font-size="5.4" font-weight="bold" text-anchor="end" stroke="#2a2a2a" stroke-width="0.2">1500</text>
<line x1="518.5" y1="628.3" x2="521.0" y2="628.3" stroke="#444" stroke-width="1"/>
<text x="517.5" y="630.2" font-size="5.4" font-weight="bold" text-anchor="end" stroke="#2a2a2a" stroke-width="0.2">1000</text>
<line x1="518.5" y1="659.3" x2="521.0" y2="659.3" stroke="#444" stroke-width="1"/>
<text x="517.5" y="661.2" font-size="5.4" font-weight="bold" text-anchor="end" stroke="#2a2a2a" stroke-width="0.2">500</text>
<line x1="518.5" y1="690.0" x2="521.0" y2="690.0" stroke="#444" stroke-width="1"/>
<text x="517.5" y="691.9" font-size="5.4" font-weight="bold" text-anchor="end" stroke="#2a2a2a" stroke-width="0.2">0</text>
<line x1="520.5" y1="690.0" x2="660.5" y2="690.0" stroke="#444" stroke-width="1"/>
<line x1="521.0" y1="690.0" x2="521.0" y2="692.5" stroke="#444" stroke-width="1"/>
<text x="521.0" y="698.6" font-size="5.4" font-weight="bold" text-anchor="middle" stroke="#2a2a2a" stroke-width="0.2">0</text>
<line x1="567.3" y1="690.0" x2="567.3" y2="692.5" stroke="#444" stroke-width="1"/>
<text x="567.3" y="698.6" font-size="5.4" font-weight="bold" text-anchor="middle" stroke="#2a2a2a" stroke-width="0.2">10</text>
<line x1="613.3" y1="690.0" x2="613.3" y2="692.5" stroke="#444" stroke-width="1"/>
<text x="613.3" y="698.6" font-size="5.4" font-weight="bold" text-anchor="middle" stroke="#2a2a2a" stroke-width="0.2">20</text>
<line x1="660.0" y1="690.0" x2="660.0" y2="692.5" stroke="#444" stroke-width="1"/>
<text x="660.0" y="698.6" font-size="5.4" font-weight="bold" text-anchor="middle" stroke="#2a2a2a" stroke-width="0.2">30</text>
<text x="590.0" y="705.0" font-size="6" font-weight="bold" text-anchor="middle" stroke="#2a2a2a" stroke-width="0.2">Days</text>
<text x="503.0" y="644.0" font-size="5.1" font-weight="bold" text-anchor="middle" stroke="#2a2a2a" stroke-width="0.2" transform="rotate(-90 503.0 644.0)">Tumor size (mm³)</text>
<path d="M521.0 690.0L530.3 690.0L539.5 690.0L548.8 689.9L558.1 689.9L567.3 689.8L576.6 689.7L585.9 689.5L595.1 689.3L604.4 688.9L613.7 688.5L622.9 688.1L632.2 687.8" stroke="#a247ad" stroke-width="0.8" fill="none"/>
<path d="M521.0 690.9L521.9 689.3H520.1Z" fill="#a247ad"/>
<path d="M530.3 690.9L531.2 689.3H529.4Z" fill="#a247ad"/>
<path d="M539.5 690.9L540.4 689.3H538.6Z" fill="#a247ad"/>
<path d="M548.8 690.8L549.7 689.2H547.9Z" fill="#a247ad"/>
<path d="M558.1 690.8L559.0 689.2H557.2Z" fill="#a247ad"/>
<path d="M567.3 690.7L568.2 689.1H566.4Z" fill="#a247ad"/>
<path d="M576.6 690.6L577.5 689.0H575.7Z" fill="#a247ad"/>
<path d="M585.9 690.4L586.8 688.8H585.0Z" fill="#a247ad"/>
<path d="M595.1 690.2L596.0 688.5H594.2Z" fill="#a247ad"/>
<path d="M604.4 689.8L605.3 688.2H603.5Z" fill="#a247ad"/>
<path d="M613.7 689.4L614.6 687.7H612.8Z" fill="#a247ad"/>
<path d="M622.9 689.0L623.8 687.4H622.0Z" fill="#a247ad"/>
<path d="M632.2 688.7L633.1 687.1H631.3Z" fill="#a247ad"/>
<path d="M521.0 690.0L530.3 690.0L539.5 690.0L548.8 689.9L558.1 689.8L567.3 689.5L576.6 689.1L585.9 688.4L595.1 687.2L604.4 685.0L613.7 680.7L622.9 676.7L632.2 671.1" stroke="#55b546" stroke-width="0.8" fill="none"/>
<path d="M521.0 689.1L521.9 690.7H520.1Z" fill="#55b546"/>
<path d="M530.3 689.1L531.2 690.7H529.4Z" fill="#55b546"/>
<path d="M539.5 689.1L540.4 690.7H538.6Z" fill="#55b546"/>
<path d="M548.8 689.0L549.7 690.6H547.9Z" fill="#55b546"/>
<path d="M558.1 688.9L559.0 690.5H557.2Z" fill="#55b546"/>
<path d="M567.3 688.6L568.2 690.2H566.4Z" fill="#55b546"/>
<path d="M576.6 688.2L577.5 689.9H575.7Z" fill="#55b546"/>
<path d="M585.9 687.5L586.8 689.1H585.0Z" fill="#55b546"/>
<path d="M595.1 686.3L596.0 687.9H594.2Z" fill="#55b546"/>
<line x1="604.4" y1="683.0" x2="604.4" y2="687.0" stroke="#55b546" stroke-width="0.9"/>
<line x1="603.2" y1="683.0" x2="605.6" y2="683.0" stroke="#55b546" stroke-width="0.9"/>
<line x1="603.2" y1="687.0" x2="605.6" y2="687.0" stroke="#55b546" stroke-width="0.9"/>
<path d="M604.4 684.1L605.3 685.8H603.5Z" fill="#55b546"/>
<line x1="613.7" y1="678.2" x2="613.7" y2="683.2" stroke="#55b546" stroke-width="0.9"/>
<line x1="612.5" y1="678.2" x2="614.8" y2="678.2" stroke="#55b546" stroke-width="0.9"/>
<line x1="612.5" y1="683.2" x2="614.8" y2="683.2" stroke="#55b546" stroke-width="0.9"/>
<path d="M613.7 679.8L614.6 681.4H612.8Z" fill="#55b546"/>
<line x1="622.9" y1="672.7" x2="622.9" y2="680.7" stroke="#55b546" stroke-width="0.9"/>
<line x1="621.8" y1="672.7" x2="624.1" y2="672.7" stroke="#55b546" stroke-width="0.9"/>
<line x1="621.8" y1="680.7" x2="624.1" y2="680.7" stroke="#55b546" stroke-width="0.9"/>
<path d="M622.9 675.8L623.8 677.4H622.0Z" fill="#55b546"/>
<line x1="632.2" y1="666.1" x2="632.2" y2="676.1" stroke="#55b546" stroke-width="0.9"/>
<line x1="631.0" y1="666.1" x2="633.4" y2="666.1" stroke="#55b546" stroke-width="0.9"/>
<line x1="631.0" y1="676.1" x2="633.4" y2="676.1" stroke="#55b546" stroke-width="0.9"/>
<path d="M632.2 670.2L633.1 671.8H631.3Z" fill="#55b546"/>
<path d="M521.0 690.0L530.3 690.0L539.5 690.0L548.8 689.9L558.1 689.8L567.3 689.5L576.6 689.1L585.9 688.1L595.1 686.9L604.4 684.4L613.7 680.1L622.9 673.9L632.2 665.9" stroke="#ea4a35" stroke-width="0.8" fill="none"/>
<rect x="520.1" y="689.1" width="1.8" height="1.8" fill="#ea4a35"/>
<rect x="529.4" y="689.1" width="1.8" height="1.8" fill="#ea4a35"/>
<rect x="538.6" y="689.1" width="1.8" height="1.8" fill="#ea4a35"/>
<rect x="547.9" y="689.0" width="1.8" height="1.8" fill="#ea4a35"/>
<rect x="557.2" y="688.9" width="1.8" height="1.8" fill="#ea4a35"/>
<rect x="566.4" y="688.6" width="1.8" height="1.8" fill="#ea4a35"/>
<rect x="575.7" y="688.2" width="1.8" height="1.8" fill="#ea4a35"/>
<rect x="585.0" y="687.2" width="1.8" height="1.8" fill="#ea4a35"/>
<rect x="594.2" y="686.0" width="1.8" height="1.8" fill="#ea4a35"/>
<line x1="604.4" y1="682.4" x2="604.4" y2="686.4" stroke="#ea4a35" stroke-width="0.9"/>
<line x1="603.2" y1="682.4" x2="605.6" y2="682.4" stroke="#ea4a35" stroke-width="0.9"/>
<line x1="603.2" y1="686.4" x2="605.6" y2="686.4" stroke="#ea4a35" stroke-width="0.9"/>
<rect x="603.5" y="683.5" width="1.8" height="1.8" fill="#ea4a35"/>
<line x1="613.7" y1="677.6" x2="613.7" y2="682.6" stroke="#ea4a35" stroke-width="0.9"/>
<line x1="612.5" y1="677.6" x2="614.8" y2="677.6" stroke="#ea4a35" stroke-width="0.9"/>
<line x1="612.5" y1="682.6" x2="614.8" y2="682.6" stroke="#ea4a35" stroke-width="0.9"/>
<rect x="612.8" y="679.2" width="1.8" height="1.8" fill="#ea4a35"/>
<line x1="622.9" y1="669.9" x2="622.9" y2="677.9" stroke="#ea4a35" stroke-width="0.9"/>
<line x1="621.8" y1="669.9" x2="624.1" y2="669.9" stroke="#ea4a35" stroke-width="0.9"/>
<line x1="621.8" y1="677.9" x2="624.1" y2="677.9" stroke="#ea4a35" stroke-width="0.9"/>
<rect x="622.0" y="673.0" width="1.8" height="1.8" fill="#ea4a35"/>
<line x1="632.2" y1="661.4" x2="632.2" y2="670.4" stroke="#ea4a35" stroke-width="0.9"/>
<line x1="631.0" y1="661.4" x2="633.4" y2="661.4" stroke="#ea4a35" stroke-width="0.9"/>
<line x1="631.0" y1="670.4" x2="633.4" y2="670.4" stroke="#ea4a35" stroke-width="0.9"/>
<rect x="631.3" y="665.0" width="1.8" height="1.8" fill="#ea4a35"/>
<path d="M521.0 690.0L530.3 690.0L539.5 690.0L548.8 689.7L558.1 689.4L567.3 688.5L576.6 687.2L585.9 684.4L595.1 682.0L604.4 677.6L613.7 657.8L622.9 647.9L632.2 627.5" stroke="#4a4ab8" stroke-width="0.8" fill="none"/>
<circle cx="521.0" cy="690.0" r="0.9" fill="#4a4ab8"/>
<circle cx="530.3" cy="690.0" r="0.9" fill="#4a4ab8"/>
<circle cx="539.5" cy="690.0" r="0.9" fill="#4a4ab8"/>
<circle cx="548.8" cy="689.7" r="0.9" fill="#4a4ab8"/>
<circle cx="558.1" cy="689.4" r="0.9" fill="#4a4ab8"/>
<circle cx="567.3" cy="688.5" r="0.9" fill="#4a4ab8"/>
<circle cx="576.6" cy="687.2" r="0.9" fill="#4a4ab8"/>
<line x1="585.9" y1="682.9" x2="585.9" y2="685.9" stroke="#4a4ab8" stroke-width="0.9"/>
<line x1="584.7" y1="682.9" x2="587.0" y2="682.9" stroke="#4a4ab8" stroke-width="0.9"/>
<line x1="584.7" y1="685.9" x2="587.0" y2="685.9" stroke="#4a4ab8" stroke-width="0.9"/>
<circle cx="585.9" cy="684.4" r="0.9" fill="#4a4ab8"/>
<line x1="595.1" y1="680.0" x2="595.1" y2="684.0" stroke="#4a4ab8" stroke-width="0.9"/>
<line x1="594.0" y1="680.0" x2="596.3" y2="680.0" stroke="#4a4ab8" stroke-width="0.9"/>
<line x1="594.0" y1="684.0" x2="596.3" y2="684.0" stroke="#4a4ab8" stroke-width="0.9"/>
<circle cx="595.1" cy="682.0" r="0.9" fill="#4a4ab8"/>
<line x1="604.4" y1="675.1" x2="604.4" y2="680.1" stroke="#4a4ab8" stroke-width="0.9"/>
<line x1="603.2" y1="675.1" x2="605.6" y2="675.1" stroke="#4a4ab8" stroke-width="0.9"/>
<line x1="603.2" y1="680.1" x2="605.6" y2="680.1" stroke="#4a4ab8" stroke-width="0.9"/>
<circle cx="604.4" cy="677.6" r="0.9" fill="#4a4ab8"/>
<line x1="613.7" y1="652.3" x2="613.7" y2="663.3" stroke="#4a4ab8" stroke-width="0.9"/>
<line x1="612.5" y1="652.3" x2="614.8" y2="652.3" stroke="#4a4ab8" stroke-width="0.9"/>
<line x1="612.5" y1="663.3" x2="614.8" y2="663.3" stroke="#4a4ab8" stroke-width="0.9"/>
<circle cx="613.7" cy="657.8" r="0.9" fill="#4a4ab8"/>
<line x1="622.9" y1="641.9" x2="622.9" y2="653.9" stroke="#4a4ab8" stroke-width="0.9"/>
<line x1="621.8" y1="641.9" x2="624.1" y2="641.9" stroke="#4a4ab8" stroke-width="0.9"/>
<line x1="621.8" y1="653.9" x2="624.1" y2="653.9" stroke="#4a4ab8" stroke-width="0.9"/>
<circle cx="622.9" cy="647.9" r="0.9" fill="#4a4ab8"/>
<line x1="632.2" y1="620.5" x2="632.2" y2="634.5" stroke="#4a4ab8" stroke-width="0.9"/>
<line x1="631.0" y1="620.5" x2="633.4" y2="620.5" stroke="#4a4ab8" stroke-width="0.9"/>
<line x1="631.0" y1="634.5" x2="633.4" y2="634.5" stroke="#4a4ab8" stroke-width="0.9"/>
<circle cx="632.2" cy="627.5" r="0.9" fill="#4a4ab8"/>
<line x1="530.0" y1="608.3" x2="541.7" y2="608.3" stroke="#4a4ab8" stroke-width="0.8"/>
<circle cx="535.8" cy="608.3" r="1.0" fill="#4a4ab8"/>
<text x="546.7" y="610.3" font-size="5.9" fill="#333">CON</text>
<line x1="530.0" y1="619.3" x2="541.7" y2="619.3" stroke="#ea4a35" stroke-width="0.8"/>
<rect x="534.8" y="618.3" width="2.0" height="2.0" fill="#ea4a35"/>
<text x="546.7" y="621.3" font-size="5.9" fill="#333">MET</text>
<line x1="530.0" y1="630.7" x2="541.7" y2="630.7" stroke="#55b546" stroke-width="0.8"/>
<path d="M535.8 629.7L536.8 631.5H534.8Z" fill="#55b546"/>
<text x="546.7" y="632.7" font-size="5.9" fill="#333">SYRO</text>
<line x1="530.0" y1="641.7" x2="541.7" y2="641.7" stroke="#a247ad" stroke-width="0.8"/>
<path d="M535.8 642.7L536.8 640.9H534.8Z" fill="#a247ad"/>
<text x="546.7" y="643.7" font-size="5.9" fill="#333">MET+SYRO</text>
<path d="M635.2 627.0H636.7V667.0H635.2" stroke="#444" stroke-width="0.7" fill="none"/>
<text x="636.9" y="642.5" font-size="4.6" font-weight="bold" text-anchor="middle" transform="rotate(90 636.9 642.5)">****</text>
<path d="M640.5 627.0H642.0V673.0H640.5" stroke="#444" stroke-width="0.7" fill="none"/>
<text x="642.2" y="650.8" font-size="4.6" font-weight="bold" text-anchor="middle" transform="rotate(90 642.2 650.8)">****</text>
<path d="M646.0 627.0H647.5V688.3H646.0" stroke="#444" stroke-width="0.7" fill="none"/>
<text x="647.7" y="660.8" font-size="4.6" font-weight="bold" text-anchor="middle" transform="rotate(90 647.7 660.8)">****</text>
<line x1="366.7" y1="722.8" x2="366.7" y2="824.8" stroke="#444" stroke-width="1"/>
<line x1="364.2" y1="723.3" x2="366.7" y2="723.3" stroke="#444" stroke-width="1"/>
<text x="363.2" y="725.3" font-size="5.6" font-weight="bold" text-anchor="end" stroke="#2a2a2a" stroke-width="0.2">2.5</text>
<line x1="364.2" y1="743.3" x2="366.7" y2="743.3" stroke="#444" stroke-width="1"/>
<text x="363.2" y="745.3" font-size="5.6" font-weight="bold" text-anchor="end" stroke="#2a2a2a" stroke-width="0.2">2.0</text>
<line x1="364.2" y1="763.3" x2="366.7" y2="763.3" stroke="#444" stroke-width="1"/>
<text x="363.2" y="765.3" font-size="5.6" font-weight="bold" text-anchor="end" stroke="#2a2a2a" stroke-width="0.2">1.5</text>
<line x1="364.2" y1="783.7" x2="366.7" y2="783.7" stroke="#444" stroke-width="1"/>
<text x="363.2" y="785.7" font-size="5.6" font-weight="bold" text-anchor="end" stroke="#2a2a2a" stroke-width="0.2">1.0</text>
<line x1="364.2" y1="804.0" x2="366.7" y2="804.0" stroke="#444" stroke-width="1"/>
<text x="363.2" y="806.0" font-size="5.6" font-weight="bold" text-anchor="end" stroke="#2a2a2a" stroke-width="0.2">0.5</text>
<line x1="364.2" y1="824.3" x2="366.7" y2="824.3" stroke="#444" stroke-width="1"/>
<text x="363.2" y="826.3" font-size="5.6" font-weight="bold" text-anchor="end" stroke="#2a2a2a" stroke-width="0.2">0.0</text>
<line x1="366.2" y1="824.3" x2="495.7" y2="824.3" stroke="#444" stroke-width="1"/>
<text x="351.0" y="773.0" font-size="7" font-weight="bold" text-anchor="middle" stroke="#2a2a2a" stroke-width="0.28" transform="rotate(-90 351.0 773.0)">Tumor weight (g)</text>
<path d="M377.7 824.3V756.0H396.7V824.3" stroke="#4a4ab8" stroke-width="0.9" fill="none"/>
<line x1="387.2" y1="749.0" x2="387.2" y2="763.0" stroke="#4a4ab8" stroke-width="0.9"/>
<line x1="384.2" y1="749.0" x2="390.2" y2="749.0" stroke="#4a4ab8" stroke-width="0.9"/>
<line x1="384.2" y1="763.0" x2="390.2" y2="763.0" stroke="#4a4ab8" stroke-width="0.9"/>
<circle cx="387.2" cy="734.0" r="1.0" fill="#4a4ab8"/>
<circle cx="387.2" cy="743.0" r="1.0" fill="#4a4ab8"/>
<circle cx="387.2" cy="758.0" r="1.0" fill="#4a4ab8"/>
<circle cx="386.2" cy="765.0" r="1.0" fill="#4a4ab8"/>
<circle cx="387.2" cy="773.0" r="1.0" fill="#4a4ab8"/>
<path d="M407.3 824.3V787.7H426.3V824.3" stroke="#ea4a35" stroke-width="0.9" fill="none"/>
<line x1="416.8" y1="783.7" x2="416.8" y2="791.7" stroke="#ea4a35" stroke-width="0.9"/>
<line x1="413.8" y1="783.7" x2="419.8" y2="783.7" stroke="#ea4a35" stroke-width="0.9"/>
<line x1="413.8" y1="791.7" x2="419.8" y2="791.7" stroke="#ea4a35" stroke-width="0.9"/>
<circle cx="416.8" cy="777.7" r="1.0" fill="#ea4a35"/>
<circle cx="416.8" cy="782.7" r="1.0" fill="#ea4a35"/>
<circle cx="417.8" cy="787.7" r="1.0" fill="#ea4a35"/>
<circle cx="415.8" cy="790.7" r="1.0" fill="#ea4a35"/>
<circle cx="416.8" cy="799.7" r="1.0" fill="#ea4a35"/>
<path d="M436.7 824.3V791.7H455.7V824.3" stroke="#55b546" stroke-width="0.9" fill="none"/>
<line x1="446.2" y1="784.7" x2="446.2" y2="798.7" stroke="#55b546" stroke-width="0.9"/>
<line x1="443.2" y1="784.7" x2="449.2" y2="784.7" stroke="#55b546" stroke-width="0.9"/>
<line x1="443.2" y1="798.7" x2="449.2" y2="798.7" stroke="#55b546" stroke-width="0.9"/>
<circle cx="446.2" cy="773.7" r="1.0" fill="#55b546"/>
<circle cx="446.2" cy="778.7" r="1.0" fill="#55b546"/>
<circle cx="443.2" cy="797.7" r="1.0" fill="#55b546"/>
<circle cx="446.2" cy="799.7" r="1.0" fill="#55b546"/>
<circle cx="449.2" cy="801.7" r="1.0" fill="#55b546"/>
<path d="M466.0 824.3V814.3H485.0V824.3" stroke="#a247ad" stroke-width="0.9" fill="none"/>
<line x1="475.5" y1="813.3" x2="475.5" y2="815.3" stroke="#a247ad" stroke-width="0.9"/>
<line x1="472.5" y1="813.3" x2="478.5" y2="813.3" stroke="#a247ad" stroke-width="0.9"/>
<line x1="472.5" y1="815.3" x2="478.5" y2="815.3" stroke="#a247ad" stroke-width="0.9"/>
<circle cx="475.5" cy="808.3" r="1.0" fill="#a247ad"/>
<circle cx="471.5" cy="814.3" r="1.0" fill="#a247ad"/>
<circle cx="474.0" cy="814.8" r="1.0" fill="#a247ad"/>
<circle cx="477.0" cy="814.8" r="1.0" fill="#a247ad"/>
<circle cx="479.5" cy="814.3" r="1.0" fill="#a247ad"/>
<line x1="387.3" y1="824.3" x2="387.3" y2="826.8" stroke="#444" stroke-width="1"/>
<line x1="416.7" y1="824.3" x2="416.7" y2="826.8" stroke="#444" stroke-width="1"/>
<line x1="446.3" y1="824.3" x2="446.3" y2="826.8" stroke="#444" stroke-width="1"/>
<line x1="475.7" y1="824.3" x2="475.7" y2="826.8" stroke="#444" stroke-width="1"/>
<path d="M387.3 731.0V729.0H475.7V731.0" stroke="#444" stroke-width="0.8" fill="none"/>
<text x="431.9" y="728.9" font-size="4.8" font-weight="bold" text-anchor="middle" letter-spacing="0.40">****</text>
<path d="M416.7 761.0V759.0H475.7V761.0" stroke="#444" stroke-width="0.8" fill="none"/>
<text x="446.6" y="758.9" font-size="4.8" font-weight="bold" text-anchor="middle" letter-spacing="0.40">*</text>
<path d="M446.3 769.7V767.7H475.7V769.7" stroke="#444" stroke-width="0.8" fill="none"/>
<text x="461.4" y="767.6" font-size="4.8" font-weight="bold" text-anchor="middle" letter-spacing="0.40">*</text>
<text x="387.2" y="833.8" font-size="6.5" font-weight="bold" text-anchor="middle" stroke="#2a2a2a" stroke-width="0.2">CON</text>
<text x="416.7" y="833.8" font-size="6.5" font-weight="bold" text-anchor="middle" stroke="#2a2a2a" stroke-width="0.2">MET</text>
<text x="445.6" y="833.8" font-size="6.5" font-weight="bold" text-anchor="middle" stroke="#2a2a2a" stroke-width="0.2">SYRO</text>
<text x="475.4" y="833.8" font-size="6.5" font-weight="bold" text-anchor="middle" stroke="#2a2a2a" stroke-width="0.2">MET+SYRO</text>
<line x1="524.7" y1="725.2" x2="524.7" y2="824.2" stroke="#444" stroke-width="1"/>
<line x1="522.2" y1="725.7" x2="524.7" y2="725.7" stroke="#444" stroke-width="1"/>
<text x="521.2" y="727.8" font-size="5.8" font-weight="bold" text-anchor="end" stroke="#2a2a2a" stroke-width="0.2">100</text>
<line x1="522.2" y1="758.3" x2="524.7" y2="758.3" stroke="#444" stroke-width="1"/>
<text x="521.2" y="760.4" font-size="5.8" font-weight="bold" text-anchor="end" stroke="#2a2a2a" stroke-width="0.2">50</text>
<line x1="522.2" y1="791.0" x2="524.7" y2="791.0" stroke="#444" stroke-width="1"/>
<text x="521.2" y="793.1" font-size="5.8" font-weight="bold" text-anchor="end" stroke="#2a2a2a" stroke-width="0.2">0</text>
<line x1="522.2" y1="823.7" x2="524.7" y2="823.7" stroke="#444" stroke-width="1"/>
<text x="521.2" y="825.8" font-size="5.8" font-weight="bold" text-anchor="end" stroke="#2a2a2a" stroke-width="0.2">-50</text>
<line x1="524.2" y1="823.7" x2="647.5" y2="823.7" stroke="#444" stroke-width="1"/>
<line x1="524.7" y1="791.0" x2="647.5" y2="791.0" stroke="#777" stroke-width="0.8"/>
<line x1="543.3" y1="823.7" x2="543.3" y2="826.2" stroke="#444" stroke-width="1"/>
<line x1="571.5" y1="823.7" x2="571.5" y2="826.2" stroke="#444" stroke-width="1"/>
<line x1="600.0" y1="823.7" x2="600.0" y2="826.2" stroke="#444" stroke-width="1"/>
<line x1="629.0" y1="823.7" x2="629.0" y2="826.2" stroke="#444" stroke-width="1"/>
<text x="506.0" y="770.5" font-size="6.2" font-weight="bold" text-anchor="middle" stroke="#2a2a2a" stroke-width="0.2" transform="rotate(-90 506.0 770.5)">Tumor growth inhibition (%)</text>
<line x1="543.3" y1="784.0" x2="543.3" y2="798.0" stroke="#4a4ab8" stroke-width="0.9"/>
<line x1="539.0" y1="784.0" x2="547.6" y2="784.0" stroke="#4a4ab8" stroke-width="0.9"/>
<line x1="539.0" y1="798.0" x2="547.6" y2="798.0" stroke="#4a4ab8" stroke-width="0.9"/>
<line x1="534.0" y1="791.0" x2="552.6" y2="791.0" stroke="#4a4ab8" stroke-width="0.9"/>
<circle cx="543.3" cy="774.0" r="1.0" fill="#4a4ab8"/>
<circle cx="543.3" cy="785.0" r="1.0" fill="#4a4ab8"/>
<circle cx="543.3" cy="791.0" r="1.0" fill="#4a4ab8"/>
<circle cx="543.3" cy="800.0" r="1.0" fill="#4a4ab8"/>
<circle cx="543.3" cy="811.0" r="1.0" fill="#4a4ab8"/>
<path d="M561.7 791.0V761.0H580.7V791.0" stroke="#ea4a35" stroke-width="0.9" fill="none"/>
<line x1="571.2" y1="756.5" x2="571.2" y2="765.5" stroke="#ea4a35" stroke-width="0.9"/>
<line x1="568.2" y1="756.5" x2="574.2" y2="756.5" stroke="#ea4a35" stroke-width="0.9"/>
<line x1="568.2" y1="765.5" x2="574.2" y2="765.5" stroke="#ea4a35" stroke-width="0.9"/>
<circle cx="571.2" cy="748.0" r="1.0" fill="#ea4a35"/>
<circle cx="571.2" cy="756.0" r="1.0" fill="#ea4a35"/>
<circle cx="572.2" cy="761.0" r="1.0" fill="#ea4a35"/>
<circle cx="570.2" cy="765.0" r="1.0" fill="#ea4a35"/>
<circle cx="571.2" cy="770.0" r="1.0" fill="#ea4a35"/>
<path d="M590.7 791.0V756.7H609.3V791.0" stroke="#55b546" stroke-width="0.9" fill="none"/>
<line x1="600.0" y1="749.7" x2="600.0" y2="763.7" stroke="#55b546" stroke-width="0.9"/>
<line x1="597.0" y1="749.7" x2="603.0" y2="749.7" stroke="#55b546" stroke-width="0.9"/>
<line x1="597.0" y1="763.7" x2="603.0" y2="763.7" stroke="#55b546" stroke-width="0.9"/>
<circle cx="597.0" cy="746.7" r="1.0" fill="#55b546"/>
<circle cx="600.0" cy="747.7" r="1.0" fill="#55b546"/>
<circle cx="603.0" cy="746.7" r="1.0" fill="#55b546"/>
<circle cx="600.0" cy="761.7" r="1.0" fill="#55b546"/>
<circle cx="600.0" cy="774.7" r="1.0" fill="#55b546"/>
<path d="M619.3 791.0V735.0H638.3V791.0" stroke="#a247ad" stroke-width="0.9" fill="none"/>
<line x1="628.8" y1="733.8" x2="628.8" y2="736.2" stroke="#a247ad" stroke-width="0.9"/>
<line x1="625.8" y1="733.8" x2="631.8" y2="733.8" stroke="#a247ad" stroke-width="0.9"/>
<line x1="625.8" y1="736.2" x2="631.8" y2="736.2" stroke="#a247ad" stroke-width="0.9"/>
<circle cx="624.8" cy="734.0" r="1.0" fill="#a247ad"/>
<circle cx="627.3" cy="735.0" r="1.0" fill="#a247ad"/>
<circle cx="628.8" cy="732.0" r="1.0" fill="#a247ad"/>
<circle cx="630.3" cy="735.5" r="1.0" fill="#a247ad"/>
<circle cx="632.8" cy="734.0" r="1.0" fill="#a247ad"/>
<circle cx="628.8" cy="739.0" r="1.0" fill="#a247ad"/>
<path d="M542.3 716.0V714.0H629.0V716.0" stroke="#444" stroke-width="0.8" fill="none"/>
<text x="586.0" y="713.9" font-size="4.8" font-weight="bold" text-anchor="middle" letter-spacing="0.40">****</text>
<path d="M570.7 722.7V720.7H629.0V722.7" stroke="#444" stroke-width="0.8" fill="none"/>
<text x="600.2" y="720.6" font-size="4.8" font-weight="bold" text-anchor="middle" letter-spacing="0.40">*</text>
<path d="M599.3 728.7V726.7H629.0V728.7" stroke="#444" stroke-width="0.8" fill="none"/>
<text x="614.5" y="726.6" font-size="4.8" font-weight="bold" text-anchor="middle" letter-spacing="0.40">*</text>
<text x="543.3" y="833.8" font-size="6.5" font-weight="bold" text-anchor="middle" stroke="#2a2a2a" stroke-width="0.2">CON</text>
<text x="571.5" y="833.8" font-size="6.5" font-weight="bold" text-anchor="middle" stroke="#2a2a2a" stroke-width="0.2">MET</text>
<text x="599.8" y="833.8" font-size="6.5" font-weight="bold" text-anchor="middle" stroke="#2a2a2a" stroke-width="0.2">SYRO</text>
<text x="629.0" y="833.8" font-size="6.5" font-weight="bold" text-anchor="middle" stroke="#2a2a2a" stroke-width="0.2">MET+SYRO</text>
<text x="675.0" y="596.3" font-size="26" font-weight="bold" fill="#111">j</text>
<text x="684.5" y="607.0" font-size="11.5" font-weight="bold">MET</text>
<text x="684.5" y="616.2" font-size="11.5" font-weight="bold">Syro</text>
<text x="730.8" y="607.1" font-size="10" font-weight="bold" text-anchor="middle">-</text>
<text x="757.2" y="607.1" font-size="10" font-weight="bold" text-anchor="middle">+</text>
<text x="782.5" y="607.1" font-size="10" font-weight="bold" text-anchor="middle">-</text>
<text x="806.6" y="607.1" font-size="10" font-weight="bold" text-anchor="middle">+</text>
<text x="730.8" y="616.1" font-size="10" font-weight="bold" text-anchor="middle">-</text>
<text x="757.2" y="616.1" font-size="10" font-weight="bold" text-anchor="middle">-</text>
<text x="782.5" y="616.1" font-size="10" font-weight="bold" text-anchor="middle">+</text>
<text x="806.6" y="616.1" font-size="10" font-weight="bold" text-anchor="middle">+</text>
<rect x="717.2" y="619.2" width="104.2" height="18.8" fill="#d2d2d2" stroke="#404040" stroke-width="1.1"/>
<rect x="721.8" y="626.0" width="20.5" height="5.2" rx="2.6" fill="#111" opacity="0.89" filter="url(#bl)"/>
<rect x="747.4" y="626.6" width="20.5" height="3.9" rx="2.0" fill="#111" opacity="0.32" filter="url(#bl)"/>
<rect x="771.8" y="626.8" width="20.5" height="3.7" rx="1.9" fill="#111" opacity="0.21" filter="url(#bl)"/>
<rect x="797.4" y="626.9" width="20.5" height="3.4" rx="1.7" fill="#111" opacity="0.05" filter="url(#bl)"/>
<text x="713.7" y="631.8" font-size="9.0" font-weight="bold" text-anchor="end" fill="#333" stroke="#333" stroke-width="0.28">N-cad</text>
<text x="824.5" y="631.9" font-size="8.9" font-weight="bold" fill="#222" stroke="#222" stroke-width="0.28">140 kDa</text>
<rect x="717.2" y="642.7" width="104.2" height="18.6" fill="#dcdcdc" stroke="#404040" stroke-width="1.1"/>
<rect x="721.8" y="650.0" width="20.5" height="3.9" rx="2.0" fill="#111" opacity="0.53" filter="url(#bl)"/>
<rect x="747.4" y="649.9" width="20.5" height="4.2" rx="2.1" fill="#111" opacity="0.68" filter="url(#bl)"/>
<rect x="771.8" y="649.8" width="20.5" height="4.3" rx="2.2" fill="#111" opacity="0.73" filter="url(#bl)"/>
<rect x="797.4" y="649.7" width="20.5" height="4.6" rx="2.3" fill="#111" opacity="0.89" filter="url(#bl)"/>
<text x="713.7" y="655.2" font-size="9.0" font-weight="bold" text-anchor="end" fill="#333" stroke="#333" stroke-width="0.28">E-cad</text>
<text x="824.5" y="655.3" font-size="8.9" font-weight="bold" fill="#222" stroke="#222" stroke-width="0.28">135 kDa</text>
<rect x="717.2" y="665.4" width="104.2" height="18.8" fill="#ececec" stroke="#404040" stroke-width="1.1"/>
<rect x="721.8" y="671.9" width="20.5" height="5.8" rx="2.9" fill="#111" opacity="0.95" filter="url(#bl)"/>
<rect x="747.4" y="671.8" width="20.5" height="5.9" rx="3.0" fill="#111" opacity="1.00" filter="url(#bl)"/>
<rect x="771.8" y="671.9" width="20.5" height="5.8" rx="2.9" fill="#111" opacity="0.95" filter="url(#bl)"/>
<rect x="797.4" y="672.6" width="20.5" height="4.4" rx="2.2" fill="#111" opacity="0.37" filter="url(#bl)"/>
<text x="713.7" y="678.0" font-size="9.0" font-weight="bold" text-anchor="end" fill="#333" stroke="#333" stroke-width="0.28">Vimentin</text>
<text x="824.5" y="678.1" font-size="8.9" font-weight="bold" fill="#222" stroke="#222" stroke-width="0.28">57 kDa</text>
<rect x="717.2" y="688.2" width="104.2" height="19.0" fill="#e2e2e2" stroke="#404040" stroke-width="1.1"/>
<rect x="721.8" y="693.5" width="20.5" height="8.4" rx="4.2" fill="#111" opacity="0.95" filter="url(#bl)"/>
<rect x="747.4" y="694.1" width="20.5" height="7.2" rx="3.6" fill="#111" opacity="0.58" filter="url(#bl)"/>
<rect x="771.8" y="694.7" width="20.5" height="6.1" rx="3.1" fill="#111" opacity="0.26" filter="url(#bl)"/>
<rect x="797.4" y="694.7" width="20.5" height="5.9" rx="3.0" fill="#111" opacity="0.21" filter="url(#bl)"/>
<text x="713.7" y="700.9" font-size="9.0" font-weight="bold" text-anchor="end" fill="#333" stroke="#333" stroke-width="0.28">Snail</text>
<text x="824.5" y="701.0" font-size="8.9" font-weight="bold" fill="#222" stroke="#222" stroke-width="0.28">29 kDa</text>
<rect x="717.2" y="711.0" width="104.2" height="19.0" fill="#cecece" stroke="#404040" stroke-width="1.1"/>
<rect x="721.8" y="715.5" width="20.5" height="9.9" rx="5.0" fill="#111" opacity="1.00" filter="url(#bl)"/>
<rect x="747.4" y="716.2" width="20.5" height="8.7" rx="4.3" fill="#111" opacity="0.73" filter="url(#bl)"/>
<rect x="771.8" y="716.4" width="20.5" height="8.3" rx="4.1" fill="#111" opacity="0.63" filter="url(#bl)"/>
<rect x="797.4" y="716.4" width="20.5" height="8.3" rx="4.1" fill="#111" opacity="0.63" filter="url(#bl)"/>
<text x="713.7" y="723.7" font-size="9.0" font-weight="bold" text-anchor="end" fill="#333" stroke="#333" stroke-width="0.28">SOX2</text>
<text x="824.5" y="723.8" font-size="8.9" font-weight="bold" fill="#222" stroke="#222" stroke-width="0.28">34 kDa</text>
<rect x="717.2" y="734.6" width="104.2" height="18.4" fill="#f1f1f1" stroke="#404040" stroke-width="1.1"/>
<rect x="721.8" y="741.0" width="20.5" height="5.7" rx="2.8" fill="#111" opacity="0.68" filter="url(#bl)"/>
<rect x="747.4" y="741.1" width="20.5" height="5.4" rx="2.7" fill="#111" opacity="0.58" filter="url(#bl)"/>
<rect x="771.8" y="741.3" width="20.5" height="5.0" rx="2.5" fill="#111" opacity="0.42" filter="url(#bl)"/>
<rect x="797.4" y="741.6" width="20.5" height="4.3" rx="2.2" fill="#111" opacity="0.16" filter="url(#bl)"/>
<text x="713.7" y="747.0" font-size="9.0" font-weight="bold" text-anchor="end" fill="#333" stroke="#333" stroke-width="0.28">CD44</text>
<text x="824.5" y="747.1" font-size="8.9" font-weight="bold" fill="#222" stroke="#222" stroke-width="0.28">81 kDa</text>
<rect x="717.2" y="758.0" width="104.2" height="17.8" fill="#f2f2f2" stroke="#404040" stroke-width="1.1"/>
<rect x="721.8" y="764.2" width="20.5" height="5.4" rx="2.7" fill="#111" opacity="1.00" filter="url(#bl)"/>
<rect x="747.4" y="764.2" width="20.5" height="5.4" rx="2.7" fill="#111" opacity="1.00" filter="url(#bl)"/>
<rect x="771.8" y="764.3" width="20.5" height="5.2" rx="2.6" fill="#111" opacity="0.89" filter="url(#bl)"/>
<rect x="797.4" y="764.5" width="20.5" height="4.8" rx="2.4" fill="#111" opacity="0.73" filter="url(#bl)"/>
<text x="713.7" y="770.1" font-size="9.0" font-weight="bold" text-anchor="end" fill="#333" stroke="#333" stroke-width="0.28">OCT4</text>
<text x="824.5" y="770.2" font-size="8.9" font-weight="bold" fill="#222" stroke="#222" stroke-width="0.28">45 kDa</text>
<rect x="717.2" y="781.0" width="104.2" height="18.0" fill="#f1f1f1" stroke="#404040" stroke-width="1.1"/>
<rect x="721.8" y="787.8" width="20.5" height="4.4" rx="2.2" fill="#111" opacity="0.79" filter="url(#bl)"/>
<rect x="747.4" y="788.0" width="20.5" height="4.0" rx="2.0" fill="#111" opacity="0.58" filter="url(#bl)"/>
<rect x="771.8" y="787.9" width="20.5" height="4.1" rx="2.1" fill="#111" opacity="0.63" filter="url(#bl)"/>
<rect x="797.4" y="788.1" width="20.5" height="3.8" rx="1.9" fill="#111" opacity="0.47" filter="url(#bl)"/>
<text x="713.7" y="793.2" font-size="9.0" font-weight="bold" text-anchor="end" fill="#333" stroke="#333" stroke-width="0.28">Nanog</text>
<text x="824.5" y="793.3" font-size="8.9" font-weight="bold" fill="#222" stroke="#222" stroke-width="0.28">42 kDa</text>
<rect x="717.2" y="803.6" width="104.2" height="18.4" fill="#ececec" stroke="#404040" stroke-width="1.1"/>
<rect x="721.8" y="810.1" width="20.5" height="5.4" rx="2.7" fill="#111" opacity="1.00" filter="url(#bl)"/>
<rect x="747.4" y="810.2" width="20.5" height="5.3" rx="2.6" fill="#111" opacity="0.95" filter="url(#bl)"/>
<rect x="771.8" y="810.2" width="20.5" height="5.3" rx="2.6" fill="#111" opacity="0.95" filter="url(#bl)"/>
<rect x="797.4" y="810.2" width="20.5" height="5.3" rx="2.6" fill="#111" opacity="0.95" filter="url(#bl)"/>
<text x="713.7" y="816.0" font-size="9.0" font-weight="bold" text-anchor="end" fill="#333" stroke="#333" stroke-width="0.28">β-actin</text>
<text x="824.5" y="816.1" font-size="8.9" font-weight="bold" fill="#222" stroke="#222" stroke-width="0.28">42 kDa</text>
<text x="930.8" y="605.8" font-size="11.3" font-weight="bold" text-anchor="middle" fill="#333">CD44</text>
<text x="1004.7" y="605.8" font-size="11.3" font-weight="bold" text-anchor="middle" fill="#333">Vimentin</text>
<text x="866.0" y="644.7" font-size="11.5" font-weight="bold" fill="#222">CON</text>
<text x="866.0" y="696.4" font-size="11.5" font-weight="bold" fill="#222">MET</text>
<text x="866.0" y="747.0" font-size="11.5" font-weight="bold" fill="#222">SYRO</text>
<text x="866.0" y="798.3" font-size="11.5" font-weight="bold" fill="#222">MET+</text>
<text x="866.0" y="810.3" font-size="11.5" font-weight="bold" fill="#222">SYRO</text>
<g filter="url(#soft)">
<rect x="900.0" y="610.0" width="66.0" height="49.5" fill="#aa9c93"/>
<rect x="900.0" y="610.0" width="66.0" height="49.5" filter="url(#nz)" opacity="0.7"/>
<rect x="900.0" y="610.0" width="66.0" height="49.5" filter="url(#nzl)" opacity="0.35"/>
<rect x="968.4" y="610.0" width="65.8" height="49.5" fill="#ab9b91"/>
<rect x="968.4" y="610.0" width="65.8" height="49.5" filter="url(#nz)" opacity="0.75"/>
<rect x="968.4" y="610.0" width="65.8" height="49.5" filter="url(#nzl)" opacity="0.35"/>
<rect x="900.0" y="663.3" width="66.0" height="49.7" fill="#b0a49c"/>
<rect x="900.0" y="663.3" width="66.0" height="49.7" filter="url(#nz)" opacity="0.6"/>
<rect x="900.0" y="663.3" width="66.0" height="49.7" filter="url(#nzl)" opacity="0.4"/>
<rect x="968.4" y="663.3" width="65.8" height="49.7" fill="#afa299"/>
<rect x="968.4" y="663.3" width="65.8" height="49.7" filter="url(#nz)" opacity="0.62"/>
<rect x="968.4" y="663.3" width="65.8" height="49.7" filter="url(#nzl)" opacity="0.45"/>
<rect x="900.0" y="717.0" width="66.0" height="49.8" fill="#a99b92"/>
<rect x="900.0" y="717.0" width="66.0" height="49.8" filter="url(#nz)" opacity="0.7"/>
<rect x="900.0" y="717.0" width="66.0" height="49.8" filter="url(#nzl)" opacity="0.35"/>
<rect x="968.4" y="717.0" width="65.8" height="49.8" fill="#a9998f"/>
<rect x="968.4" y="717.0" width="65.8" height="49.8" filter="url(#nz)" opacity="0.78"/>
<rect x="968.4" y="717.0" width="65.8" height="49.8" filter="url(#nzl)" opacity="0.3"/>
<rect x="900.0" y="771.0" width="66.0" height="49.9" fill="#a3a1b8"/>
<rect x="900.0" y="771.0" width="66.0" height="49.9" filter="url(#nzb)" opacity="0.6"/>
<rect x="900.0" y="771.0" width="66.0" height="49.9" filter="url(#nzl)" opacity="0.35"/>
<rect x="968.4" y="771.0" width="65.8" height="49.9" fill="#b8afb1"/>
<rect x="968.4" y="771.0" width="65.8" height="49.9" filter="url(#nz)" opacity="0.6"/>
<rect x="968.4" y="771.0" width="65.8" height="49.9" filter="url(#nzl)" opacity="0.6"/>
</g>
<line x1="1017.0" y1="816.5" x2="1029.0" y2="816.5" stroke="#333" stroke-width="1"/>
</g>
</svg>
<div class="cap">同时靶向ATP和乳酸抑制胃癌细胞的干性和肿瘤生长</div>
</body></html>
